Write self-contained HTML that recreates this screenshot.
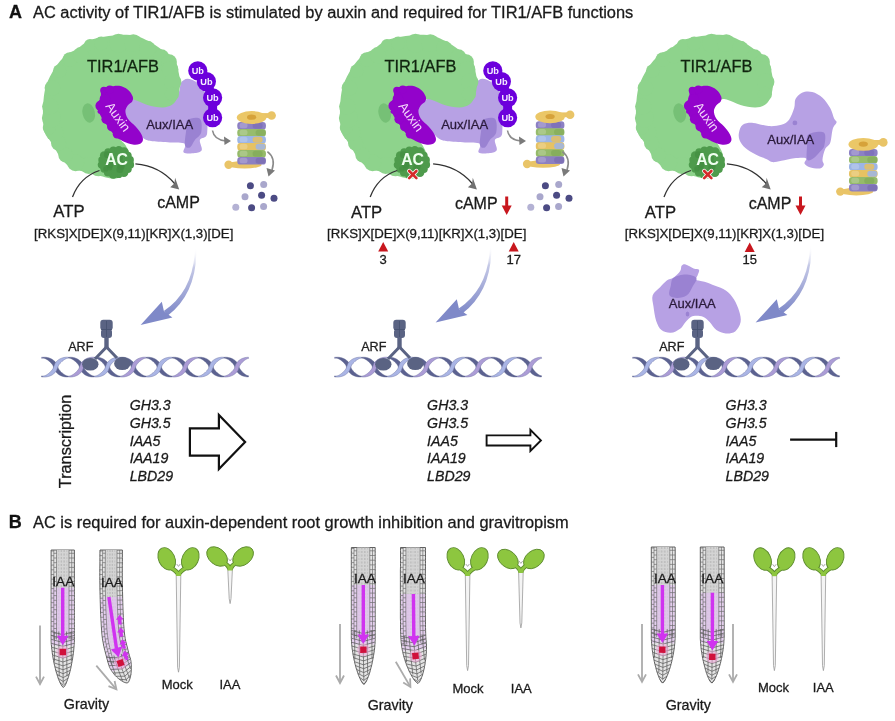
<!DOCTYPE html>
<html><head><meta charset="utf-8"><style>
html,body{margin:0;padding:0;background:#fff;}
svg{display:block;font-family:'Liberation Sans',sans-serif;will-change:transform;}
svg text{font-family:'Liberation Sans',sans-serif;}
</style></head><body>
<svg width="895" height="721" viewBox="0 0 895 721">
<rect width="895" height="721" fill="#ffffff"/>
<defs><linearGradient id="bg" x1="0" y1="0" x2="0" y2="1"><stop offset="0" stop-color="#ffffff" stop-opacity="0"/><stop offset="0.3" stop-color="#C4C8E6"/><stop offset="1" stop-color="#7F89C8"/></linearGradient></defs>
<text x="9.0" y="17.9" font-size="18" fill="#111" stroke="#111" stroke-width="0.28" font-weight="bold" font-style="normal" text-anchor="start" >A</text>
<text x="33" y="17.8" font-size="16.42" fill="#1a1a1a" stroke="#1a1a1a" stroke-width="0.28" font-weight="normal" font-style="normal" text-anchor="start" >AC activity of TIR1/AFB is stimulated by auxin and required for TIR1/AFB functions</text>
<path d="M121.0,114.0 C118.7,109.2 122.1,106.5 124.0,104.0 C125.9,101.5 129.0,100.0 132.5,99.0 C136.0,98.0 140.2,98.0 145.0,98.0 C149.8,98.0 156.4,99.0 161.2,99.0 C166.0,99.0 171.0,99.2 174.0,98.0 C177.0,96.8 177.8,94.6 179.0,92.0 C180.2,89.4 179.8,84.7 181.2,82.5 C182.6,80.3 185.1,78.9 187.4,78.7 C189.7,78.5 192.3,79.7 194.9,81.2 C197.5,82.8 200.8,84.0 203.0,88.0 C205.2,92.0 207.3,98.2 208.0,105.0 C208.7,111.8 207.7,123.5 207.4,128.7 C207.1,133.9 207.3,134.3 206.1,136.2 C204.8,138.1 200.6,137.6 199.9,139.9 C199.2,142.2 202.6,147.7 201.8,149.9 C201.0,152.1 197.9,152.6 194.9,153.0 C191.9,153.4 185.4,154.0 183.7,152.4 C182.0,150.8 187.2,145.4 184.9,143.7 C182.6,142.0 175.3,142.8 169.9,142.4 C164.5,142.0 156.7,141.7 152.5,141.2 C148.3,140.7 147.4,140.7 145.0,139.3 C142.6,137.9 142.0,137.2 138.0,133.0 C134.0,128.8 123.3,118.8 121.0,114.0 Z" fill="#B7A1E4"/>
<path d="M187.4,120.0 C189.7,118.1 197.6,116.6 199.9,118.7 C202.2,120.8 202.0,128.9 201.2,132.4 C200.4,135.9 196.8,137.4 194.9,139.9 C193.0,142.4 191.6,146.6 189.9,147.4 C188.2,148.2 185.5,147.8 184.9,144.9 C184.3,142.0 185.8,134.2 186.2,130.0 C186.6,125.8 185.1,121.9 187.4,120.0 Z" fill="#9A82D2"/>
<path d="M55.0,68.0 C58.3,62.8 62.3,58.2 66.0,55.0 C69.7,51.8 73.3,51.3 77.0,49.0 C80.7,46.7 84.2,42.9 88.0,41.0 C91.8,39.1 95.0,38.5 100.0,37.5 C105.0,36.5 112.2,35.3 118.0,35.0 C123.8,34.7 129.5,34.2 135.0,35.5 C140.5,36.8 146.0,39.8 151.0,42.5 C156.0,45.2 161.2,49.4 165.0,52.0 C168.8,54.6 171.9,55.4 174.0,58.0 C176.1,60.6 176.5,63.5 177.5,67.5 C178.5,71.5 179.9,77.2 180.0,82.0 C180.1,86.8 179.3,92.2 178.0,96.0 C176.7,99.8 175.0,102.6 172.4,104.5 C169.8,106.4 166.6,107.3 162.4,107.4 C158.2,107.5 152.1,106.1 147.5,104.9 C142.9,103.7 138.4,100.8 135.0,100.0 C131.6,99.2 130.0,98.3 127.0,100.0 C124.0,101.7 119.2,105.8 117.0,110.0 C114.8,114.2 113.7,120.3 114.0,125.0 C114.3,129.7 117.0,134.5 119.0,138.0 C121.0,141.5 124.2,142.3 126.0,146.0 C127.8,149.7 131.3,154.7 130.0,160.0 C128.7,165.3 123.5,175.5 118.0,178.0 C112.5,180.5 102.2,176.0 97.0,175.0 C91.8,174.0 91.1,173.1 87.0,172.0 C82.9,170.9 76.8,170.9 72.5,168.7 C68.2,166.5 64.3,162.4 61.2,158.7 C58.1,154.9 56.1,150.0 53.7,146.2 C51.3,142.4 48.7,138.9 47.0,136.0 C45.3,133.1 44.4,133.7 43.7,128.7 C43.1,123.7 42.7,113.3 43.1,106.2 C43.5,99.1 44.0,92.4 46.0,86.0 C48.0,79.6 51.7,73.2 55.0,68.0 Z" fill="#8ED38C"/>
<g fill="#8ED38C"><circle cx="59.7" cy="71.0" r="6.8"/><circle cx="69.9" cy="59.5" r="7.3"/><circle cx="81.0" cy="55.3" r="8.2"/><circle cx="90.0" cy="45.0" r="6.0"/><circle cx="101.2" cy="43.4" r="6.9"/><circle cx="118.5" cy="43.3" r="9.5"/><circle cx="133.3" cy="43.1" r="8.9"/><circle cx="147.4" cy="49.0" r="8.2"/><circle cx="161.3" cy="57.5" r="8.2"/><circle cx="169.1" cy="62.0" r="7.8"/><circle cx="170.1" cy="69.4" r="8.3"/><circle cx="172.7" cy="82.1" r="8.7"/><circle cx="171.9" cy="93.9" r="7.1"/><circle cx="98.5" cy="167.3" r="9.0"/><circle cx="88.7" cy="165.4" r="8.5"/><circle cx="75.6" cy="162.7" r="8.5"/><circle cx="65.7" cy="155.0" r="7.4"/><circle cx="58.6" cy="143.1" r="7.6"/><circle cx="54.3" cy="131.9" r="9.1"/><circle cx="49.3" cy="128.0" r="6.5"/><circle cx="51.3" cy="118.0" r="9.4"/><circle cx="50.3" cy="106.6" r="8.2"/><circle cx="52.4" cy="88.0" r="7.8"/></g>
<ellipse cx="88.7" cy="113" rx="6.2" ry="9.8" fill="#76C076" transform="rotate(-12 88.7 113)"/>
<text x="87" y="72.4" font-size="16.4" fill="#10240f" stroke="#10240f" stroke-width="0.28" font-weight="normal" font-style="normal" text-anchor="start" >TIR1/AFB</text>
<path d="M101.7,88.7 C103.2,86.9 106.5,87.3 109.4,86.8 C112.3,86.3 116.0,85.3 119.1,85.8 C122.2,86.3 125.6,87.9 127.9,89.7 C130.2,91.5 132.0,94.5 132.7,96.5 C133.4,98.5 133.0,100.0 132.2,101.4 C131.4,102.9 129.0,103.6 127.9,105.2 C126.8,106.8 125.4,108.8 125.4,111.1 C125.4,113.4 126.2,116.2 127.9,118.8 C129.6,121.4 133.3,124.0 135.6,126.6 C137.9,129.2 140.3,132.1 141.5,134.4 C142.7,136.7 143.2,138.6 142.9,140.2 C142.6,141.8 141.2,143.4 139.5,144.1 C137.8,144.8 135.4,145.1 132.7,144.6 C129.9,144.1 125.9,142.6 123.0,141.2 C120.1,139.8 117.5,138.4 115.2,136.3 C112.9,134.2 111.3,131.1 109.4,128.5 C107.5,125.9 105.4,123.5 103.6,120.8 C101.8,118.0 99.8,114.6 98.7,112.0 C97.6,109.4 96.5,107.6 96.8,105.2 C97.1,102.8 99.9,100.2 100.7,97.5 C101.5,94.8 100.2,90.5 101.7,88.7 Z" fill="#9303CB"/>
<g fill="#9303CB"><circle cx="117.1" cy="134.3" r="4.3"/><circle cx="111.9" cy="126.6" r="4.9"/><circle cx="106.1" cy="119.2" r="4.7"/><circle cx="99.7" cy="111.6" r="2.2"/><circle cx="100.8" cy="105.7" r="5.4"/><circle cx="105.0" cy="98.8" r="5.3"/><circle cx="103.9" cy="90.5" r="3.7"/><circle cx="109.8" cy="89.5" r="4.0"/></g>
<text x="0" y="0" font-size="13" fill="#f4d8fb" transform="translate(105,106.3) rotate(54)">Auxin</text>
<text x="146.2" y="128.7" font-size="13" fill="#2a1a3a" stroke="#2a1a3a" stroke-width="0.28" font-weight="normal" font-style="normal" text-anchor="start" >Aux/IAA</text>
<ellipse cx="116" cy="162.3" rx="15.5" ry="13.5" fill="#4E9B4C"/>
<circle cx="130.0" cy="164.7" r="4.1" fill="#4E9B4C"/>
<circle cx="127.9" cy="169.2" r="3.8" fill="#4E9B4C"/>
<circle cx="123.9" cy="172.6" r="4.5" fill="#4E9B4C"/>
<circle cx="118.7" cy="174.4" r="3.7" fill="#4E9B4C"/>
<circle cx="113.2" cy="174.4" r="4.4" fill="#4E9B4C"/>
<circle cx="108.0" cy="172.5" r="4.1" fill="#4E9B4C"/>
<circle cx="104.1" cy="169.1" r="3.7" fill="#4E9B4C"/>
<circle cx="102.0" cy="164.7" r="4.3" fill="#4E9B4C"/>
<circle cx="102.0" cy="159.9" r="3.7" fill="#4E9B4C"/>
<circle cx="104.1" cy="155.4" r="4.2" fill="#4E9B4C"/>
<circle cx="108.1" cy="152.0" r="3.7" fill="#4E9B4C"/>
<circle cx="113.3" cy="150.2" r="3.7" fill="#4E9B4C"/>
<circle cx="118.8" cy="150.2" r="4.2" fill="#4E9B4C"/>
<circle cx="124.0" cy="152.1" r="4.8" fill="#4E9B4C"/>
<circle cx="127.9" cy="155.5" r="3.8" fill="#4E9B4C"/>
<circle cx="130.0" cy="159.9" r="3.9" fill="#4E9B4C"/>
<circle cx="107.3" cy="154.7" r="3.4" fill="#438F42" opacity="0.7"/>
<circle cx="105.8" cy="168.9" r="2.6" fill="#438F42" opacity="0.7"/>
<circle cx="120.2" cy="157.9" r="2.7" fill="#438F42" opacity="0.7"/>
<circle cx="121.0" cy="166.2" r="3.7" fill="#438F42" opacity="0.7"/>
<circle cx="119.9" cy="169.4" r="3.5" fill="#438F42" opacity="0.7"/>
<circle cx="109.8" cy="167.8" r="2.6" fill="#438F42" opacity="0.7"/>
<circle cx="121.4" cy="164.1" r="3.5" fill="#438F42" opacity="0.7"/>
<circle cx="109.9" cy="164.9" r="3.4" fill="#438F42" opacity="0.7"/>
<circle cx="109.6" cy="164.0" r="3.7" fill="#438F42" opacity="0.7"/>
<text x="116.6" y="164.5" font-size="15.8" fill="#f0fff0" font-weight="bold" font-style="normal" text-anchor="middle" >AC</text>
<path d="M416.0,114.0 C413.7,109.2 417.1,106.5 419.0,104.0 C420.9,101.5 424.0,100.0 427.5,99.0 C431.0,98.0 435.2,98.0 440.0,98.0 C444.8,98.0 451.4,99.0 456.2,99.0 C461.0,99.0 466.0,99.2 469.0,98.0 C472.0,96.8 472.8,94.6 474.0,92.0 C475.2,89.4 474.8,84.7 476.2,82.5 C477.6,80.3 480.1,78.9 482.4,78.7 C484.7,78.5 487.3,79.7 489.9,81.2 C492.5,82.8 495.8,84.0 498.0,88.0 C500.2,92.0 502.3,98.2 503.0,105.0 C503.7,111.8 502.7,123.5 502.4,128.7 C502.1,133.9 502.4,134.3 501.1,136.2 C499.9,138.1 495.6,137.6 494.9,139.9 C494.2,142.2 497.6,147.7 496.8,149.9 C496.0,152.1 492.9,152.6 489.9,153.0 C486.9,153.4 480.4,154.0 478.7,152.4 C477.0,150.8 482.2,145.4 479.9,143.7 C477.6,142.0 470.3,142.8 464.9,142.4 C459.5,142.0 451.6,141.7 447.5,141.2 C443.4,140.7 442.4,140.7 440.0,139.3 C437.6,137.9 437.0,137.2 433.0,133.0 C429.0,128.8 418.3,118.8 416.0,114.0 Z" fill="#B7A1E4"/>
<path d="M482.4,120.0 C484.7,118.1 492.6,116.6 494.9,118.7 C497.2,120.8 497.0,128.9 496.2,132.4 C495.4,135.9 491.8,137.4 489.9,139.9 C488.0,142.4 486.6,146.6 484.9,147.4 C483.2,148.2 480.5,147.8 479.9,144.9 C479.3,142.0 480.8,134.2 481.2,130.0 C481.6,125.8 480.1,121.9 482.4,120.0 Z" fill="#9A82D2"/>
<path d="M352.0,68.0 C355.3,62.8 359.3,58.2 363.0,55.0 C366.7,51.8 370.3,51.3 374.0,49.0 C377.7,46.7 381.2,42.9 385.0,41.0 C388.8,39.1 392.0,38.5 397.0,37.5 C402.0,36.5 409.2,35.3 415.0,35.0 C420.8,34.7 426.5,34.2 432.0,35.5 C437.5,36.8 443.0,39.8 448.0,42.5 C453.0,45.2 458.2,49.4 462.0,52.0 C465.8,54.6 468.9,55.4 471.0,58.0 C473.1,60.6 473.5,63.5 474.5,67.5 C475.5,71.5 476.9,77.2 477.0,82.0 C477.1,86.8 476.3,92.2 475.0,96.0 C473.7,99.8 472.0,102.6 469.4,104.5 C466.8,106.4 463.5,107.3 459.4,107.4 C455.2,107.5 449.1,106.1 444.5,104.9 C439.9,103.7 435.4,100.8 432.0,100.0 C428.6,99.2 427.0,98.3 424.0,100.0 C421.0,101.7 416.2,105.8 414.0,110.0 C411.8,114.2 410.7,120.3 411.0,125.0 C411.3,129.7 414.0,134.5 416.0,138.0 C418.0,141.5 421.2,142.3 423.0,146.0 C424.8,149.7 428.3,154.7 427.0,160.0 C425.7,165.3 420.5,175.5 415.0,178.0 C409.5,180.5 399.2,176.0 394.0,175.0 C388.8,174.0 388.1,173.1 384.0,172.0 C379.9,170.9 373.8,170.9 369.5,168.7 C365.2,166.5 361.3,162.4 358.2,158.7 C355.1,154.9 353.1,150.0 350.7,146.2 C348.3,142.4 345.7,138.9 344.0,136.0 C342.3,133.1 341.3,133.7 340.7,128.7 C340.1,123.7 339.7,113.3 340.1,106.2 C340.5,99.1 341.0,92.4 343.0,86.0 C345.0,79.6 348.7,73.2 352.0,68.0 Z" fill="#8ED38C"/>
<g fill="#8ED38C"><circle cx="356.7" cy="71.0" r="6.8"/><circle cx="366.9" cy="59.5" r="7.3"/><circle cx="378.0" cy="55.3" r="8.2"/><circle cx="387.0" cy="45.0" r="6.0"/><circle cx="398.2" cy="43.4" r="6.9"/><circle cx="415.5" cy="43.3" r="9.5"/><circle cx="430.3" cy="43.1" r="8.9"/><circle cx="444.4" cy="49.0" r="8.2"/><circle cx="458.3" cy="57.5" r="8.2"/><circle cx="466.1" cy="62.0" r="7.8"/><circle cx="467.1" cy="69.4" r="8.3"/><circle cx="469.7" cy="82.1" r="8.7"/><circle cx="468.9" cy="93.9" r="7.1"/><circle cx="395.5" cy="167.3" r="9.0"/><circle cx="385.7" cy="165.4" r="8.5"/><circle cx="372.6" cy="162.7" r="8.5"/><circle cx="362.7" cy="155.0" r="7.4"/><circle cx="355.6" cy="143.1" r="7.6"/><circle cx="351.3" cy="131.9" r="9.1"/><circle cx="346.3" cy="128.0" r="6.5"/><circle cx="348.3" cy="118.0" r="9.4"/><circle cx="347.3" cy="106.6" r="8.2"/><circle cx="349.4" cy="88.0" r="7.8"/></g>
<ellipse cx="384.7" cy="113" rx="6.2" ry="9.8" fill="#76C076" transform="rotate(-12 384.7 113)"/>
<text x="384.4" y="72.4" font-size="16.4" fill="#10240f" stroke="#10240f" stroke-width="0.28" font-weight="normal" font-style="normal" text-anchor="start" >TIR1/AFB</text>
<path d="M394.7,88.7 C396.1,86.9 399.5,87.3 402.4,86.8 C405.3,86.3 409.0,85.3 412.1,85.8 C415.2,86.3 418.6,87.9 420.9,89.7 C423.2,91.5 425.0,94.5 425.7,96.5 C426.4,98.5 426.0,100.0 425.2,101.4 C424.4,102.9 422.0,103.6 420.9,105.2 C419.8,106.8 418.4,108.8 418.4,111.1 C418.4,113.4 419.2,116.2 420.9,118.8 C422.6,121.4 426.3,124.0 428.6,126.6 C430.9,129.2 433.3,132.1 434.5,134.4 C435.7,136.7 436.2,138.6 435.9,140.2 C435.6,141.8 434.2,143.4 432.5,144.1 C430.8,144.8 428.4,145.1 425.7,144.6 C422.9,144.1 418.9,142.6 416.0,141.2 C413.1,139.8 410.5,138.4 408.2,136.3 C405.9,134.2 404.3,131.1 402.4,128.5 C400.5,125.9 398.4,123.5 396.6,120.8 C394.8,118.0 392.8,114.6 391.7,112.0 C390.6,109.4 389.5,107.6 389.8,105.2 C390.1,102.8 392.9,100.2 393.7,97.5 C394.5,94.8 393.2,90.5 394.7,88.7 Z" fill="#9303CB"/>
<g fill="#9303CB"><circle cx="410.1" cy="134.3" r="4.3"/><circle cx="404.9" cy="126.6" r="4.9"/><circle cx="399.1" cy="119.2" r="4.7"/><circle cx="392.7" cy="111.6" r="2.2"/><circle cx="393.8" cy="105.7" r="5.4"/><circle cx="398.0" cy="98.8" r="5.3"/><circle cx="396.9" cy="90.5" r="3.7"/><circle cx="402.8" cy="89.5" r="4.0"/></g>
<text x="0" y="0" font-size="13" fill="#f4d8fb" transform="translate(398,106.3) rotate(54)">Auxin</text>
<text x="441.2" y="128.7" font-size="13" fill="#2a1a3a" stroke="#2a1a3a" stroke-width="0.28" font-weight="normal" font-style="normal" text-anchor="start" >Aux/IAA</text>
<ellipse cx="412" cy="162.3" rx="15.5" ry="13.5" fill="#4E9B4C"/>
<circle cx="426.0" cy="164.7" r="4.1" fill="#4E9B4C"/>
<circle cx="423.9" cy="169.2" r="3.8" fill="#4E9B4C"/>
<circle cx="419.9" cy="172.6" r="4.5" fill="#4E9B4C"/>
<circle cx="414.7" cy="174.4" r="3.7" fill="#4E9B4C"/>
<circle cx="409.2" cy="174.4" r="4.4" fill="#4E9B4C"/>
<circle cx="404.0" cy="172.5" r="4.1" fill="#4E9B4C"/>
<circle cx="400.1" cy="169.1" r="3.7" fill="#4E9B4C"/>
<circle cx="398.0" cy="164.7" r="4.3" fill="#4E9B4C"/>
<circle cx="398.0" cy="159.9" r="3.7" fill="#4E9B4C"/>
<circle cx="400.1" cy="155.4" r="4.2" fill="#4E9B4C"/>
<circle cx="404.1" cy="152.0" r="3.7" fill="#4E9B4C"/>
<circle cx="409.3" cy="150.2" r="3.7" fill="#4E9B4C"/>
<circle cx="414.8" cy="150.2" r="4.2" fill="#4E9B4C"/>
<circle cx="420.0" cy="152.1" r="4.8" fill="#4E9B4C"/>
<circle cx="423.9" cy="155.5" r="3.8" fill="#4E9B4C"/>
<circle cx="426.0" cy="159.9" r="3.9" fill="#4E9B4C"/>
<circle cx="403.3" cy="154.7" r="3.4" fill="#438F42" opacity="0.7"/>
<circle cx="401.8" cy="168.9" r="2.6" fill="#438F42" opacity="0.7"/>
<circle cx="416.2" cy="157.9" r="2.7" fill="#438F42" opacity="0.7"/>
<circle cx="417.0" cy="166.2" r="3.7" fill="#438F42" opacity="0.7"/>
<circle cx="415.9" cy="169.4" r="3.5" fill="#438F42" opacity="0.7"/>
<circle cx="405.8" cy="167.8" r="2.6" fill="#438F42" opacity="0.7"/>
<circle cx="417.4" cy="164.1" r="3.5" fill="#438F42" opacity="0.7"/>
<circle cx="405.9" cy="164.9" r="3.4" fill="#438F42" opacity="0.7"/>
<circle cx="405.6" cy="164.0" r="3.7" fill="#438F42" opacity="0.7"/>
<text x="412.6" y="164.5" font-size="15.8" fill="#f0fff0" font-weight="bold" font-style="normal" text-anchor="middle" >AC</text>
<g stroke="#fff" stroke-width="4.2" stroke-linecap="round"><line x1="409.2" y1="171.0" x2="416.40000000000003" y2="178.2"/><line x1="416.40000000000003" y1="171.0" x2="409.2" y2="178.2"/></g>
<g stroke="#D42A2A" stroke-width="2.6" stroke-linecap="round"><line x1="409.2" y1="171.0" x2="416.40000000000003" y2="178.2"/><line x1="416.40000000000003" y1="171.0" x2="409.2" y2="178.2"/></g>
<path d="M648.0,68.0 C651.3,62.8 655.3,58.2 659.0,55.0 C662.7,51.8 666.3,51.3 670.0,49.0 C673.7,46.7 677.2,42.9 681.0,41.0 C684.8,39.1 688.0,38.5 693.0,37.5 C698.0,36.5 705.2,35.3 711.0,35.0 C716.8,34.7 722.5,34.2 728.0,35.5 C733.5,36.8 739.0,39.8 744.0,42.5 C749.0,45.2 754.2,49.4 758.0,52.0 C761.8,54.6 764.9,55.4 767.0,58.0 C769.1,60.6 769.5,63.5 770.5,67.5 C771.5,71.5 772.9,77.2 773.0,82.0 C773.1,86.8 772.3,92.2 771.0,96.0 C769.7,99.8 768.0,102.6 765.4,104.5 C762.8,106.4 759.5,107.3 755.4,107.4 C751.2,107.5 745.1,106.1 740.5,104.9 C735.9,103.7 731.4,100.8 728.0,100.0 C724.6,99.2 723.0,98.3 720.0,100.0 C717.0,101.7 712.2,105.8 710.0,110.0 C707.8,114.2 706.7,120.3 707.0,125.0 C707.3,129.7 710.0,134.5 712.0,138.0 C714.0,141.5 717.2,142.3 719.0,146.0 C720.8,149.7 724.3,154.7 723.0,160.0 C721.7,165.3 716.5,175.5 711.0,178.0 C705.5,180.5 695.2,176.0 690.0,175.0 C684.8,174.0 684.1,173.1 680.0,172.0 C675.9,170.9 669.8,170.9 665.5,168.7 C661.2,166.5 657.3,162.4 654.2,158.7 C651.1,154.9 649.1,150.0 646.7,146.2 C644.3,142.4 641.7,138.9 640.0,136.0 C638.3,133.1 637.4,133.7 636.7,128.7 C636.1,123.7 635.7,113.3 636.1,106.2 C636.5,99.1 637.0,92.4 639.0,86.0 C641.0,79.6 644.7,73.2 648.0,68.0 Z" fill="#8ED38C"/>
<g fill="#8ED38C"><circle cx="652.7" cy="71.0" r="6.8"/><circle cx="662.9" cy="59.5" r="7.3"/><circle cx="674.0" cy="55.3" r="8.2"/><circle cx="683.0" cy="45.0" r="6.0"/><circle cx="694.2" cy="43.4" r="6.9"/><circle cx="711.5" cy="43.3" r="9.5"/><circle cx="726.3" cy="43.1" r="8.9"/><circle cx="740.4" cy="49.0" r="8.2"/><circle cx="754.3" cy="57.5" r="8.2"/><circle cx="762.1" cy="62.0" r="7.8"/><circle cx="763.1" cy="69.4" r="8.3"/><circle cx="765.7" cy="82.1" r="8.7"/><circle cx="764.9" cy="93.9" r="7.1"/><circle cx="691.5" cy="167.3" r="9.0"/><circle cx="681.7" cy="165.4" r="8.5"/><circle cx="668.6" cy="162.7" r="8.5"/><circle cx="658.7" cy="155.0" r="7.4"/><circle cx="651.6" cy="143.1" r="7.6"/><circle cx="647.3" cy="131.9" r="9.1"/><circle cx="642.3" cy="128.0" r="6.5"/><circle cx="644.3" cy="118.0" r="9.4"/><circle cx="643.3" cy="106.6" r="8.2"/><circle cx="645.4" cy="88.0" r="7.8"/></g>
<ellipse cx="679.7" cy="113" rx="6.2" ry="9.8" fill="#76C076" transform="rotate(-12 679.7 113)"/>
<text x="680.5" y="72.4" font-size="16.4" fill="#10240f" stroke="#10240f" stroke-width="0.28" font-weight="normal" font-style="normal" text-anchor="start" >TIR1/AFB</text>
<path d="M690.2,88.7 C691.7,86.9 695.0,87.3 697.9,86.8 C700.8,86.3 704.5,85.3 707.6,85.8 C710.7,86.3 714.1,87.9 716.4,89.7 C718.7,91.5 720.5,94.5 721.2,96.5 C721.9,98.5 721.5,100.0 720.7,101.4 C719.9,102.9 717.5,103.6 716.4,105.2 C715.3,106.8 713.9,108.8 713.9,111.1 C713.9,113.4 714.7,116.2 716.4,118.8 C718.1,121.4 721.8,124.0 724.1,126.6 C726.4,129.2 728.8,132.1 730.0,134.4 C731.2,136.7 731.7,138.6 731.4,140.2 C731.1,141.8 729.7,143.4 728.0,144.1 C726.3,144.8 724.0,145.1 721.2,144.6 C718.5,144.1 714.4,142.6 711.5,141.2 C708.6,139.8 706.0,138.4 703.7,136.3 C701.4,134.2 699.8,131.1 697.9,128.5 C696.0,125.9 693.9,123.5 692.1,120.8 C690.3,118.0 688.3,114.6 687.2,112.0 C686.1,109.4 685.0,107.6 685.3,105.2 C685.6,102.8 688.4,100.2 689.2,97.5 C690.0,94.8 688.8,90.5 690.2,88.7 Z" fill="#9303CB"/>
<g fill="#9303CB"><circle cx="705.6" cy="134.3" r="4.3"/><circle cx="700.4" cy="126.6" r="4.9"/><circle cx="694.6" cy="119.2" r="4.7"/><circle cx="688.2" cy="111.6" r="2.2"/><circle cx="689.3" cy="105.7" r="5.4"/><circle cx="693.5" cy="98.8" r="5.3"/><circle cx="692.4" cy="90.5" r="3.7"/><circle cx="698.3" cy="89.5" r="4.0"/></g>
<text x="0" y="0" font-size="13" fill="#f4d8fb" transform="translate(693.5,106.3) rotate(54)">Auxin</text>
<ellipse cx="707" cy="162.3" rx="15.5" ry="13.5" fill="#4E9B4C"/>
<circle cx="721.0" cy="164.7" r="4.1" fill="#4E9B4C"/>
<circle cx="718.9" cy="169.2" r="3.8" fill="#4E9B4C"/>
<circle cx="714.9" cy="172.6" r="4.5" fill="#4E9B4C"/>
<circle cx="709.7" cy="174.4" r="3.7" fill="#4E9B4C"/>
<circle cx="704.2" cy="174.4" r="4.4" fill="#4E9B4C"/>
<circle cx="699.0" cy="172.5" r="4.1" fill="#4E9B4C"/>
<circle cx="695.1" cy="169.1" r="3.7" fill="#4E9B4C"/>
<circle cx="693.0" cy="164.7" r="4.3" fill="#4E9B4C"/>
<circle cx="693.0" cy="159.9" r="3.7" fill="#4E9B4C"/>
<circle cx="695.1" cy="155.4" r="4.2" fill="#4E9B4C"/>
<circle cx="699.1" cy="152.0" r="3.7" fill="#4E9B4C"/>
<circle cx="704.3" cy="150.2" r="3.7" fill="#4E9B4C"/>
<circle cx="709.8" cy="150.2" r="4.2" fill="#4E9B4C"/>
<circle cx="715.0" cy="152.1" r="4.8" fill="#4E9B4C"/>
<circle cx="718.9" cy="155.5" r="3.8" fill="#4E9B4C"/>
<circle cx="721.0" cy="159.9" r="3.9" fill="#4E9B4C"/>
<circle cx="698.3" cy="154.7" r="3.4" fill="#438F42" opacity="0.7"/>
<circle cx="696.8" cy="168.9" r="2.6" fill="#438F42" opacity="0.7"/>
<circle cx="711.2" cy="157.9" r="2.7" fill="#438F42" opacity="0.7"/>
<circle cx="712.0" cy="166.2" r="3.7" fill="#438F42" opacity="0.7"/>
<circle cx="710.9" cy="169.4" r="3.5" fill="#438F42" opacity="0.7"/>
<circle cx="700.8" cy="167.8" r="2.6" fill="#438F42" opacity="0.7"/>
<circle cx="712.4" cy="164.1" r="3.5" fill="#438F42" opacity="0.7"/>
<circle cx="700.9" cy="164.9" r="3.4" fill="#438F42" opacity="0.7"/>
<circle cx="700.6" cy="164.0" r="3.7" fill="#438F42" opacity="0.7"/>
<text x="707.6" y="164.5" font-size="15.8" fill="#f0fff0" font-weight="bold" font-style="normal" text-anchor="middle" >AC</text>
<g stroke="#fff" stroke-width="4.2" stroke-linecap="round"><line x1="704.1999999999999" y1="171.0" x2="711.4" y2="178.2"/><line x1="711.4" y1="171.0" x2="704.1999999999999" y2="178.2"/></g>
<g stroke="#D42A2A" stroke-width="2.6" stroke-linecap="round"><line x1="704.1999999999999" y1="171.0" x2="711.4" y2="178.2"/><line x1="711.4" y1="171.0" x2="704.1999999999999" y2="178.2"/></g>
<path d="M739.0,132.5 C739.5,129.9 740.4,126.4 742.8,124.8 C745.1,123.2 748.8,122.7 753.1,122.9 C757.4,123.1 763.8,125.8 768.5,126.1 C773.2,126.4 778.0,125.9 781.4,124.8 C784.8,123.7 787.0,122.5 789.1,119.7 C791.2,116.9 793.1,111.5 794.2,108.1 C795.3,104.7 794.2,101.7 795.5,99.1 C796.8,96.5 799.2,93.9 802.0,92.7 C804.8,91.5 808.8,91.2 812.2,92.1 C815.6,92.9 819.5,95.1 822.5,97.8 C825.5,100.5 828.3,104.7 830.2,108.1 C832.1,111.5 833.0,116.0 834.1,118.4 C835.2,120.8 836.8,120.6 836.6,122.3 C836.4,124.0 833.9,125.3 832.8,128.7 C831.7,132.1 831.5,139.4 830.2,142.8 C828.9,146.2 826.4,146.4 825.1,149.2 C823.8,152.0 822.7,156.9 822.5,159.5 C822.3,162.1 824.2,163.2 823.8,164.7 C823.4,166.2 822.2,168.1 819.9,168.5 C817.5,168.9 812.3,168.0 809.7,167.2 C807.1,166.3 805.1,164.9 804.5,163.4 C803.9,161.9 807.5,159.1 805.8,158.2 C804.1,157.3 798.3,157.8 794.2,158.2 C790.1,158.6 785.0,160.2 781.4,160.8 C777.8,161.5 774.8,162.3 772.4,162.1 C770.0,161.9 770.1,160.8 767.3,159.5 C764.5,158.2 759.4,156.3 755.7,154.4 C752.1,152.5 748.1,150.4 745.4,148.0 C742.7,145.6 740.7,142.8 739.6,140.2 C738.5,137.6 738.5,135.1 739.0,132.5 Z" fill="#B7A1E4"/>
<path d="M808.4,134.5 C811.2,132.3 821.1,130.7 823.8,132.5 C826.5,134.3 825.0,142.2 824.4,145.4 C823.8,148.6 821.7,149.7 819.9,151.8 C818.1,153.9 815.6,156.9 813.5,158.2 C811.4,159.5 808.2,161.6 807.1,159.5 C806.0,157.4 806.9,149.6 807.1,145.4 C807.3,141.2 805.6,136.7 808.4,134.5 Z" fill="#9A82D2"/>
<circle cx="794.9" cy="122.9" r="2.4" fill="#9A82D2"/>
<text x="767.3" y="143.5" font-size="13" fill="#2a1a3a" stroke="#2a1a3a" stroke-width="0.28" font-weight="normal" font-style="normal" text-anchor="start" >Aux/IAA</text>
<line x1="197.8" y1="70.8" x2="206.4" y2="81.6" stroke="#6C00DC" stroke-width="9"/>
<line x1="206.4" y1="81.6" x2="212.6" y2="97.8" stroke="#6C00DC" stroke-width="9"/>
<line x1="212.6" y1="97.8" x2="212.6" y2="117.7" stroke="#6C00DC" stroke-width="9"/>
<circle cx="197.8" cy="70.8" r="9.6" fill="#6C00DC"/>
<circle cx="206.4" cy="81.6" r="9.6" fill="#6C00DC"/>
<circle cx="212.6" cy="97.8" r="9.6" fill="#6C00DC"/>
<circle cx="212.6" cy="117.7" r="9.6" fill="#6C00DC"/>
<text x="197.8" y="74.1" font-size="9.2" fill="#f4ecff" font-weight="bold" font-style="normal" text-anchor="middle" >Ub</text>
<text x="206.4" y="84.89999999999999" font-size="9.2" fill="#f4ecff" font-weight="bold" font-style="normal" text-anchor="middle" >Ub</text>
<text x="212.6" y="101.1" font-size="9.2" fill="#f4ecff" font-weight="bold" font-style="normal" text-anchor="middle" >Ub</text>
<text x="212.6" y="121.0" font-size="9.2" fill="#f4ecff" font-weight="bold" font-style="normal" text-anchor="middle" >Ub</text>
<line x1="492.8" y1="70.8" x2="501.4" y2="81.6" stroke="#6C00DC" stroke-width="9"/>
<line x1="501.4" y1="81.6" x2="507.6" y2="97.8" stroke="#6C00DC" stroke-width="9"/>
<line x1="507.6" y1="97.8" x2="507.6" y2="117.7" stroke="#6C00DC" stroke-width="9"/>
<circle cx="492.8" cy="70.8" r="9.6" fill="#6C00DC"/>
<circle cx="501.4" cy="81.6" r="9.6" fill="#6C00DC"/>
<circle cx="507.6" cy="97.8" r="9.6" fill="#6C00DC"/>
<circle cx="507.6" cy="117.7" r="9.6" fill="#6C00DC"/>
<text x="492.8" y="74.1" font-size="9.2" fill="#f4ecff" font-weight="bold" font-style="normal" text-anchor="middle" >Ub</text>
<text x="501.4" y="84.89999999999999" font-size="9.2" fill="#f4ecff" font-weight="bold" font-style="normal" text-anchor="middle" >Ub</text>
<text x="507.6" y="101.1" font-size="9.2" fill="#f4ecff" font-weight="bold" font-style="normal" text-anchor="middle" >Ub</text>
<text x="507.6" y="121.0" font-size="9.2" fill="#f4ecff" font-weight="bold" font-style="normal" text-anchor="middle" >Ub</text>
<ellipse cx="244.6" cy="164.7" rx="17" ry="3.8" fill="#E9C467"/>
<circle cx="228.6" cy="164.7" r="4.2" fill="#E9C467"/>
<rect x="237.3" y="122.0" width="28.599999999999987" height="7.6" rx="3.2" fill="#8C80C4"/>
<rect x="252.6" y="122.8" width="10" height="6.0" rx="2.8" fill="#7D70B8" opacity="0.85"/>
<rect x="239.5" y="122.8" width="8" height="5.5" rx="2.5" fill="#ffffff" opacity="0.2"/>
<rect x="237.3" y="129.0" width="28.599999999999987" height="7.6" rx="3.2" fill="#97BC6C"/>
<rect x="255.6" y="129.8" width="10" height="6.0" rx="2.8" fill="#86AE5C" opacity="0.85"/>
<rect x="239.5" y="129.8" width="8" height="5.5" rx="2.5" fill="#ffffff" opacity="0.2"/>
<rect x="237.3" y="136.0" width="28.599999999999987" height="7.6" rx="3.2" fill="#9CB5E6"/>
<rect x="252.6" y="136.8" width="10" height="6.0" rx="2.8" fill="#E5BF60" opacity="0.85"/>
<rect x="239.5" y="136.8" width="8" height="5.5" rx="2.5" fill="#ffffff" opacity="0.2"/>
<rect x="237.3" y="143.0" width="28.599999999999987" height="7.6" rx="3.2" fill="#E6C263"/>
<rect x="255.6" y="143.8" width="10" height="6.0" rx="2.8" fill="#9CB5E6" opacity="0.85"/>
<rect x="239.5" y="143.8" width="8" height="5.5" rx="2.5" fill="#ffffff" opacity="0.2"/>
<rect x="237.3" y="150.0" width="28.599999999999987" height="7.6" rx="3.2" fill="#95BA6A"/>
<rect x="252.6" y="150.8" width="10" height="6.0" rx="2.8" fill="#84AC5A" opacity="0.85"/>
<rect x="239.5" y="150.8" width="8" height="5.5" rx="2.5" fill="#ffffff" opacity="0.2"/>
<rect x="237.3" y="157.0" width="28.599999999999987" height="7.6" rx="3.2" fill="#8C80C2"/>
<rect x="255.6" y="157.8" width="10" height="6.0" rx="2.8" fill="#7B6EB4" opacity="0.85"/>
<rect x="239.5" y="157.8" width="8" height="5.5" rx="2.5" fill="#ffffff" opacity="0.2"/>
<rect x="261.6" y="113.1" width="10" height="4.8" fill="#E9C467"/>
<circle cx="271.6" cy="115.5" r="4.3" fill="#E9C467"/>
<ellipse cx="251.6" cy="117.5" rx="14.8" ry="6.4" fill="#EBC767"/>
<ellipse cx="251.6" cy="117.2" rx="4.6" ry="2.6" fill="#D6A23A"/>
<ellipse cx="543.1" cy="164.0" rx="17" ry="3.8" fill="#E9C467"/>
<circle cx="527.1" cy="164.0" r="4.2" fill="#E9C467"/>
<rect x="535.8" y="121.3" width="28.600000000000044" height="7.6" rx="3.2" fill="#8C80C4"/>
<rect x="551.1" y="122.1" width="10" height="6.0" rx="2.8" fill="#7D70B8" opacity="0.85"/>
<rect x="538.0" y="122.1" width="8" height="5.5" rx="2.5" fill="#ffffff" opacity="0.2"/>
<rect x="535.8" y="128.3" width="28.600000000000044" height="7.6" rx="3.2" fill="#97BC6C"/>
<rect x="554.1" y="129.10000000000002" width="10" height="6.0" rx="2.8" fill="#86AE5C" opacity="0.85"/>
<rect x="538.0" y="129.10000000000002" width="8" height="5.5" rx="2.5" fill="#ffffff" opacity="0.2"/>
<rect x="535.8" y="135.3" width="28.600000000000044" height="7.6" rx="3.2" fill="#9CB5E6"/>
<rect x="551.1" y="136.10000000000002" width="10" height="6.0" rx="2.8" fill="#E5BF60" opacity="0.85"/>
<rect x="538.0" y="136.10000000000002" width="8" height="5.5" rx="2.5" fill="#ffffff" opacity="0.2"/>
<rect x="535.8" y="142.3" width="28.600000000000044" height="7.6" rx="3.2" fill="#E6C263"/>
<rect x="554.1" y="143.10000000000002" width="10" height="6.0" rx="2.8" fill="#9CB5E6" opacity="0.85"/>
<rect x="538.0" y="143.10000000000002" width="8" height="5.5" rx="2.5" fill="#ffffff" opacity="0.2"/>
<rect x="535.8" y="149.3" width="28.600000000000044" height="7.6" rx="3.2" fill="#95BA6A"/>
<rect x="551.1" y="150.10000000000002" width="10" height="6.0" rx="2.8" fill="#84AC5A" opacity="0.85"/>
<rect x="538.0" y="150.10000000000002" width="8" height="5.5" rx="2.5" fill="#ffffff" opacity="0.2"/>
<rect x="535.8" y="156.3" width="28.600000000000044" height="7.6" rx="3.2" fill="#8C80C2"/>
<rect x="554.1" y="157.10000000000002" width="10" height="6.0" rx="2.8" fill="#7B6EB4" opacity="0.85"/>
<rect x="538.0" y="157.10000000000002" width="8" height="5.5" rx="2.5" fill="#ffffff" opacity="0.2"/>
<rect x="560.1" y="112.39999999999999" width="10" height="4.8" fill="#E9C467"/>
<circle cx="570.1" cy="114.8" r="4.3" fill="#E9C467"/>
<ellipse cx="550.1" cy="116.8" rx="14.8" ry="6.4" fill="#EBC767"/>
<ellipse cx="550.1" cy="116.5" rx="4.6" ry="2.6" fill="#D6A23A"/>
<ellipse cx="856.3" cy="191.60000000000002" rx="17" ry="3.8" fill="#E9C467"/>
<circle cx="840.3" cy="191.60000000000002" r="4.2" fill="#E9C467"/>
<rect x="848.9999999999999" y="148.9" width="28.600000000000044" height="7.6" rx="3.2" fill="#8C80C4"/>
<rect x="864.3" y="149.70000000000002" width="10" height="6.0" rx="2.8" fill="#7D70B8" opacity="0.85"/>
<rect x="851.1999999999999" y="149.70000000000002" width="8" height="5.5" rx="2.5" fill="#ffffff" opacity="0.2"/>
<rect x="848.9999999999999" y="155.9" width="28.600000000000044" height="7.6" rx="3.2" fill="#97BC6C"/>
<rect x="867.3" y="156.70000000000002" width="10" height="6.0" rx="2.8" fill="#86AE5C" opacity="0.85"/>
<rect x="851.1999999999999" y="156.70000000000002" width="8" height="5.5" rx="2.5" fill="#ffffff" opacity="0.2"/>
<rect x="848.9999999999999" y="162.9" width="28.600000000000044" height="7.6" rx="3.2" fill="#9CB5E6"/>
<rect x="864.3" y="163.70000000000002" width="10" height="6.0" rx="2.8" fill="#E5BF60" opacity="0.85"/>
<rect x="851.1999999999999" y="163.70000000000002" width="8" height="5.5" rx="2.5" fill="#ffffff" opacity="0.2"/>
<rect x="848.9999999999999" y="169.9" width="28.600000000000044" height="7.6" rx="3.2" fill="#E6C263"/>
<rect x="867.3" y="170.70000000000002" width="10" height="6.0" rx="2.8" fill="#9CB5E6" opacity="0.85"/>
<rect x="851.1999999999999" y="170.70000000000002" width="8" height="5.5" rx="2.5" fill="#ffffff" opacity="0.2"/>
<rect x="848.9999999999999" y="176.9" width="28.600000000000044" height="7.6" rx="3.2" fill="#95BA6A"/>
<rect x="864.3" y="177.70000000000002" width="10" height="6.0" rx="2.8" fill="#84AC5A" opacity="0.85"/>
<rect x="851.1999999999999" y="177.70000000000002" width="8" height="5.5" rx="2.5" fill="#ffffff" opacity="0.2"/>
<rect x="848.9999999999999" y="183.9" width="28.600000000000044" height="7.6" rx="3.2" fill="#8C80C2"/>
<rect x="867.3" y="184.70000000000002" width="10" height="6.0" rx="2.8" fill="#7B6EB4" opacity="0.85"/>
<rect x="851.1999999999999" y="184.70000000000002" width="8" height="5.5" rx="2.5" fill="#ffffff" opacity="0.2"/>
<rect x="873.3" y="140.0" width="10" height="4.8" fill="#E9C467"/>
<circle cx="883.3" cy="142.4" r="4.3" fill="#E9C467"/>
<ellipse cx="863.3" cy="144.4" rx="14.8" ry="6.4" fill="#EBC767"/>
<ellipse cx="863.3" cy="144.1" rx="4.6" ry="2.6" fill="#D6A23A"/>
<path d="M212.5,130.5 Q214,140 226,141" fill="none" stroke="#8a8a8a" stroke-width="1.6"/>
<polygon points="231.0,141.0 224.0,136.5 224.5,145.0" fill="#7a7a7a"/>
<path d="M267.4,151.6 Q276,158 272,170" fill="none" stroke="#8a8a8a" stroke-width="1.6"/>
<polygon points="268.5,176.5 266.5,168.0 275.0,170.5" fill="#7a7a7a"/>
<circle cx="250.4" cy="185.7" r="3.5" fill="#4C4B84"/>
<circle cx="263.7" cy="184.5" r="3.5" fill="#A9A7CC"/>
<circle cx="245" cy="196.8" r="3.5" fill="#A9A7CC"/>
<circle cx="261.6" cy="195.2" r="3.5" fill="#4C4B84"/>
<circle cx="274" cy="198.2" r="3.5" fill="#4C4B84"/>
<circle cx="235.8" cy="207.3" r="3.5" fill="#B4B2D4"/>
<circle cx="251.6" cy="207.8" r="3.5" fill="#4C4B84"/>
<circle cx="263.6" cy="206.5" r="3.5" fill="#A9A7CC"/>
<path d="M507.5,130.5 Q509,140 521,141" fill="none" stroke="#8a8a8a" stroke-width="1.6"/>
<polygon points="526.0,141.0 519.0,136.5 519.5,145.0" fill="#7a7a7a"/>
<path d="M562.4,151.6 Q571,158 567,170" fill="none" stroke="#8a8a8a" stroke-width="1.6"/>
<polygon points="563.5,176.5 561.5,168.0 570.0,170.5" fill="#7a7a7a"/>
<circle cx="545.4" cy="185.7" r="3.5" fill="#4C4B84"/>
<circle cx="558.7" cy="184.5" r="3.5" fill="#A9A7CC"/>
<circle cx="540" cy="196.8" r="3.5" fill="#A9A7CC"/>
<circle cx="556.6" cy="195.2" r="3.5" fill="#4C4B84"/>
<circle cx="569" cy="198.2" r="3.5" fill="#4C4B84"/>
<circle cx="530.8" cy="207.3" r="3.5" fill="#B4B2D4"/>
<circle cx="546.6" cy="207.8" r="3.5" fill="#4C4B84"/>
<circle cx="558.6" cy="206.5" r="3.5" fill="#A9A7CC"/>
<path d="M72.5,197 Q80,177 99.5,170.5" fill="none" stroke="#333" stroke-width="1.3"/>
<path d="M135.4,163.9 Q160,166 175,184" fill="none" stroke="#333" stroke-width="1.3"/>
<polygon points="179.2,189.4 175.1,177.8 174.4,183.5 170.2,187.2" fill="#707070"/>
<text x="53.3" y="216.9" font-size="16.7" fill="#1a1a1a" stroke="#1a1a1a" stroke-width="0.28" font-weight="normal" font-style="normal" text-anchor="start" >ATP</text>
<text x="157.2" y="207.5" font-size="16" fill="#1a1a1a" stroke="#1a1a1a" stroke-width="0.28" font-weight="normal" font-style="normal" text-anchor="start" >cAMP</text>
<path d="M370.2,197 Q377.7,177 397.2,170.5" fill="none" stroke="#333" stroke-width="1.3"/>
<path d="M433.1,163.9 Q457.7,166 472.7,184" fill="none" stroke="#333" stroke-width="1.3"/>
<polygon points="476.9,189.4 472.8,177.8 472.1,183.5 467.9,187.2" fill="#707070"/>
<text x="351.0" y="218.3" font-size="16.7" fill="#1a1a1a" stroke="#1a1a1a" stroke-width="0.28" font-weight="normal" font-style="normal" text-anchor="start" >ATP</text>
<text x="454.9" y="208.9" font-size="16" fill="#1a1a1a" stroke="#1a1a1a" stroke-width="0.28" font-weight="normal" font-style="normal" text-anchor="start" >cAMP</text>
<line x1="506.7" y1="196.5" x2="506.7" y2="208" stroke="#C8171E" stroke-width="3"/>
<polygon points="501.7,205.5 511.7,205.5 506.7,215.0" fill="#C8171E"/>
<path d="M664.0,197 Q671.5,177 691.0,170.5" fill="none" stroke="#333" stroke-width="1.3"/>
<path d="M726.9,163.9 Q751.5,166 766.5,184" fill="none" stroke="#333" stroke-width="1.3"/>
<polygon points="770.7,189.4 766.6,177.8 765.9,183.5 761.7,187.2" fill="#707070"/>
<text x="644.8" y="218.1" font-size="16.7" fill="#1a1a1a" stroke="#1a1a1a" stroke-width="0.28" font-weight="normal" font-style="normal" text-anchor="start" >ATP</text>
<text x="748.7" y="208.7" font-size="16" fill="#1a1a1a" stroke="#1a1a1a" stroke-width="0.28" font-weight="normal" font-style="normal" text-anchor="start" >cAMP</text>
<line x1="800.5" y1="196.5" x2="800.5" y2="208" stroke="#C8171E" stroke-width="3"/>
<polygon points="795.5,205.5 805.5,205.5 800.5,215.0" fill="#C8171E"/>
<text x="34.1" y="238.2" font-size="13.25" fill="#1a1a1a" stroke="#1a1a1a" stroke-width="0.28" font-weight="normal" font-style="normal" text-anchor="start" >[RKS]X[DE]X(9,11)[KR]X(1,3)[DE]</text>
<text x="327.1" y="237.6" font-size="13.25" fill="#1a1a1a" stroke="#1a1a1a" stroke-width="0.28" font-weight="normal" font-style="normal" text-anchor="start" >[RKS]X[DE]X(9,11)[KR]X(1,3)[DE]</text>
<text x="624.8000000000001" y="237.8" font-size="13.25" fill="#1a1a1a" stroke="#1a1a1a" stroke-width="0.28" font-weight="normal" font-style="normal" text-anchor="start" >[RKS]X[DE]X(9,11)[KR]X(1,3)[DE]</text>
<polygon points="378.2,251.5 388.2,251.5 383.2,242.0" fill="#C8171E"/>
<text x="383.2" y="263.5" font-size="13" fill="#1a1a1a" stroke="#1a1a1a" stroke-width="0.28" font-weight="normal" font-style="normal" text-anchor="middle" >3</text>
<polygon points="508.7,251.5 518.7,251.5 513.7,242.0" fill="#C8171E"/>
<text x="513.7" y="263.5" font-size="13" fill="#1a1a1a" stroke="#1a1a1a" stroke-width="0.28" font-weight="normal" font-style="normal" text-anchor="middle" >17</text>
<polygon points="744.7,252.0 754.7,252.0 749.7,242.5" fill="#C8171E"/>
<text x="749.7" y="264.0" font-size="13" fill="#1a1a1a" stroke="#1a1a1a" stroke-width="0.28" font-weight="normal" font-style="normal" text-anchor="middle" >15</text>
<path d="M195.1,247.5 Q193.8,291.0 163.8,311.0 L167.6,315.8 Q197.4,293.0 196.3,247.5 Z" fill="url(#bg)"/>
<polygon points="140.6,324.9 161.8,301.8 164.0,311.5 172.4,317.4" fill="#7F89C8"/>
<path d="M490.1,245.0 Q488.8,288.5 458.8,308.5 L462.6,313.3 Q492.4,290.5 491.3,245.0 Z" fill="url(#bg)"/>
<polygon points="435.6,322.4 456.8,299.3 459.0,309.0 467.4,314.9" fill="#7F89C8"/>
<path d="M810.1,245.0 Q808.8,288.5 778.8,308.5 L782.6,313.3 Q812.4,290.5 811.3,245.0 Z" fill="url(#bg)"/>
<polygon points="755.6,322.4 776.8,299.3 779.0,309.0 787.4,314.9" fill="#7F89C8"/>
<polygon points="41.6,377.0 41.6,377.0 41.7,377.0 41.7,377.0 41.8,377.0 41.8,377.0 41.9,377.0 41.9,377.0 42.0,377.0 42.0,377.0 42.1,377.0 42.1,377.0 42.2,377.0 42.2,377.0 42.3,377.0 42.3,377.0 42.4,377.0 42.4,377.0 42.5,377.0 42.5,377.0 42.6,377.0 42.6,377.0 42.7,377.0 42.7,377.0 42.8,376.9 42.7,376.1 42.7,376.0 42.7,376.0 42.6,376.0 42.6,376.0 42.5,376.0 42.5,376.0 42.4,376.0 42.4,376.0 42.3,376.0 42.3,376.0 42.2,376.0 42.2,376.0 42.2,376.0 42.1,376.0 42.1,376.0 42.0,376.0 42.0,376.0 41.9,376.0 41.9,376.0 41.8,376.0 41.8,375.9 41.7,375.9 41.7,375.9 41.6,375.9" fill="#5C6290" stroke="#5C6290" stroke-width="0.4"/>
<polygon points="41.6,358.3 41.7,358.3 41.7,358.3 41.8,358.3 41.8,358.2 41.9,358.2 41.9,358.2 42.0,358.2 42.0,358.2 42.1,358.2 42.1,358.2 42.2,358.2 42.2,358.2 42.2,358.2 42.3,358.2 42.3,358.2 42.4,358.2 42.4,358.2 42.5,358.2 42.5,358.2 42.6,358.2 42.6,358.2 42.7,358.2 42.7,358.2 42.7,358.1 42.8,357.3 42.7,357.2 42.7,357.2 42.6,357.2 42.6,357.2 42.5,357.2 42.5,357.2 42.4,357.2 42.4,357.2 42.3,357.2 42.3,357.2 42.2,357.2 42.2,357.2 42.1,357.2 42.1,357.2 42.0,357.2 42.0,357.2 41.9,357.2 41.9,357.2 41.8,357.2 41.8,357.2 41.7,357.2 41.7,357.2 41.6,357.2 41.6,357.2" fill="#AC9CD6" stroke="#767CA8" stroke-width="0.5"/>
<polygon points="42.7,358.1 43.8,358.3 44.8,358.5 45.8,358.9 46.7,359.4 47.6,360.0 48.5,360.7 49.4,361.4 50.3,362.3 51.2,363.2 52.1,364.2 52.9,365.4 53.7,367.4 55.1,371.0 56.4,372.6 57.7,373.8 58.9,374.7 60.2,375.4 61.5,376.0 62.8,376.4 64.0,376.7 65.2,376.9 66.4,377.0 67.5,377.0 68.7,376.9 68.6,376.1 67.6,375.9 66.6,375.7 65.6,375.3 64.7,374.8 63.8,374.2 62.9,373.5 62.0,372.8 61.1,371.9 60.2,371.0 59.3,370.0 58.5,368.7 57.7,366.8 56.3,363.2 55.0,361.6 53.7,360.5 52.5,359.5 51.2,358.8 49.9,358.2 48.7,357.8 47.4,357.5 46.2,357.3 45.0,357.2 43.9,357.2 42.8,357.3" fill="#5C6290" stroke="#5C6290" stroke-width="0.4"/>
<polygon points="42.8,376.9 43.9,377.0 45.0,377.0 46.2,376.9 47.4,376.7 48.7,376.4 49.9,376.0 51.2,375.4 52.5,374.7 53.7,373.7 55.0,372.6 56.3,371.0 57.7,367.4 58.5,365.5 59.3,364.2 60.2,363.2 61.1,362.3 62.0,361.4 62.9,360.7 63.8,360.0 64.7,359.4 65.6,358.9 66.6,358.5 67.6,358.3 68.6,358.1 68.7,357.3 67.5,357.2 66.4,357.2 65.2,357.3 64.0,357.5 62.8,357.8 61.5,358.2 60.2,358.8 58.9,359.5 57.7,360.4 56.4,361.6 55.1,363.2 53.7,366.8 52.9,368.8 52.1,370.0 51.2,371.0 50.3,371.9 49.4,372.8 48.5,373.5 47.6,374.2 46.7,374.8 45.8,375.3 44.8,375.7 43.8,375.9 42.7,376.1" fill="#AAB5E5" stroke="#767CA8" stroke-width="0.5"/>
<polygon points="68.6,358.1 69.7,358.3 70.7,358.5 71.7,358.9 72.6,359.4 73.5,360.0 74.4,360.7 75.3,361.4 76.2,362.3 77.1,363.2 78.0,364.2 78.8,365.4 79.6,367.4 81.0,371.0 82.3,372.6 83.6,373.8 84.8,374.7 86.1,375.4 87.4,376.0 88.7,376.4 89.9,376.7 91.1,376.9 92.3,377.0 93.4,377.0 94.6,376.9 94.5,376.1 93.5,375.9 92.5,375.7 91.5,375.3 90.6,374.8 89.7,374.2 88.8,373.5 87.9,372.8 87.0,371.9 86.1,371.0 85.2,370.0 84.4,368.7 83.6,366.8 82.2,363.2 80.9,361.6 79.6,360.5 78.4,359.5 77.1,358.8 75.8,358.2 74.6,357.8 73.3,357.5 72.1,357.3 70.9,357.2 69.8,357.2 68.7,357.3" fill="#5C6290" stroke="#5C6290" stroke-width="0.4"/>
<polygon points="68.7,376.9 69.8,377.0 70.9,377.0 72.1,376.9 73.3,376.7 74.6,376.4 75.8,376.0 77.1,375.4 78.4,374.7 79.6,373.7 80.9,372.6 82.2,371.0 83.6,367.4 84.4,365.5 85.2,364.2 86.1,363.2 87.0,362.3 87.9,361.4 88.8,360.7 89.7,360.0 90.6,359.4 91.5,358.9 92.5,358.5 93.5,358.3 94.5,358.1 94.6,357.3 93.4,357.2 92.3,357.2 91.1,357.3 89.9,357.5 88.7,357.8 87.4,358.2 86.1,358.8 84.8,359.5 83.6,360.4 82.3,361.6 81.0,363.2 79.6,366.8 78.8,368.8 78.0,370.0 77.1,371.0 76.2,371.9 75.3,372.8 74.4,373.5 73.5,374.2 72.6,374.8 71.7,375.3 70.7,375.7 69.7,375.9 68.6,376.1" fill="#AC9CD6" stroke="#767CA8" stroke-width="0.5"/>
<polygon points="94.5,358.1 95.6,358.3 96.6,358.5 97.6,358.9 98.5,359.4 99.4,360.0 100.3,360.7 101.2,361.4 102.1,362.3 103.0,363.2 103.9,364.2 104.7,365.4 105.5,367.4 106.9,371.0 108.2,372.6 109.5,373.8 110.7,374.7 112.0,375.4 113.3,376.0 114.6,376.4 115.8,376.7 117.0,376.9 118.2,377.0 119.3,377.0 120.5,376.9 120.4,376.1 119.4,375.9 118.4,375.7 117.4,375.3 116.5,374.8 115.6,374.2 114.7,373.5 113.8,372.8 112.9,371.9 112.0,371.0 111.1,370.0 110.3,368.7 109.5,366.8 108.1,363.2 106.8,361.6 105.5,360.5 104.3,359.5 103.0,358.8 101.7,358.2 100.5,357.8 99.2,357.5 98.0,357.3 96.8,357.2 95.7,357.2 94.6,357.3" fill="#5C6290" stroke="#5C6290" stroke-width="0.4"/>
<polygon points="94.6,376.9 95.7,377.0 96.8,377.0 98.0,376.9 99.2,376.7 100.5,376.4 101.7,376.0 103.0,375.4 104.3,374.7 105.5,373.7 106.8,372.6 108.1,371.0 109.5,367.4 110.3,365.5 111.1,364.2 112.0,363.2 112.9,362.3 113.8,361.4 114.7,360.7 115.6,360.0 116.5,359.4 117.4,358.9 118.4,358.5 119.4,358.3 120.4,358.1 120.5,357.3 119.3,357.2 118.2,357.2 117.0,357.3 115.8,357.5 114.6,357.8 113.3,358.2 112.0,358.8 110.7,359.5 109.5,360.4 108.2,361.6 106.9,363.2 105.5,366.8 104.7,368.8 103.9,370.0 103.0,371.0 102.1,371.9 101.2,372.8 100.3,373.5 99.4,374.2 98.5,374.8 97.6,375.3 96.6,375.7 95.6,375.9 94.5,376.1" fill="#AAB5E5" stroke="#767CA8" stroke-width="0.5"/>
<polygon points="120.4,358.1 121.5,358.3 122.5,358.5 123.5,358.9 124.4,359.4 125.3,360.0 126.2,360.7 127.1,361.4 128.0,362.3 128.9,363.2 129.8,364.2 130.6,365.4 131.4,367.4 132.8,371.0 134.1,372.6 135.4,373.8 136.6,374.7 137.9,375.4 139.2,376.0 140.5,376.4 141.7,376.7 142.9,376.9 144.1,377.0 145.2,377.0 146.4,376.9 146.3,376.1 145.3,375.9 144.3,375.7 143.3,375.3 142.4,374.8 141.5,374.2 140.6,373.5 139.7,372.8 138.8,371.9 137.9,371.0 137.0,370.0 136.2,368.7 135.4,366.8 134.0,363.2 132.7,361.6 131.4,360.5 130.2,359.5 128.9,358.8 127.6,358.2 126.4,357.8 125.1,357.5 123.9,357.3 122.7,357.2 121.6,357.2 120.5,357.3" fill="#5C6290" stroke="#5C6290" stroke-width="0.4"/>
<polygon points="120.5,376.9 121.6,377.0 122.7,377.0 123.9,376.9 125.1,376.7 126.4,376.4 127.6,376.0 128.9,375.4 130.2,374.7 131.4,373.7 132.7,372.6 134.0,371.0 135.4,367.4 136.2,365.5 137.0,364.2 137.9,363.2 138.8,362.3 139.7,361.4 140.6,360.7 141.5,360.0 142.4,359.4 143.3,358.9 144.3,358.5 145.3,358.3 146.3,358.1 146.4,357.3 145.2,357.2 144.1,357.2 142.9,357.3 141.7,357.5 140.5,357.8 139.2,358.2 137.9,358.8 136.6,359.5 135.4,360.4 134.1,361.6 132.8,363.2 131.4,366.8 130.6,368.8 129.8,370.0 128.9,371.0 128.0,371.9 127.1,372.8 126.2,373.5 125.3,374.2 124.4,374.8 123.5,375.3 122.5,375.7 121.5,375.9 120.4,376.1" fill="#AC9CD6" stroke="#767CA8" stroke-width="0.5"/>
<polygon points="146.3,358.1 147.4,358.3 148.4,358.5 149.4,358.9 150.3,359.4 151.2,360.0 152.1,360.7 153.0,361.4 153.9,362.3 154.8,363.2 155.7,364.2 156.5,365.4 157.3,367.4 158.7,371.0 160.0,372.6 161.3,373.8 162.5,374.7 163.8,375.4 165.1,376.0 166.4,376.4 167.6,376.7 168.8,376.9 170.0,377.0 171.1,377.0 172.3,376.9 172.2,376.1 171.2,375.9 170.2,375.7 169.2,375.3 168.3,374.8 167.4,374.2 166.5,373.5 165.6,372.8 164.7,371.9 163.8,371.0 162.9,370.0 162.1,368.7 161.3,366.8 159.9,363.2 158.6,361.6 157.3,360.5 156.1,359.5 154.8,358.8 153.5,358.2 152.3,357.8 151.0,357.5 149.8,357.3 148.6,357.2 147.5,357.2 146.4,357.3" fill="#5C6290" stroke="#5C6290" stroke-width="0.4"/>
<polygon points="146.4,376.9 147.5,377.0 148.6,377.0 149.8,376.9 151.0,376.7 152.3,376.4 153.5,376.0 154.8,375.4 156.1,374.7 157.3,373.7 158.6,372.6 159.9,371.0 161.3,367.4 162.1,365.5 162.9,364.2 163.8,363.2 164.7,362.3 165.6,361.4 166.5,360.7 167.4,360.0 168.3,359.4 169.2,358.9 170.2,358.5 171.2,358.3 172.2,358.1 172.3,357.3 171.1,357.2 170.0,357.2 168.8,357.3 167.6,357.5 166.4,357.8 165.1,358.2 163.8,358.8 162.5,359.5 161.3,360.4 160.0,361.6 158.7,363.2 157.3,366.8 156.5,368.8 155.7,370.0 154.8,371.0 153.9,371.9 153.0,372.8 152.1,373.5 151.2,374.2 150.3,374.8 149.4,375.3 148.4,375.7 147.4,375.9 146.3,376.1" fill="#AAB5E5" stroke="#767CA8" stroke-width="0.5"/>
<polygon points="172.2,358.1 173.3,358.3 174.3,358.5 175.3,358.9 176.2,359.4 177.1,360.0 178.0,360.7 178.9,361.4 179.8,362.3 180.7,363.2 181.6,364.2 182.4,365.4 183.2,367.4 184.6,371.0 185.9,372.6 187.2,373.8 188.4,374.7 189.7,375.4 191.0,376.0 192.3,376.4 193.5,376.7 194.7,376.9 195.9,377.0 197.0,377.0 198.2,376.9 198.1,376.1 197.1,375.9 196.1,375.7 195.1,375.3 194.2,374.8 193.3,374.2 192.4,373.5 191.5,372.8 190.6,371.9 189.7,371.0 188.8,370.0 188.0,368.7 187.2,366.8 185.8,363.2 184.5,361.6 183.2,360.5 182.0,359.5 180.7,358.8 179.4,358.2 178.2,357.8 176.9,357.5 175.7,357.3 174.5,357.2 173.4,357.2 172.3,357.3" fill="#5C6290" stroke="#5C6290" stroke-width="0.4"/>
<polygon points="172.3,376.9 173.4,377.0 174.5,377.0 175.7,376.9 176.9,376.7 178.2,376.4 179.4,376.0 180.7,375.4 182.0,374.7 183.2,373.7 184.5,372.6 185.8,371.0 187.2,367.4 188.0,365.5 188.8,364.2 189.7,363.2 190.6,362.3 191.5,361.4 192.4,360.7 193.3,360.0 194.2,359.4 195.1,358.9 196.1,358.5 197.1,358.3 198.1,358.1 198.2,357.3 197.0,357.2 195.9,357.2 194.7,357.3 193.5,357.5 192.3,357.8 191.0,358.2 189.7,358.8 188.4,359.5 187.2,360.4 185.9,361.6 184.6,363.2 183.2,366.8 182.4,368.8 181.6,370.0 180.7,371.0 179.8,371.9 178.9,372.8 178.0,373.5 177.1,374.2 176.2,374.8 175.3,375.3 174.3,375.7 173.3,375.9 172.2,376.1" fill="#AC9CD6" stroke="#767CA8" stroke-width="0.5"/>
<polygon points="198.1,358.1 199.2,358.3 200.2,358.5 201.2,358.9 202.1,359.4 203.0,360.0 203.9,360.7 204.8,361.4 205.7,362.3 206.6,363.2 207.5,364.2 208.3,365.4 209.1,367.4 210.5,371.0 211.8,372.6 213.1,373.8 214.3,374.7 215.6,375.4 216.9,376.0 218.2,376.4 219.4,376.7 220.6,376.9 221.8,377.0 222.9,377.0 224.1,376.9 224.0,376.1 223.0,375.9 222.0,375.7 221.0,375.3 220.1,374.8 219.2,374.2 218.3,373.5 217.4,372.8 216.5,371.9 215.6,371.0 214.7,370.0 213.9,368.7 213.1,366.8 211.7,363.2 210.4,361.6 209.1,360.5 207.9,359.5 206.6,358.8 205.3,358.2 204.1,357.8 202.8,357.5 201.6,357.3 200.4,357.2 199.3,357.2 198.2,357.3" fill="#5C6290" stroke="#5C6290" stroke-width="0.4"/>
<polygon points="198.2,376.9 199.3,377.0 200.4,377.0 201.6,376.9 202.8,376.7 204.1,376.4 205.3,376.0 206.6,375.4 207.9,374.7 209.1,373.7 210.4,372.6 211.7,371.0 213.1,367.4 213.9,365.5 214.7,364.2 215.6,363.2 216.5,362.3 217.4,361.4 218.3,360.7 219.2,360.0 220.1,359.4 221.0,358.9 222.0,358.5 223.0,358.3 224.0,358.1 224.1,357.3 222.9,357.2 221.8,357.2 220.6,357.3 219.4,357.5 218.2,357.8 216.9,358.2 215.6,358.8 214.3,359.5 213.1,360.4 211.8,361.6 210.5,363.2 209.1,366.8 208.3,368.8 207.5,370.0 206.6,371.0 205.7,371.9 204.8,372.8 203.9,373.5 203.0,374.2 202.1,374.8 201.2,375.3 200.2,375.7 199.2,375.9 198.1,376.1" fill="#AAB5E5" stroke="#767CA8" stroke-width="0.5"/>
<polygon points="224.0,358.1 225.0,358.3 226.0,358.5 226.9,358.9 227.8,359.3 228.7,359.8 229.5,360.5 230.4,361.1 231.2,361.9 232.0,362.7 232.9,363.6 233.7,364.7 234.5,365.9 235.4,369.1 236.7,371.4 237.9,372.8 239.1,373.9 240.3,374.7 241.5,375.4 242.7,375.9 243.9,376.3 245.1,376.6 246.2,376.8 247.3,376.9 248.4,377.0 248.6,375.8 247.6,375.6 246.7,375.2 245.8,374.7 244.9,374.1 244.1,373.5 243.3,372.8 242.4,372.0 241.6,371.1 240.8,370.1 240.0,369.0 239.2,367.6 238.1,363.9 236.8,362.2 235.6,360.9 234.4,360.0 233.2,359.2 232.0,358.6 230.8,358.1 229.6,357.7 228.4,357.5 227.3,357.3 226.2,357.2 225.1,357.2 224.1,357.3" fill="#5C6290" stroke="#5C6290" stroke-width="0.4"/>
<polygon points="224.1,376.9 225.1,377.0 226.2,377.0 227.3,376.9 228.4,376.7 229.6,376.5 230.8,376.1 232.0,375.6 233.2,375.0 234.4,374.2 235.6,373.3 236.8,372.0 238.1,370.3 239.2,366.6 240.0,365.2 240.8,364.1 241.6,363.1 242.4,362.2 243.3,361.4 244.1,360.7 244.9,360.1 245.8,359.5 246.7,359.0 247.6,358.6 248.6,358.4 248.4,357.2 247.3,357.3 246.2,357.4 245.1,357.6 243.9,357.9 242.7,358.3 241.5,358.8 240.3,359.5 239.1,360.3 237.9,361.4 236.7,362.8 235.4,365.1 234.5,368.3 233.7,369.5 232.9,370.6 232.0,371.5 231.2,372.3 230.4,373.1 229.5,373.7 228.7,374.4 227.8,374.9 226.9,375.3 226.0,375.7 225.0,375.9 224.0,376.1" fill="#AC9CD6" stroke="#767CA8" stroke-width="0.5"/>
<path d="M106.5,347 L95,359 M106.5,347 L117,358" stroke="#5A6383" stroke-width="3" fill="none"/>
<rect x="104.3" y="334" width="4.4" height="15" fill="#5A6383"/>
<rect x="100.3" y="319.8" width="12.4" height="10.5" rx="3" fill="#5A6383"/>
<rect x="101" y="329" width="11" height="9" rx="3" fill="#5A6383"/>
<line x1="106.5" y1="321" x2="106.5" y2="337" stroke="#45506e" stroke-width="0.8"/>
<line x1="101" y1="329.5" x2="112" y2="329.5" stroke="#45506e" stroke-width="0.8"/>
<ellipse cx="90.3" cy="364.2" rx="8.2" ry="6.3" fill="#5A6383"/>
<ellipse cx="122.3" cy="363.6" rx="8.2" ry="6.5" fill="#5A6383"/>
<text x="68.2" y="350.8" font-size="12.6" fill="#222" stroke="#222" stroke-width="0.28" font-weight="normal" font-style="normal" text-anchor="start" >ARF</text>
<polygon points="334.6,377.0 334.6,377.0 334.7,377.0 334.7,377.0 334.8,377.0 334.8,377.0 334.9,377.0 334.9,377.0 335.0,377.0 335.0,377.0 335.1,377.0 335.1,377.0 335.2,377.0 335.2,377.0 335.3,377.0 335.3,377.0 335.4,377.0 335.4,377.0 335.5,377.0 335.5,377.0 335.6,377.0 335.6,377.0 335.7,377.0 335.7,377.0 335.8,376.9 335.7,376.1 335.7,376.0 335.7,376.0 335.6,376.0 335.6,376.0 335.5,376.0 335.5,376.0 335.4,376.0 335.4,376.0 335.3,376.0 335.3,376.0 335.2,376.0 335.2,376.0 335.2,376.0 335.1,376.0 335.1,376.0 335.0,376.0 335.0,376.0 334.9,376.0 334.9,376.0 334.8,376.0 334.8,375.9 334.7,375.9 334.7,375.9 334.6,375.9" fill="#5C6290" stroke="#5C6290" stroke-width="0.4"/>
<polygon points="334.6,358.3 334.7,358.3 334.7,358.3 334.8,358.3 334.8,358.2 334.9,358.2 334.9,358.2 335.0,358.2 335.0,358.2 335.1,358.2 335.1,358.2 335.2,358.2 335.2,358.2 335.2,358.2 335.3,358.2 335.3,358.2 335.4,358.2 335.4,358.2 335.5,358.2 335.5,358.2 335.6,358.2 335.6,358.2 335.7,358.2 335.7,358.2 335.7,358.1 335.8,357.3 335.7,357.2 335.7,357.2 335.6,357.2 335.6,357.2 335.5,357.2 335.5,357.2 335.4,357.2 335.4,357.2 335.3,357.2 335.3,357.2 335.2,357.2 335.2,357.2 335.1,357.2 335.1,357.2 335.0,357.2 335.0,357.2 334.9,357.2 334.9,357.2 334.8,357.2 334.8,357.2 334.7,357.2 334.7,357.2 334.6,357.2 334.6,357.2" fill="#AC9CD6" stroke="#767CA8" stroke-width="0.5"/>
<polygon points="335.7,358.1 336.8,358.3 337.8,358.5 338.8,358.9 339.7,359.4 340.6,360.0 341.5,360.7 342.4,361.4 343.3,362.3 344.2,363.2 345.1,364.2 345.9,365.4 346.7,367.4 348.1,371.0 349.4,372.6 350.7,373.8 351.9,374.7 353.2,375.4 354.5,376.0 355.8,376.4 357.0,376.7 358.2,376.9 359.4,377.0 360.5,377.0 361.7,376.9 361.6,376.1 360.6,375.9 359.6,375.7 358.6,375.3 357.7,374.8 356.8,374.2 355.9,373.5 355.0,372.8 354.1,371.9 353.2,371.0 352.3,370.0 351.5,368.7 350.7,366.8 349.3,363.2 348.0,361.6 346.7,360.5 345.5,359.5 344.2,358.8 342.9,358.2 341.7,357.8 340.4,357.5 339.2,357.3 338.0,357.2 336.9,357.2 335.8,357.3" fill="#5C6290" stroke="#5C6290" stroke-width="0.4"/>
<polygon points="335.8,376.9 336.9,377.0 338.0,377.0 339.2,376.9 340.4,376.7 341.7,376.4 342.9,376.0 344.2,375.4 345.5,374.7 346.7,373.7 348.0,372.6 349.3,371.0 350.7,367.4 351.5,365.5 352.3,364.2 353.2,363.2 354.1,362.3 355.0,361.4 355.9,360.7 356.8,360.0 357.7,359.4 358.6,358.9 359.6,358.5 360.6,358.3 361.6,358.1 361.7,357.3 360.5,357.2 359.4,357.2 358.2,357.3 357.0,357.5 355.8,357.8 354.5,358.2 353.2,358.8 351.9,359.5 350.7,360.4 349.4,361.6 348.1,363.2 346.7,366.8 345.9,368.8 345.1,370.0 344.2,371.0 343.3,371.9 342.4,372.8 341.5,373.5 340.6,374.2 339.7,374.8 338.8,375.3 337.8,375.7 336.8,375.9 335.7,376.1" fill="#AAB5E5" stroke="#767CA8" stroke-width="0.5"/>
<polygon points="361.6,358.1 362.7,358.3 363.7,358.5 364.7,358.9 365.6,359.4 366.5,360.0 367.4,360.7 368.3,361.4 369.2,362.3 370.1,363.2 371.0,364.2 371.8,365.4 372.6,367.4 374.0,371.0 375.3,372.6 376.6,373.8 377.8,374.7 379.1,375.4 380.4,376.0 381.7,376.4 382.9,376.7 384.1,376.9 385.3,377.0 386.4,377.0 387.6,376.9 387.5,376.1 386.5,375.9 385.5,375.7 384.5,375.3 383.6,374.8 382.7,374.2 381.8,373.5 380.9,372.8 380.0,371.9 379.1,371.0 378.2,370.0 377.4,368.7 376.6,366.8 375.2,363.2 373.9,361.6 372.6,360.5 371.4,359.5 370.1,358.8 368.8,358.2 367.6,357.8 366.3,357.5 365.1,357.3 363.9,357.2 362.8,357.2 361.7,357.3" fill="#5C6290" stroke="#5C6290" stroke-width="0.4"/>
<polygon points="361.7,376.9 362.8,377.0 363.9,377.0 365.1,376.9 366.3,376.7 367.6,376.4 368.8,376.0 370.1,375.4 371.4,374.7 372.6,373.7 373.9,372.6 375.2,371.0 376.6,367.4 377.4,365.5 378.2,364.2 379.1,363.2 380.0,362.3 380.9,361.4 381.8,360.7 382.7,360.0 383.6,359.4 384.5,358.9 385.5,358.5 386.5,358.3 387.5,358.1 387.6,357.3 386.4,357.2 385.3,357.2 384.1,357.3 382.9,357.5 381.7,357.8 380.4,358.2 379.1,358.8 377.8,359.5 376.6,360.4 375.3,361.6 374.0,363.2 372.6,366.8 371.8,368.8 371.0,370.0 370.1,371.0 369.2,371.9 368.3,372.8 367.4,373.5 366.5,374.2 365.6,374.8 364.7,375.3 363.7,375.7 362.7,375.9 361.6,376.1" fill="#AC9CD6" stroke="#767CA8" stroke-width="0.5"/>
<polygon points="387.5,358.1 388.6,358.3 389.6,358.5 390.6,358.9 391.5,359.4 392.4,360.0 393.3,360.7 394.2,361.4 395.1,362.3 396.0,363.2 396.9,364.2 397.7,365.4 398.5,367.4 399.9,371.0 401.2,372.6 402.5,373.8 403.7,374.7 405.0,375.4 406.3,376.0 407.6,376.4 408.8,376.7 410.0,376.9 411.2,377.0 412.3,377.0 413.5,376.9 413.4,376.1 412.4,375.9 411.4,375.7 410.4,375.3 409.5,374.8 408.6,374.2 407.7,373.5 406.8,372.8 405.9,371.9 405.0,371.0 404.1,370.0 403.3,368.7 402.5,366.8 401.1,363.2 399.8,361.6 398.5,360.5 397.3,359.5 396.0,358.8 394.7,358.2 393.5,357.8 392.2,357.5 391.0,357.3 389.8,357.2 388.7,357.2 387.6,357.3" fill="#5C6290" stroke="#5C6290" stroke-width="0.4"/>
<polygon points="387.6,376.9 388.7,377.0 389.8,377.0 391.0,376.9 392.2,376.7 393.5,376.4 394.7,376.0 396.0,375.4 397.3,374.7 398.5,373.7 399.8,372.6 401.1,371.0 402.5,367.4 403.3,365.5 404.1,364.2 405.0,363.2 405.9,362.3 406.8,361.4 407.7,360.7 408.6,360.0 409.5,359.4 410.4,358.9 411.4,358.5 412.4,358.3 413.4,358.1 413.5,357.3 412.3,357.2 411.2,357.2 410.0,357.3 408.8,357.5 407.6,357.8 406.3,358.2 405.0,358.8 403.7,359.5 402.5,360.4 401.2,361.6 399.9,363.2 398.5,366.8 397.7,368.8 396.9,370.0 396.0,371.0 395.1,371.9 394.2,372.8 393.3,373.5 392.4,374.2 391.5,374.8 390.6,375.3 389.6,375.7 388.6,375.9 387.5,376.1" fill="#AAB5E5" stroke="#767CA8" stroke-width="0.5"/>
<polygon points="413.4,358.1 414.5,358.3 415.5,358.5 416.5,358.9 417.4,359.4 418.3,360.0 419.2,360.7 420.1,361.4 421.0,362.3 421.9,363.2 422.8,364.2 423.6,365.4 424.4,367.4 425.8,371.0 427.1,372.6 428.4,373.8 429.6,374.7 430.9,375.4 432.2,376.0 433.5,376.4 434.7,376.7 435.9,376.9 437.1,377.0 438.2,377.0 439.4,376.9 439.3,376.1 438.3,375.9 437.3,375.7 436.3,375.3 435.4,374.8 434.5,374.2 433.6,373.5 432.7,372.8 431.8,371.9 430.9,371.0 430.0,370.0 429.2,368.7 428.4,366.8 427.0,363.2 425.7,361.6 424.4,360.5 423.2,359.5 421.9,358.8 420.6,358.2 419.4,357.8 418.1,357.5 416.9,357.3 415.7,357.2 414.6,357.2 413.5,357.3" fill="#5C6290" stroke="#5C6290" stroke-width="0.4"/>
<polygon points="413.5,376.9 414.6,377.0 415.7,377.0 416.9,376.9 418.1,376.7 419.4,376.4 420.6,376.0 421.9,375.4 423.2,374.7 424.4,373.7 425.7,372.6 427.0,371.0 428.4,367.4 429.2,365.5 430.0,364.2 430.9,363.2 431.8,362.3 432.7,361.4 433.6,360.7 434.5,360.0 435.4,359.4 436.3,358.9 437.3,358.5 438.3,358.3 439.3,358.1 439.4,357.3 438.2,357.2 437.1,357.2 435.9,357.3 434.7,357.5 433.5,357.8 432.2,358.2 430.9,358.8 429.6,359.5 428.4,360.4 427.1,361.6 425.8,363.2 424.4,366.8 423.6,368.8 422.8,370.0 421.9,371.0 421.0,371.9 420.1,372.8 419.2,373.5 418.3,374.2 417.4,374.8 416.5,375.3 415.5,375.7 414.5,375.9 413.4,376.1" fill="#AC9CD6" stroke="#767CA8" stroke-width="0.5"/>
<polygon points="439.3,358.1 440.4,358.3 441.4,358.5 442.4,358.9 443.3,359.4 444.2,360.0 445.1,360.7 446.0,361.4 446.9,362.3 447.8,363.2 448.7,364.2 449.5,365.4 450.3,367.4 451.7,371.0 453.0,372.6 454.3,373.8 455.5,374.7 456.8,375.4 458.1,376.0 459.4,376.4 460.6,376.7 461.8,376.9 463.0,377.0 464.1,377.0 465.3,376.9 465.2,376.1 464.2,375.9 463.2,375.7 462.2,375.3 461.3,374.8 460.4,374.2 459.5,373.5 458.6,372.8 457.7,371.9 456.8,371.0 455.9,370.0 455.1,368.7 454.3,366.8 452.9,363.2 451.6,361.6 450.3,360.5 449.1,359.5 447.8,358.8 446.5,358.2 445.3,357.8 444.0,357.5 442.8,357.3 441.6,357.2 440.5,357.2 439.4,357.3" fill="#5C6290" stroke="#5C6290" stroke-width="0.4"/>
<polygon points="439.4,376.9 440.5,377.0 441.6,377.0 442.8,376.9 444.0,376.7 445.3,376.4 446.5,376.0 447.8,375.4 449.1,374.7 450.3,373.7 451.6,372.6 452.9,371.0 454.3,367.4 455.1,365.5 455.9,364.2 456.8,363.2 457.7,362.3 458.6,361.4 459.5,360.7 460.4,360.0 461.3,359.4 462.2,358.9 463.2,358.5 464.2,358.3 465.2,358.1 465.3,357.3 464.1,357.2 463.0,357.2 461.8,357.3 460.6,357.5 459.4,357.8 458.1,358.2 456.8,358.8 455.5,359.5 454.3,360.4 453.0,361.6 451.7,363.2 450.3,366.8 449.5,368.8 448.7,370.0 447.8,371.0 446.9,371.9 446.0,372.8 445.1,373.5 444.2,374.2 443.3,374.8 442.4,375.3 441.4,375.7 440.4,375.9 439.3,376.1" fill="#AAB5E5" stroke="#767CA8" stroke-width="0.5"/>
<polygon points="465.2,358.1 466.3,358.3 467.3,358.5 468.3,358.9 469.2,359.4 470.1,360.0 471.0,360.7 471.9,361.4 472.8,362.3 473.7,363.2 474.6,364.2 475.4,365.4 476.2,367.4 477.6,371.0 478.9,372.6 480.2,373.8 481.4,374.7 482.7,375.4 484.0,376.0 485.3,376.4 486.5,376.7 487.7,376.9 488.9,377.0 490.0,377.0 491.2,376.9 491.1,376.1 490.1,375.9 489.1,375.7 488.1,375.3 487.2,374.8 486.3,374.2 485.4,373.5 484.5,372.8 483.6,371.9 482.7,371.0 481.8,370.0 481.0,368.7 480.2,366.8 478.8,363.2 477.5,361.6 476.2,360.5 475.0,359.5 473.7,358.8 472.4,358.2 471.2,357.8 469.9,357.5 468.7,357.3 467.5,357.2 466.4,357.2 465.3,357.3" fill="#5C6290" stroke="#5C6290" stroke-width="0.4"/>
<polygon points="465.3,376.9 466.4,377.0 467.5,377.0 468.7,376.9 469.9,376.7 471.2,376.4 472.4,376.0 473.7,375.4 475.0,374.7 476.2,373.7 477.5,372.6 478.8,371.0 480.2,367.4 481.0,365.5 481.8,364.2 482.7,363.2 483.6,362.3 484.5,361.4 485.4,360.7 486.3,360.0 487.2,359.4 488.1,358.9 489.1,358.5 490.1,358.3 491.1,358.1 491.2,357.3 490.0,357.2 488.9,357.2 487.7,357.3 486.5,357.5 485.3,357.8 484.0,358.2 482.7,358.8 481.4,359.5 480.2,360.4 478.9,361.6 477.6,363.2 476.2,366.8 475.4,368.8 474.6,370.0 473.7,371.0 472.8,371.9 471.9,372.8 471.0,373.5 470.1,374.2 469.2,374.8 468.3,375.3 467.3,375.7 466.3,375.9 465.2,376.1" fill="#AC9CD6" stroke="#767CA8" stroke-width="0.5"/>
<polygon points="491.1,358.1 492.2,358.3 493.2,358.5 494.2,358.9 495.1,359.4 496.0,360.0 496.9,360.7 497.8,361.4 498.7,362.3 499.6,363.2 500.5,364.2 501.3,365.4 502.1,367.4 503.5,371.0 504.8,372.6 506.1,373.8 507.3,374.7 508.6,375.4 509.9,376.0 511.2,376.4 512.4,376.7 513.6,376.9 514.8,377.0 515.9,377.0 517.1,376.9 517.0,376.1 516.0,375.9 515.0,375.7 514.0,375.3 513.1,374.8 512.2,374.2 511.3,373.5 510.4,372.8 509.5,371.9 508.6,371.0 507.7,370.0 506.9,368.7 506.1,366.8 504.7,363.2 503.4,361.6 502.1,360.5 500.9,359.5 499.6,358.8 498.3,358.2 497.1,357.8 495.8,357.5 494.6,357.3 493.4,357.2 492.3,357.2 491.2,357.3" fill="#5C6290" stroke="#5C6290" stroke-width="0.4"/>
<polygon points="491.2,376.9 492.3,377.0 493.4,377.0 494.6,376.9 495.8,376.7 497.1,376.4 498.3,376.0 499.6,375.4 500.9,374.7 502.1,373.7 503.4,372.6 504.7,371.0 506.1,367.4 506.9,365.5 507.7,364.2 508.6,363.2 509.5,362.3 510.4,361.4 511.3,360.7 512.2,360.0 513.1,359.4 514.0,358.9 515.0,358.5 516.0,358.3 517.0,358.1 517.1,357.3 515.9,357.2 514.8,357.2 513.6,357.3 512.4,357.5 511.2,357.8 509.9,358.2 508.6,358.8 507.3,359.5 506.1,360.4 504.8,361.6 503.5,363.2 502.1,366.8 501.3,368.8 500.5,370.0 499.6,371.0 498.7,371.9 497.8,372.8 496.9,373.5 496.0,374.2 495.1,374.8 494.2,375.3 493.2,375.7 492.2,375.9 491.1,376.1" fill="#AAB5E5" stroke="#767CA8" stroke-width="0.5"/>
<polygon points="517.0,358.1 518.0,358.3 519.0,358.5 519.9,358.9 520.8,359.3 521.7,359.8 522.5,360.5 523.4,361.1 524.2,361.9 525.0,362.7 525.9,363.6 526.7,364.7 527.5,365.9 528.4,369.1 529.7,371.4 530.9,372.8 532.1,373.9 533.3,374.7 534.5,375.4 535.7,375.9 536.9,376.3 538.1,376.6 539.2,376.8 540.3,376.9 541.4,377.0 541.6,375.8 540.6,375.6 539.7,375.2 538.8,374.7 537.9,374.1 537.1,373.5 536.3,372.8 535.4,372.0 534.6,371.1 533.8,370.1 533.0,369.0 532.2,367.6 531.1,363.9 529.8,362.2 528.6,360.9 527.4,360.0 526.2,359.2 525.0,358.6 523.8,358.1 522.6,357.7 521.4,357.5 520.3,357.3 519.2,357.2 518.1,357.2 517.1,357.3" fill="#5C6290" stroke="#5C6290" stroke-width="0.4"/>
<polygon points="517.1,376.9 518.1,377.0 519.2,377.0 520.3,376.9 521.4,376.7 522.6,376.5 523.8,376.1 525.0,375.6 526.2,375.0 527.4,374.2 528.6,373.3 529.8,372.0 531.1,370.3 532.2,366.6 533.0,365.2 533.8,364.1 534.6,363.1 535.4,362.2 536.3,361.4 537.1,360.7 537.9,360.1 538.8,359.5 539.7,359.0 540.6,358.6 541.6,358.4 541.4,357.2 540.3,357.3 539.2,357.4 538.1,357.6 536.9,357.9 535.7,358.3 534.5,358.8 533.3,359.5 532.1,360.3 530.9,361.4 529.7,362.8 528.4,365.1 527.5,368.3 526.7,369.5 525.9,370.6 525.0,371.5 524.2,372.3 523.4,373.1 522.5,373.7 521.7,374.4 520.8,374.9 519.9,375.3 519.0,375.7 518.0,375.9 517.0,376.1" fill="#AC9CD6" stroke="#767CA8" stroke-width="0.5"/>
<path d="M399.5,347 L388,359 M399.5,347 L410,358" stroke="#5A6383" stroke-width="3" fill="none"/>
<rect x="397.3" y="334" width="4.4" height="15" fill="#5A6383"/>
<rect x="393.3" y="319.8" width="12.4" height="10.5" rx="3" fill="#5A6383"/>
<rect x="394" y="329" width="11" height="9" rx="3" fill="#5A6383"/>
<line x1="399.5" y1="321" x2="399.5" y2="337" stroke="#45506e" stroke-width="0.8"/>
<line x1="394" y1="329.5" x2="405" y2="329.5" stroke="#45506e" stroke-width="0.8"/>
<ellipse cx="383.3" cy="364.2" rx="8.2" ry="6.3" fill="#5A6383"/>
<ellipse cx="415.3" cy="363.6" rx="8.2" ry="6.5" fill="#5A6383"/>
<text x="361.2" y="350.8" font-size="12.6" fill="#222" stroke="#222" stroke-width="0.28" font-weight="normal" font-style="normal" text-anchor="start" >ARF</text>
<polygon points="632.6,377.0 632.6,377.0 632.7,377.0 632.7,377.0 632.8,377.0 632.8,377.0 632.9,377.0 632.9,377.0 633.0,377.0 633.0,377.0 633.1,377.0 633.1,377.0 633.2,377.0 633.2,377.0 633.3,377.0 633.3,377.0 633.4,377.0 633.4,377.0 633.5,377.0 633.5,377.0 633.6,377.0 633.6,377.0 633.7,377.0 633.7,377.0 633.8,376.9 633.7,376.1 633.7,376.0 633.7,376.0 633.6,376.0 633.6,376.0 633.5,376.0 633.5,376.0 633.4,376.0 633.4,376.0 633.3,376.0 633.3,376.0 633.2,376.0 633.2,376.0 633.2,376.0 633.1,376.0 633.1,376.0 633.0,376.0 633.0,376.0 632.9,376.0 632.9,376.0 632.8,376.0 632.8,375.9 632.7,375.9 632.7,375.9 632.6,375.9" fill="#5C6290" stroke="#5C6290" stroke-width="0.4"/>
<polygon points="632.6,358.3 632.7,358.3 632.7,358.3 632.8,358.3 632.8,358.2 632.9,358.2 632.9,358.2 633.0,358.2 633.0,358.2 633.1,358.2 633.1,358.2 633.2,358.2 633.2,358.2 633.2,358.2 633.3,358.2 633.3,358.2 633.4,358.2 633.4,358.2 633.5,358.2 633.5,358.2 633.6,358.2 633.6,358.2 633.7,358.2 633.7,358.2 633.7,358.1 633.8,357.3 633.7,357.2 633.7,357.2 633.6,357.2 633.6,357.2 633.5,357.2 633.5,357.2 633.4,357.2 633.4,357.2 633.3,357.2 633.3,357.2 633.2,357.2 633.2,357.2 633.1,357.2 633.1,357.2 633.0,357.2 633.0,357.2 632.9,357.2 632.9,357.2 632.8,357.2 632.8,357.2 632.7,357.2 632.7,357.2 632.6,357.2 632.6,357.2" fill="#AC9CD6" stroke="#767CA8" stroke-width="0.5"/>
<polygon points="633.7,358.1 634.8,358.3 635.8,358.5 636.8,358.9 637.7,359.4 638.6,360.0 639.5,360.7 640.4,361.4 641.3,362.3 642.2,363.2 643.1,364.2 643.9,365.4 644.7,367.4 646.1,371.0 647.4,372.6 648.7,373.8 649.9,374.7 651.2,375.4 652.5,376.0 653.8,376.4 655.0,376.7 656.2,376.9 657.4,377.0 658.5,377.0 659.7,376.9 659.6,376.1 658.6,375.9 657.6,375.7 656.6,375.3 655.7,374.8 654.8,374.2 653.9,373.5 653.0,372.8 652.1,371.9 651.2,371.0 650.3,370.0 649.5,368.7 648.7,366.8 647.3,363.2 646.0,361.6 644.7,360.5 643.5,359.5 642.2,358.8 640.9,358.2 639.7,357.8 638.4,357.5 637.2,357.3 636.0,357.2 634.9,357.2 633.8,357.3" fill="#5C6290" stroke="#5C6290" stroke-width="0.4"/>
<polygon points="633.8,376.9 634.9,377.0 636.0,377.0 637.2,376.9 638.4,376.7 639.7,376.4 640.9,376.0 642.2,375.4 643.5,374.7 644.7,373.7 646.0,372.6 647.3,371.0 648.7,367.4 649.5,365.5 650.3,364.2 651.2,363.2 652.1,362.3 653.0,361.4 653.9,360.7 654.8,360.0 655.7,359.4 656.6,358.9 657.6,358.5 658.6,358.3 659.6,358.1 659.7,357.3 658.5,357.2 657.4,357.2 656.2,357.3 655.0,357.5 653.8,357.8 652.5,358.2 651.2,358.8 649.9,359.5 648.7,360.4 647.4,361.6 646.1,363.2 644.7,366.8 643.9,368.8 643.1,370.0 642.2,371.0 641.3,371.9 640.4,372.8 639.5,373.5 638.6,374.2 637.7,374.8 636.8,375.3 635.8,375.7 634.8,375.9 633.7,376.1" fill="#AAB5E5" stroke="#767CA8" stroke-width="0.5"/>
<polygon points="659.6,358.1 660.7,358.3 661.7,358.5 662.7,358.9 663.6,359.4 664.5,360.0 665.4,360.7 666.3,361.4 667.2,362.3 668.1,363.2 669.0,364.2 669.8,365.4 670.6,367.4 672.0,371.0 673.3,372.6 674.6,373.8 675.8,374.7 677.1,375.4 678.4,376.0 679.7,376.4 680.9,376.7 682.1,376.9 683.3,377.0 684.4,377.0 685.6,376.9 685.5,376.1 684.5,375.9 683.5,375.7 682.5,375.3 681.6,374.8 680.7,374.2 679.8,373.5 678.9,372.8 678.0,371.9 677.1,371.0 676.2,370.0 675.4,368.7 674.6,366.8 673.2,363.2 671.9,361.6 670.6,360.5 669.4,359.5 668.1,358.8 666.8,358.2 665.6,357.8 664.3,357.5 663.1,357.3 661.9,357.2 660.8,357.2 659.7,357.3" fill="#5C6290" stroke="#5C6290" stroke-width="0.4"/>
<polygon points="659.7,376.9 660.8,377.0 661.9,377.0 663.1,376.9 664.3,376.7 665.6,376.4 666.8,376.0 668.1,375.4 669.4,374.7 670.6,373.7 671.9,372.6 673.2,371.0 674.6,367.4 675.4,365.5 676.2,364.2 677.1,363.2 678.0,362.3 678.9,361.4 679.8,360.7 680.7,360.0 681.6,359.4 682.5,358.9 683.5,358.5 684.5,358.3 685.5,358.1 685.6,357.3 684.4,357.2 683.3,357.2 682.1,357.3 680.9,357.5 679.7,357.8 678.4,358.2 677.1,358.8 675.8,359.5 674.6,360.4 673.3,361.6 672.0,363.2 670.6,366.8 669.8,368.8 669.0,370.0 668.1,371.0 667.2,371.9 666.3,372.8 665.4,373.5 664.5,374.2 663.6,374.8 662.7,375.3 661.7,375.7 660.7,375.9 659.6,376.1" fill="#AC9CD6" stroke="#767CA8" stroke-width="0.5"/>
<polygon points="685.5,358.1 686.6,358.3 687.6,358.5 688.6,358.9 689.5,359.4 690.4,360.0 691.3,360.7 692.2,361.4 693.1,362.3 694.0,363.2 694.9,364.2 695.7,365.4 696.5,367.4 697.9,371.0 699.2,372.6 700.5,373.8 701.7,374.7 703.0,375.4 704.3,376.0 705.6,376.4 706.8,376.7 708.0,376.9 709.2,377.0 710.3,377.0 711.5,376.9 711.4,376.1 710.4,375.9 709.4,375.7 708.4,375.3 707.5,374.8 706.6,374.2 705.7,373.5 704.8,372.8 703.9,371.9 703.0,371.0 702.1,370.0 701.3,368.7 700.5,366.8 699.1,363.2 697.8,361.6 696.5,360.5 695.3,359.5 694.0,358.8 692.7,358.2 691.5,357.8 690.2,357.5 689.0,357.3 687.8,357.2 686.7,357.2 685.6,357.3" fill="#5C6290" stroke="#5C6290" stroke-width="0.4"/>
<polygon points="685.6,376.9 686.7,377.0 687.8,377.0 689.0,376.9 690.2,376.7 691.5,376.4 692.7,376.0 694.0,375.4 695.3,374.7 696.5,373.7 697.8,372.6 699.1,371.0 700.5,367.4 701.3,365.5 702.1,364.2 703.0,363.2 703.9,362.3 704.8,361.4 705.7,360.7 706.6,360.0 707.5,359.4 708.4,358.9 709.4,358.5 710.4,358.3 711.4,358.1 711.5,357.3 710.3,357.2 709.2,357.2 708.0,357.3 706.8,357.5 705.6,357.8 704.3,358.2 703.0,358.8 701.7,359.5 700.5,360.4 699.2,361.6 697.9,363.2 696.5,366.8 695.7,368.8 694.9,370.0 694.0,371.0 693.1,371.9 692.2,372.8 691.3,373.5 690.4,374.2 689.5,374.8 688.6,375.3 687.6,375.7 686.6,375.9 685.5,376.1" fill="#AAB5E5" stroke="#767CA8" stroke-width="0.5"/>
<polygon points="711.4,358.1 712.5,358.3 713.5,358.5 714.5,358.9 715.4,359.4 716.3,360.0 717.2,360.7 718.1,361.4 719.0,362.3 719.9,363.2 720.8,364.2 721.6,365.4 722.4,367.4 723.8,371.0 725.1,372.6 726.4,373.8 727.6,374.7 728.9,375.4 730.2,376.0 731.5,376.4 732.7,376.7 733.9,376.9 735.1,377.0 736.2,377.0 737.4,376.9 737.3,376.1 736.3,375.9 735.3,375.7 734.3,375.3 733.4,374.8 732.5,374.2 731.6,373.5 730.7,372.8 729.8,371.9 728.9,371.0 728.0,370.0 727.2,368.7 726.4,366.8 725.0,363.2 723.7,361.6 722.4,360.5 721.2,359.5 719.9,358.8 718.6,358.2 717.4,357.8 716.1,357.5 714.9,357.3 713.7,357.2 712.6,357.2 711.5,357.3" fill="#5C6290" stroke="#5C6290" stroke-width="0.4"/>
<polygon points="711.5,376.9 712.6,377.0 713.7,377.0 714.9,376.9 716.1,376.7 717.4,376.4 718.6,376.0 719.9,375.4 721.2,374.7 722.4,373.7 723.7,372.6 725.0,371.0 726.4,367.4 727.2,365.5 728.0,364.2 728.9,363.2 729.8,362.3 730.7,361.4 731.6,360.7 732.5,360.0 733.4,359.4 734.3,358.9 735.3,358.5 736.3,358.3 737.3,358.1 737.4,357.3 736.2,357.2 735.1,357.2 733.9,357.3 732.7,357.5 731.5,357.8 730.2,358.2 728.9,358.8 727.6,359.5 726.4,360.4 725.1,361.6 723.8,363.2 722.4,366.8 721.6,368.8 720.8,370.0 719.9,371.0 719.0,371.9 718.1,372.8 717.2,373.5 716.3,374.2 715.4,374.8 714.5,375.3 713.5,375.7 712.5,375.9 711.4,376.1" fill="#AC9CD6" stroke="#767CA8" stroke-width="0.5"/>
<polygon points="737.3,358.1 738.4,358.3 739.4,358.5 740.4,358.9 741.3,359.4 742.2,360.0 743.1,360.7 744.0,361.4 744.9,362.3 745.8,363.2 746.7,364.2 747.5,365.4 748.3,367.4 749.7,371.0 751.0,372.6 752.3,373.8 753.5,374.7 754.8,375.4 756.1,376.0 757.4,376.4 758.6,376.7 759.8,376.9 761.0,377.0 762.1,377.0 763.3,376.9 763.2,376.1 762.2,375.9 761.2,375.7 760.2,375.3 759.3,374.8 758.4,374.2 757.5,373.5 756.6,372.8 755.7,371.9 754.8,371.0 753.9,370.0 753.1,368.7 752.3,366.8 750.9,363.2 749.6,361.6 748.3,360.5 747.1,359.5 745.8,358.8 744.5,358.2 743.3,357.8 742.0,357.5 740.8,357.3 739.6,357.2 738.5,357.2 737.4,357.3" fill="#5C6290" stroke="#5C6290" stroke-width="0.4"/>
<polygon points="737.4,376.9 738.5,377.0 739.6,377.0 740.8,376.9 742.0,376.7 743.3,376.4 744.5,376.0 745.8,375.4 747.1,374.7 748.3,373.7 749.6,372.6 750.9,371.0 752.3,367.4 753.1,365.5 753.9,364.2 754.8,363.2 755.7,362.3 756.6,361.4 757.5,360.7 758.4,360.0 759.3,359.4 760.2,358.9 761.2,358.5 762.2,358.3 763.2,358.1 763.3,357.3 762.1,357.2 761.0,357.2 759.8,357.3 758.6,357.5 757.4,357.8 756.1,358.2 754.8,358.8 753.5,359.5 752.3,360.4 751.0,361.6 749.7,363.2 748.3,366.8 747.5,368.8 746.7,370.0 745.8,371.0 744.9,371.9 744.0,372.8 743.1,373.5 742.2,374.2 741.3,374.8 740.4,375.3 739.4,375.7 738.4,375.9 737.3,376.1" fill="#AAB5E5" stroke="#767CA8" stroke-width="0.5"/>
<polygon points="763.2,358.1 764.3,358.3 765.3,358.5 766.3,358.9 767.2,359.4 768.1,360.0 769.0,360.7 769.9,361.4 770.8,362.3 771.7,363.2 772.6,364.2 773.4,365.4 774.2,367.4 775.6,371.0 776.9,372.6 778.2,373.8 779.4,374.7 780.7,375.4 782.0,376.0 783.3,376.4 784.5,376.7 785.7,376.9 786.9,377.0 788.0,377.0 789.2,376.9 789.1,376.1 788.1,375.9 787.1,375.7 786.1,375.3 785.2,374.8 784.3,374.2 783.4,373.5 782.5,372.8 781.6,371.9 780.7,371.0 779.8,370.0 779.0,368.7 778.2,366.8 776.8,363.2 775.5,361.6 774.2,360.5 773.0,359.5 771.7,358.8 770.4,358.2 769.2,357.8 767.9,357.5 766.7,357.3 765.5,357.2 764.4,357.2 763.3,357.3" fill="#5C6290" stroke="#5C6290" stroke-width="0.4"/>
<polygon points="763.3,376.9 764.4,377.0 765.5,377.0 766.7,376.9 767.9,376.7 769.2,376.4 770.4,376.0 771.7,375.4 773.0,374.7 774.2,373.7 775.5,372.6 776.8,371.0 778.2,367.4 779.0,365.5 779.8,364.2 780.7,363.2 781.6,362.3 782.5,361.4 783.4,360.7 784.3,360.0 785.2,359.4 786.1,358.9 787.1,358.5 788.1,358.3 789.1,358.1 789.2,357.3 788.0,357.2 786.9,357.2 785.7,357.3 784.5,357.5 783.3,357.8 782.0,358.2 780.7,358.8 779.4,359.5 778.2,360.4 776.9,361.6 775.6,363.2 774.2,366.8 773.4,368.8 772.6,370.0 771.7,371.0 770.8,371.9 769.9,372.8 769.0,373.5 768.1,374.2 767.2,374.8 766.3,375.3 765.3,375.7 764.3,375.9 763.2,376.1" fill="#AC9CD6" stroke="#767CA8" stroke-width="0.5"/>
<polygon points="789.1,358.1 790.2,358.3 791.2,358.5 792.2,358.9 793.1,359.4 794.0,360.0 794.9,360.7 795.8,361.4 796.7,362.3 797.6,363.2 798.5,364.2 799.3,365.4 800.1,367.4 801.5,371.0 802.8,372.6 804.1,373.8 805.3,374.7 806.6,375.4 807.9,376.0 809.2,376.4 810.4,376.7 811.6,376.9 812.8,377.0 813.9,377.0 815.1,376.9 815.0,376.1 814.0,375.9 813.0,375.7 812.0,375.3 811.1,374.8 810.2,374.2 809.3,373.5 808.4,372.8 807.5,371.9 806.6,371.0 805.7,370.0 804.9,368.7 804.1,366.8 802.7,363.2 801.4,361.6 800.1,360.5 798.9,359.5 797.6,358.8 796.3,358.2 795.1,357.8 793.8,357.5 792.6,357.3 791.4,357.2 790.3,357.2 789.2,357.3" fill="#5C6290" stroke="#5C6290" stroke-width="0.4"/>
<polygon points="789.2,376.9 790.3,377.0 791.4,377.0 792.6,376.9 793.8,376.7 795.1,376.4 796.3,376.0 797.6,375.4 798.9,374.7 800.1,373.7 801.4,372.6 802.7,371.0 804.1,367.4 804.9,365.5 805.7,364.2 806.6,363.2 807.5,362.3 808.4,361.4 809.3,360.7 810.2,360.0 811.1,359.4 812.0,358.9 813.0,358.5 814.0,358.3 815.0,358.1 815.1,357.3 813.9,357.2 812.8,357.2 811.6,357.3 810.4,357.5 809.2,357.8 807.9,358.2 806.6,358.8 805.3,359.5 804.1,360.4 802.8,361.6 801.5,363.2 800.1,366.8 799.3,368.8 798.5,370.0 797.6,371.0 796.7,371.9 795.8,372.8 794.9,373.5 794.0,374.2 793.1,374.8 792.2,375.3 791.2,375.7 790.2,375.9 789.1,376.1" fill="#AAB5E5" stroke="#767CA8" stroke-width="0.5"/>
<polygon points="815.0,358.1 816.0,358.3 817.0,358.5 817.9,358.9 818.8,359.3 819.7,359.8 820.5,360.5 821.4,361.1 822.2,361.9 823.0,362.7 823.9,363.6 824.7,364.7 825.5,365.9 826.4,369.1 827.7,371.4 828.9,372.8 830.1,373.9 831.3,374.7 832.5,375.4 833.7,375.9 834.9,376.3 836.1,376.6 837.2,376.8 838.3,376.9 839.4,377.0 839.6,375.8 838.6,375.6 837.7,375.2 836.8,374.7 835.9,374.1 835.1,373.5 834.3,372.8 833.4,372.0 832.6,371.1 831.8,370.1 831.0,369.0 830.2,367.6 829.1,363.9 827.8,362.2 826.6,360.9 825.4,360.0 824.2,359.2 823.0,358.6 821.8,358.1 820.6,357.7 819.4,357.5 818.3,357.3 817.2,357.2 816.1,357.2 815.1,357.3" fill="#5C6290" stroke="#5C6290" stroke-width="0.4"/>
<polygon points="815.1,376.9 816.1,377.0 817.2,377.0 818.3,376.9 819.4,376.7 820.6,376.5 821.8,376.1 823.0,375.6 824.2,375.0 825.4,374.2 826.6,373.3 827.8,372.0 829.1,370.3 830.2,366.6 831.0,365.2 831.8,364.1 832.6,363.1 833.4,362.2 834.3,361.4 835.1,360.7 835.9,360.1 836.8,359.5 837.7,359.0 838.6,358.6 839.6,358.4 839.4,357.2 838.3,357.3 837.2,357.4 836.1,357.6 834.9,357.9 833.7,358.3 832.5,358.8 831.3,359.5 830.1,360.3 828.9,361.4 827.7,362.8 826.4,365.1 825.5,368.3 824.7,369.5 823.9,370.6 823.0,371.5 822.2,372.3 821.4,373.1 820.5,373.7 819.7,374.4 818.8,374.9 817.9,375.3 817.0,375.7 816.0,375.9 815.0,376.1" fill="#AC9CD6" stroke="#767CA8" stroke-width="0.5"/>
<path d="M697.5,347 L686,359 M697.5,347 L708,358" stroke="#5A6383" stroke-width="3" fill="none"/>
<rect x="695.3" y="334" width="4.4" height="15" fill="#5A6383"/>
<rect x="691.3" y="319.8" width="12.4" height="10.5" rx="3" fill="#5A6383"/>
<rect x="692" y="329" width="11" height="9" rx="3" fill="#5A6383"/>
<line x1="697.5" y1="321" x2="697.5" y2="337" stroke="#45506e" stroke-width="0.8"/>
<line x1="692" y1="329.5" x2="703" y2="329.5" stroke="#45506e" stroke-width="0.8"/>
<ellipse cx="681.3" cy="364.2" rx="8.2" ry="6.3" fill="#5A6383"/>
<ellipse cx="713.3" cy="363.6" rx="8.2" ry="6.5" fill="#5A6383"/>
<text x="659.2" y="350.8" font-size="12.6" fill="#222" stroke="#222" stroke-width="0.28" font-weight="normal" font-style="normal" text-anchor="start" >ARF</text>
<path d="M681.6,265.7 C682.5,264.6 683.6,263.9 685.6,264.4 C687.6,264.8 691.4,267.5 693.6,268.4 C695.8,269.3 698.3,268.6 699.0,269.7 C699.7,270.8 698.2,273.4 697.7,275.1 C697.2,276.8 695.2,278.7 696.3,279.8 C697.4,280.9 701.3,280.8 704.4,281.8 C707.5,282.8 711.5,284.4 715.1,285.8 C718.7,287.2 722.7,288.3 725.8,290.5 C728.9,292.7 731.7,295.7 733.9,299.2 C736.1,302.7 738.1,307.5 739.2,311.3 C740.3,315.1 741.3,318.6 740.6,322.0 C739.9,325.4 737.7,329.5 735.2,331.4 C732.7,333.3 728.9,333.6 725.8,333.4 C722.7,333.2 719.1,332.0 716.4,330.1 C713.7,328.2 711.9,324.2 709.7,322.0 C707.5,319.8 705.7,317.7 703.0,316.7 C700.3,315.7 695.8,315.8 693.6,316.0 C691.4,316.2 690.9,317.0 689.6,318.0 C688.3,319.0 687.2,320.2 685.6,322.0 C684.0,323.8 682.7,326.9 680.2,328.7 C677.7,330.5 673.9,332.6 670.8,332.8 C667.7,333.0 664.0,332.1 661.5,330.1 C659.0,328.1 657.5,324.7 656.1,320.7 C654.8,316.7 654.0,310.2 653.4,306.0 C652.8,301.8 651.6,298.3 652.7,295.2 C653.8,292.1 657.8,289.6 660.1,287.2 C662.5,284.8 664.6,282.1 666.8,280.5 C669.0,278.9 671.3,279.4 673.5,277.8 C675.7,276.2 678.9,273.1 680.2,271.1 C681.6,269.1 680.7,266.8 681.6,265.7 Z" fill="#B7A1E4"/>
<path d="M673.5,277.8 C676.0,275.9 681.8,274.4 685.6,274.4 C689.4,274.4 695.2,275.7 696.3,277.8 C697.4,279.9 693.9,284.3 692.3,287.2 C690.7,290.1 689.4,293.4 686.9,295.2 C684.4,297.0 680.4,297.9 677.5,297.9 C674.6,297.9 670.6,297.2 669.5,295.2 C668.4,293.2 670.1,288.7 670.8,285.8 C671.5,282.9 671.0,279.7 673.5,277.8 Z" fill="#9A82D2"/>
<ellipse cx="687.5" cy="314" rx="1.8" ry="2.6" fill="#9A82D2"/>
<text x="668.8" y="308" font-size="13" fill="#2a1a3a" stroke="#2a1a3a" stroke-width="0.28" font-weight="normal" font-style="normal" text-anchor="start" >Aux/IAA</text>
<text x="0" y="0" font-size="16.3" fill="#1a1a1a" stroke="#1a1a1a" stroke-width="0.28" transform="translate(71.3,488.2) rotate(-90)">Transcription</text>
<text x="129.7" y="410.3" font-size="14.2" fill="#1a1a1a" stroke="#1a1a1a" stroke-width="0.28" font-weight="normal" font-style="italic" text-anchor="start" >GH3.3</text>
<text x="129.7" y="427.90000000000003" font-size="14.2" fill="#1a1a1a" stroke="#1a1a1a" stroke-width="0.28" font-weight="normal" font-style="italic" text-anchor="start" >GH3.5</text>
<text x="129.7" y="445.5" font-size="14.2" fill="#1a1a1a" stroke="#1a1a1a" stroke-width="0.28" font-weight="normal" font-style="italic" text-anchor="start" >IAA5</text>
<text x="129.7" y="463.1" font-size="14.2" fill="#1a1a1a" stroke="#1a1a1a" stroke-width="0.28" font-weight="normal" font-style="italic" text-anchor="start" >IAA19</text>
<text x="129.7" y="480.70000000000005" font-size="14.2" fill="#1a1a1a" stroke="#1a1a1a" stroke-width="0.28" font-weight="normal" font-style="italic" text-anchor="start" >LBD29</text>
<text x="427.09999999999997" y="410.3" font-size="14.2" fill="#1a1a1a" stroke="#1a1a1a" stroke-width="0.28" font-weight="normal" font-style="italic" text-anchor="start" >GH3.3</text>
<text x="427.09999999999997" y="427.90000000000003" font-size="14.2" fill="#1a1a1a" stroke="#1a1a1a" stroke-width="0.28" font-weight="normal" font-style="italic" text-anchor="start" >GH3.5</text>
<text x="427.09999999999997" y="445.5" font-size="14.2" fill="#1a1a1a" stroke="#1a1a1a" stroke-width="0.28" font-weight="normal" font-style="italic" text-anchor="start" >IAA5</text>
<text x="427.09999999999997" y="463.1" font-size="14.2" fill="#1a1a1a" stroke="#1a1a1a" stroke-width="0.28" font-weight="normal" font-style="italic" text-anchor="start" >IAA19</text>
<text x="427.09999999999997" y="480.70000000000005" font-size="14.2" fill="#1a1a1a" stroke="#1a1a1a" stroke-width="0.28" font-weight="normal" font-style="italic" text-anchor="start" >LBD29</text>
<text x="725.5999999999999" y="410.3" font-size="14.2" fill="#1a1a1a" stroke="#1a1a1a" stroke-width="0.28" font-weight="normal" font-style="italic" text-anchor="start" >GH3.3</text>
<text x="725.5999999999999" y="427.90000000000003" font-size="14.2" fill="#1a1a1a" stroke="#1a1a1a" stroke-width="0.28" font-weight="normal" font-style="italic" text-anchor="start" >GH3.5</text>
<text x="725.5999999999999" y="445.5" font-size="14.2" fill="#1a1a1a" stroke="#1a1a1a" stroke-width="0.28" font-weight="normal" font-style="italic" text-anchor="start" >IAA5</text>
<text x="725.5999999999999" y="463.1" font-size="14.2" fill="#1a1a1a" stroke="#1a1a1a" stroke-width="0.28" font-weight="normal" font-style="italic" text-anchor="start" >IAA19</text>
<text x="725.5999999999999" y="480.70000000000005" font-size="14.2" fill="#1a1a1a" stroke="#1a1a1a" stroke-width="0.28" font-weight="normal" font-style="italic" text-anchor="start" >LBD29</text>
<polygon points="189.9,428.3 218.9,428.3 218.9,415.0 245.1,442.1 218.9,469.0 218.9,455.7 189.9,455.7" fill="#fff" stroke="#111" stroke-width="2.2"/>
<polygon points="486.6,435.4 530.4,435.4 530.4,429.9 540.9,440.4 530.4,451.0 530.4,445.5 486.6,445.5" fill="#fff" stroke="#111" stroke-width="1.9"/>
<line x1="790.1" y1="439.7" x2="836.2" y2="439.7" stroke="#111" stroke-width="2.2"/>
<line x1="836.2" y1="431.9" x2="836.2" y2="447.1" stroke="#111" stroke-width="2.2"/>
<text x="8.8" y="528.2" font-size="18" fill="#111" stroke="#111" stroke-width="0.28" font-weight="bold" font-style="normal" text-anchor="start" >B</text>
<text x="33" y="528" font-size="16.4" fill="#1a1a1a" stroke="#1a1a1a" stroke-width="0.28" font-weight="normal" font-style="normal" text-anchor="start" >AC is required for auxin-dependent root growth inhibition and gravitropism</text>
<polygon points="51.1,550.0 51.1,553.0 51.1,556.0 51.1,558.9 51.1,561.9 51.1,564.9 51.1,567.9 51.1,570.9 51.1,573.9 51.1,576.8 51.1,579.8 51.1,582.8 51.1,585.8 51.1,588.8 51.1,591.8 51.1,594.7 51.1,597.7 51.1,600.7 51.1,603.7 51.1,606.7 51.1,609.7 51.1,612.7 51.1,615.6 51.1,618.6 51.1,621.6 51.1,624.6 51.1,627.6 51.1,630.6 51.1,633.6 51.1,636.6 51.1,639.5 51.1,641.2 51.2,642.8 51.3,644.4 51.5,646.0 51.6,647.6 51.8,649.2 52.0,650.8 52.2,652.4 52.4,654.0 52.7,655.6 52.9,657.2 53.2,658.8 53.5,660.4 53.8,662.0 54.1,663.6 54.5,665.2 54.9,666.8 55.3,668.4 55.7,670.0 56.1,671.6 56.6,673.2 57.1,674.8 57.6,676.4 58.1,678.0 58.7,679.6 59.4,681.2 60.1,682.8 60.9,684.3 61.8,685.9 63.3,687.5 63.3,687.5 64.8,685.9 65.7,684.3 66.4,682.7 67.0,681.0 67.6,679.4 68.2,677.8 68.7,676.2 69.1,674.6 69.6,673.0 70.0,671.4 70.4,669.8 70.8,668.2 71.1,666.6 71.4,665.0 71.7,663.4 72.0,661.8 72.3,660.2 72.6,658.6 72.8,657.0 73.1,655.4 73.3,653.8 73.5,652.2 73.7,650.6 73.8,649.0 74.0,647.4 74.1,645.8 74.2,644.2 74.3,642.6 74.4,641.0 74.4,639.5 74.4,636.5 74.4,633.5 74.4,630.5 74.4,627.6 74.4,624.6 74.4,621.6 74.4,618.6 74.4,615.6 74.4,612.7 74.4,609.7 74.4,606.7 74.4,603.7 74.4,600.7 74.4,597.7 74.4,594.8 74.4,591.8 74.4,588.8 74.4,585.8 74.4,582.8 74.4,579.8 74.4,576.9 74.4,573.9 74.4,570.9 74.4,567.9 74.4,564.9 74.4,561.9 74.4,559.0 74.4,556.0 74.4,553.0 74.4,550.0" fill="#E4E4E4" stroke="#505050" stroke-width="0.9" stroke-linejoin="round"/>
<polygon points="56.5,550.0 56.5,554.3 56.5,558.5 56.5,562.8 56.5,567.1 56.5,571.4 56.5,575.6 56.5,579.9 56.5,584.2 56.5,588.5 56.5,592.7 56.5,597.0 56.5,601.3 56.5,605.6 56.5,609.9 56.5,614.1 56.5,618.4 56.5,622.7 56.5,627.0 56.5,631.2 56.5,635.5 69.0,635.5 69.0,631.2 69.0,626.9 69.0,622.7 69.0,618.4 69.0,614.1 69.0,609.9 69.0,605.6 69.0,601.3 69.0,597.0 69.0,592.8 69.0,588.5 69.0,584.2 69.0,579.9 69.0,575.7 69.0,571.4 69.0,567.1 69.0,562.8 69.0,558.6 69.0,554.3 69.0,550.0" fill="#D4D4D4"/>
<path d="M58.7,550.0 L58.7,554.3 L58.7,558.5 L58.7,562.8 L58.7,567.1 L58.7,571.4 L58.7,575.6 L58.7,579.9 L58.7,584.2 L58.7,588.5 L58.7,592.7 L58.7,597.0 L58.7,601.3 L58.7,605.6 L58.7,609.9 L58.7,614.1 L58.7,618.4 L58.7,622.7 L58.7,627.0 L58.7,631.2 L58.7,635.5 M61.1,550.0 L61.1,554.3 L61.1,558.5 L61.1,562.8 L61.1,567.1 L61.1,571.4 L61.1,575.6 L61.1,579.9 L61.1,584.2 L61.1,588.5 L61.1,592.8 L61.1,597.0 L61.1,601.3 L61.1,605.6 L61.1,609.9 L61.1,614.1 L61.1,618.4 L61.1,622.7 L61.1,627.0 L61.1,631.2 L61.1,635.5 M61.6,550.0 L61.5,554.3 L61.5,558.5 L61.5,562.8 L61.5,567.1 L61.5,571.4 L61.5,575.6 L61.5,579.9 L61.5,584.2 L61.5,588.5 L61.5,592.8 L61.5,597.0 L61.5,601.3 L61.5,605.6 L61.5,609.9 L61.5,614.1 L61.5,618.4 L61.5,622.7 L61.5,627.0 L61.5,631.2 L61.5,635.5 M63.9,550.0 L63.9,554.3 L63.9,558.6 L63.9,562.8 L63.9,567.1 L63.9,571.4 L63.9,575.7 L63.9,579.9 L63.9,584.2 L63.9,588.5 L63.9,592.8 L63.9,597.0 L63.9,601.3 L63.9,605.6 L63.9,609.9 L63.9,614.1 L63.9,618.4 L63.9,622.7 L63.9,627.0 L63.9,631.2 L63.9,635.5 M64.4,550.0 L64.4,554.3 L64.4,558.6 L64.4,562.8 L64.4,567.1 L64.4,571.4 L64.4,575.7 L64.4,579.9 L64.4,584.2 L64.4,588.5 L64.4,592.8 L64.4,597.0 L64.4,601.3 L64.4,605.6 L64.4,609.9 L64.4,614.1 L64.4,618.4 L64.4,622.7 L64.4,627.0 L64.4,631.2 L64.4,635.5 M66.8,550.0 L66.8,554.3 L66.8,558.6 L66.8,562.8 L66.8,567.1 L66.8,571.4 L66.8,575.7 L66.8,579.9 L66.8,584.2 L66.8,588.5 L66.8,592.8 L66.8,597.0 L66.8,601.3 L66.8,605.6 L66.8,609.9 L66.8,614.1 L66.8,618.4 L66.8,622.7 L66.8,626.9 L66.8,631.2 L66.8,635.5" stroke="#B4B4B4" stroke-width="0.6" fill="none" stroke-dasharray="2 1.5"/>
<polygon points="51.7,587.7 51.7,590.6 51.7,593.5 51.7,596.4 51.7,599.3 51.7,602.1 51.7,605.0 51.7,607.9 51.7,610.8 51.7,613.7 51.7,616.6 51.7,619.5 51.7,622.4 51.7,625.3 51.7,628.2 51.7,631.1 51.7,634.0 51.7,636.9 51.7,639.8 51.8,642.7 52.0,645.6 73.5,645.4 73.7,642.6 73.8,639.7 73.8,636.8 73.8,633.9 73.8,631.0 73.8,628.1 73.8,625.3 73.8,622.4 73.8,619.5 73.8,616.6 73.8,613.7 73.8,610.8 73.8,607.9 73.8,605.0 73.8,602.2 73.8,599.3 73.8,596.4 73.8,593.5 73.8,590.6 73.8,587.7" fill="#E3C2F2" opacity="0.65"/>
<path d="M51.1,551.0 L53.8,551.0 M53.8,553.3 L56.5,553.3 M71.7,553.3 L74.4,553.3 M69.0,553.3 L71.7,553.3 M51.1,555.7 L53.8,555.7 M53.8,558.0 L56.5,558.0 M71.7,558.0 L74.4,558.0 M69.0,558.0 L71.7,558.0 M51.1,560.4 L53.8,560.4 M53.8,562.7 L56.5,562.7 M71.7,562.7 L74.4,562.7 M69.0,562.7 L71.7,562.7 M51.1,565.1 L53.8,565.1 M53.8,567.4 L56.5,567.4 M71.7,567.4 L74.4,567.4 M69.0,567.4 L71.7,567.4 M51.1,569.8 L53.8,569.8 M53.8,572.1 L56.5,572.1 M71.7,572.1 L74.4,572.1 M69.0,572.1 L71.7,572.1 M51.1,574.5 L53.8,574.5 M53.8,576.8 L56.5,576.8 M71.7,576.8 L74.4,576.8 M69.0,576.8 L71.7,576.8 M51.1,579.2 L53.8,579.2 M53.8,581.5 L56.5,581.5 M71.7,581.5 L74.4,581.5 M69.0,581.5 L71.7,581.5 M51.1,583.9 L53.8,583.9 M53.8,586.2 L56.5,586.2 M71.7,586.2 L74.4,586.2 M69.0,586.2 L71.7,586.2 M51.1,588.6 L53.8,588.6 M53.8,590.9 L56.5,590.9 M71.7,590.9 L74.4,590.9 M69.0,590.9 L71.7,590.9 M51.1,593.3 L53.8,593.3 M53.8,595.6 L56.5,595.6 M71.7,595.6 L74.4,595.6 M69.0,595.6 L71.7,595.6 M51.1,598.0 L53.8,598.0 M53.8,600.3 L56.5,600.3 M71.7,600.3 L74.4,600.3 M69.0,600.3 L71.7,600.3 M51.1,602.7 L53.8,602.7 M53.8,605.0 L56.5,605.0 M71.7,605.0 L74.4,605.0 M69.0,605.0 L71.7,605.0 M51.1,607.4 L53.8,607.4 M53.8,609.7 L56.5,609.7 M71.7,609.7 L74.4,609.7 M69.0,609.7 L71.7,609.7 M51.1,612.1 L53.8,612.1 M53.8,614.4 L56.5,614.4 M71.7,614.4 L74.4,614.4 M69.0,614.4 L71.7,614.4 M51.1,616.8 L53.8,616.8 M53.8,619.1 L56.5,619.1 M71.7,619.1 L74.4,619.1 M69.0,619.1 L71.7,619.1 M51.1,621.5 L53.8,621.5 M53.8,623.8 L56.5,623.8 M71.7,623.8 L74.4,623.8 M69.0,623.8 L71.7,623.8 M51.1,626.2 L53.8,626.2 M53.8,628.5 L56.5,628.5 M71.7,628.5 L74.4,628.5 M69.0,628.5 L71.7,628.5 M51.1,630.9 L53.8,630.9 M53.8,633.2 L56.5,633.2 M71.7,633.2 L74.4,633.2 M69.0,633.2 L71.7,633.2 M51.1,635.6 L53.8,635.6 M53.8,637.9 L56.5,637.9 M71.7,637.9 L74.4,637.9 M69.0,637.9 L71.7,637.9 M53.8,550.0 L53.8,554.5 L53.8,558.9 L53.8,563.4 L53.8,567.9 L53.8,572.4 L53.8,576.8 L53.8,581.3 L53.8,585.8 L53.8,590.3 L53.8,594.7 L53.8,599.2 L53.8,603.7 L53.8,608.2 L53.8,612.7 L53.8,617.1 L53.8,621.6 L53.8,626.1 L53.8,630.6 L53.8,635.1 L53.8,639.5 M56.5,550.0 L56.5,554.5 L56.5,558.9 L56.5,563.4 L56.5,567.9 L56.5,572.4 L56.5,576.8 L56.5,581.3 L56.5,585.8 L56.5,590.3 L56.5,594.7 L56.5,599.2 L56.5,603.7 L56.5,608.2 L56.5,612.7 L56.5,617.1 L56.5,621.6 L56.5,626.1 L56.5,630.6 L56.5,635.0 L56.5,639.5 M71.7,550.0 L71.7,554.5 L71.7,559.0 L71.7,563.4 L71.7,567.9 L71.7,572.4 L71.7,576.9 L71.7,581.3 L71.7,585.8 L71.7,590.3 L71.7,594.8 L71.7,599.2 L71.7,603.7 L71.7,608.2 L71.7,612.7 L71.7,617.1 L71.7,621.6 L71.7,626.1 L71.7,630.5 L71.7,635.0 L71.7,639.5 M69.0,550.0 L69.0,554.5 L69.0,559.0 L69.0,563.4 L69.0,567.9 L69.0,572.4 L69.0,576.9 L69.0,581.3 L69.0,585.8 L69.0,590.3 L69.0,594.8 L69.0,599.2 L69.0,603.7 L69.0,608.2 L69.0,612.7 L69.0,617.1 L69.0,621.6 L69.0,626.1 L69.0,630.5 L69.0,635.0 L69.0,639.5" stroke="#666" stroke-width="0.65" fill="none"/>
<path d="M51.1,631.5 L62.7,634.7 L74.4,631.5 M51.1,635.4 L62.7,638.6 L74.4,635.4 M51.1,639.3 L62.8,642.5 L74.4,639.3 M51.3,643.3 L62.8,646.4 L74.3,643.2 M51.6,647.2 L62.8,650.3 L74.0,647.0 M52.0,651.1 L62.8,654.2 L73.6,650.9 M52.6,655.0 L62.9,658.1 L73.1,654.8 M53.2,658.9 L62.9,662.0 L72.6,658.7 M54.0,662.8 L63.0,665.9 L71.9,662.6 M54.8,666.7 L63.0,669.8 L71.1,666.5 M55.8,670.6 L63.1,673.7 L70.2,670.4 M57.0,674.5 L63.2,677.6 L69.2,674.3 M58.3,678.4 L63.2,681.5 L68.0,678.2 M59.8,682.3 L63.3,685.4 L66.6,682.1 M54.3,631.5 L54.3,635.3 L54.4,639.0 L54.4,642.7 L54.4,646.5 L54.4,650.2 L54.5,654.0 L54.5,657.7 L54.5,661.5 M58.8,631.5 L58.9,635.2 L58.9,639.0 L58.9,642.7 L58.9,646.5 L58.9,650.2 L59.0,653.9 L59.0,657.7 L59.0,661.4 L59.1,665.2 L59.1,668.9 L59.2,672.6 L59.2,676.4 M62.7,631.5 L62.7,635.2 L62.7,639.0 L62.8,642.7 L62.8,646.4 L62.8,650.2 L62.8,653.9 L62.9,657.6 L62.9,661.4 L63.0,665.1 L63.0,668.8 L63.1,672.6 L63.1,676.3 L63.2,680.0 L63.2,683.8 M66.6,631.5 L66.6,635.2 L66.6,639.0 L66.6,642.7 L66.7,646.4 L66.7,650.1 L66.7,653.9 L66.8,657.6 L66.8,661.3 L66.8,665.1 L66.9,668.8 L67.0,672.5 L67.0,676.2 M71.1,631.5 L71.1,635.2 L71.1,638.9 L71.2,642.7 L71.2,646.4 L71.2,650.1 L71.2,653.8 L71.3,657.5 L71.3,661.3" stroke="#5c5c5c" stroke-width="0.75" fill="none"/>
<text x="52.3" y="586.1" font-size="13.6" fill="#1a1a1a" stroke="#1a1a1a" stroke-width="0.28" font-weight="normal" font-style="normal" text-anchor="start" >IAA</text>
<line x1="62.7" y1="587.7" x2="62.7" y2="636.3" stroke="#D033F0" stroke-width="3.4"/>
<polygon points="56.9,635.8 62.8,645.3 68.5,635.8" fill="#D033F0"/>
<circle cx="62.8" cy="652.0" r="6.5" fill="#F0A8D8" opacity="0.55"/>
<rect x="59.6" y="648.8" width="6.4" height="6.4" fill="#D0103C" transform="rotate(359.5 62.8 652.0)"/>
<polygon points="100.0,550.0 99.9,553.7 99.9,557.5 99.9,561.2 99.9,565.0 99.8,568.8 99.8,572.6 99.8,576.4 99.8,580.3 99.9,584.1 99.9,587.9 100.0,591.8 100.1,595.6 100.2,599.4 100.3,603.2 100.4,607.0 100.5,610.8 100.7,614.6 100.9,618.5 101.1,622.3 101.3,626.2 101.6,630.1 101.9,634.1 102.4,638.3 103.1,642.5 103.9,646.7 104.9,650.7 105.8,654.2 106.8,658.0 107.9,662.0 109.1,665.9 109.3,666.6 109.6,667.3 110.0,668.0 110.3,668.7 110.7,669.4 111.1,670.0 111.5,670.7 112.0,671.4 112.4,672.1 112.9,672.7 113.4,673.4 113.9,674.0 114.4,674.7 115.0,675.2 115.5,675.8 116.1,676.4 116.7,677.0 117.3,677.6 117.9,678.1 118.6,678.7 119.2,679.2 119.9,679.7 120.6,680.2 121.4,680.7 122.2,681.2 123.0,681.7 123.9,682.1 124.8,682.5 125.9,682.8 127.5,683.0 127.5,683.0 128.6,681.8 129.1,680.8 129.5,679.8 129.9,678.9 130.1,678.0 130.4,677.1 130.6,676.2 130.7,675.4 130.9,674.5 131.0,673.7 131.1,672.9 131.2,672.1 131.3,671.3 131.3,670.5 131.4,669.7 131.4,668.9 131.4,668.2 131.4,667.4 131.4,666.7 131.4,666.0 131.3,665.2 131.3,664.5 131.3,663.8 131.2,663.1 131.1,662.4 131.0,661.7 130.9,661.0 130.8,660.3 130.6,659.6 130.5,659.0 129.4,655.6 128.5,652.4 127.7,648.8 126.7,645.0 125.8,641.6 125.2,638.5 124.7,635.2 124.3,631.9 124.0,628.4 123.7,624.8 123.5,621.1 123.3,617.4 123.2,613.7 123.0,610.0 122.9,606.2 122.8,602.5 122.7,598.8 122.6,595.0 122.5,591.3 122.4,587.6 122.4,583.9 122.3,580.1 122.3,576.4 122.3,572.7 122.3,568.9 122.3,565.2 122.4,561.4 122.4,557.6 122.4,553.8 122.4,550.0" fill="#E4E4E4" stroke="#505050" stroke-width="0.9" stroke-linejoin="round"/>
<polygon points="105.4,550.0 105.3,555.4 105.3,560.9 105.2,566.4 105.2,571.8 105.2,577.3 105.2,582.8 105.3,588.4 105.4,593.8 105.6,599.3 105.7,604.8 105.9,610.3 106.1,615.8 106.4,621.3 106.7,626.8 107.2,632.4 107.8,638.1 108.8,643.9 110.2,649.5 111.5,654.7 113.0,660.2 124.2,657.0 122.9,651.9 121.5,646.5 120.3,641.5 119.4,636.5 118.8,631.4 118.4,626.1 118.1,620.7 117.8,615.3 117.6,609.9 117.4,604.4 117.3,599.0 117.1,593.6 117.0,588.1 116.9,582.7 116.9,577.3 116.9,571.9 116.9,566.4 117.0,561.0 117.0,555.5 117.0,550.0" fill="#D4D4D4"/>
<path d="M107.6,550.0 L107.5,555.4 L107.5,560.9 L107.4,566.4 L107.4,571.8 L107.4,577.3 L107.4,582.8 L107.5,588.3 L107.6,593.8 L107.8,599.3 L107.9,604.7 L108.1,610.2 L108.3,615.7 L108.6,621.2 L108.9,626.7 L109.4,632.2 L110.0,637.8 L111.0,643.4 L112.3,648.9 L113.6,654.2 L115.1,659.6 M110.0,550.0 L109.9,555.5 L109.9,560.9 L109.8,566.4 L109.8,571.8 L109.8,577.3 L109.8,582.8 L109.9,588.3 L110.0,593.7 L110.2,599.2 L110.3,604.7 L110.5,610.1 L110.7,615.6 L111.0,621.1 L111.3,626.5 L111.7,632.0 L112.4,637.5 L113.3,643.0 L114.6,648.3 L116.0,653.6 L117.4,658.9 M110.0,550.0 L110.0,555.5 L109.9,560.9 L109.9,566.4 L109.9,571.8 L109.9,577.3 L109.9,582.8 L110.0,588.3 L110.1,593.7 L110.2,599.2 L110.4,604.7 L110.6,610.1 L110.8,615.6 L111.0,621.1 L111.4,626.5 L111.8,632.0 L112.4,637.5 L113.4,642.9 L114.7,648.3 L116.0,653.6 L117.4,658.9 M112.4,550.0 L112.4,555.5 L112.3,560.9 L112.3,566.4 L112.3,571.9 L112.3,577.3 L112.3,582.8 L112.4,588.2 L112.5,593.7 L112.6,599.1 L112.8,604.6 L113.0,610.0 L113.2,615.5 L113.4,620.9 L113.8,626.4 L114.2,631.8 L114.8,637.2 L115.7,642.5 L117.0,647.7 L118.4,653.0 L119.7,658.3 M112.4,550.0 L112.4,555.5 L112.4,560.9 L112.3,566.4 L112.3,571.9 L112.3,577.3 L112.3,582.8 L112.4,588.2 L112.5,593.7 L112.7,599.1 L112.8,604.6 L113.0,610.0 L113.2,615.5 L113.5,620.9 L113.8,626.4 L114.2,631.8 L114.9,637.2 L115.8,642.4 L117.1,647.7 L118.4,653.0 L119.8,658.2 M114.8,550.0 L114.8,555.5 L114.8,561.0 L114.7,566.4 L114.7,571.9 L114.7,577.3 L114.7,582.7 L114.8,588.2 L114.9,593.6 L115.1,599.1 L115.2,604.5 L115.4,609.9 L115.6,615.4 L115.9,620.8 L116.2,626.2 L116.6,631.6 L117.2,636.8 L118.1,642.0 L119.4,647.1 L120.7,652.5 L122.1,657.6" stroke="#B4B4B4" stroke-width="0.6" fill="none" stroke-dasharray="2 1.5"/>
<polygon points="100.7,597.3 100.8,600.9 100.9,604.6 101.0,608.2 101.2,611.8 101.3,615.5 101.5,619.2 101.7,622.8 101.9,626.6 102.2,630.3 102.5,634.1 103.0,638.1 103.6,642.1 104.4,646.1 105.4,650.0 106.3,653.4 107.1,656.9 108.1,660.6 109.2,664.4 110.6,668.0 112.6,671.4 130.8,664.8 130.4,661.4 129.6,658.1 128.6,654.9 127.8,651.7 126.9,648.1 126.0,644.6 125.2,641.5 124.6,638.3 124.1,635.2 123.7,632.0 123.4,628.6 123.2,625.2 122.9,621.7 122.8,618.2 122.6,614.6 122.5,611.0 122.3,607.5 122.2,603.9 122.1,600.3 122.0,596.7" fill="#E3C2F2" opacity="0.65"/>
<path d="M99.9,551.0 L102.6,551.0 M102.6,553.2 L105.3,553.3 M119.7,553.4 L122.4,553.4 M117.0,553.3 L119.7,553.4 M99.9,555.6 L102.6,555.6 M102.6,557.9 L105.3,558.0 M119.7,558.1 L122.4,558.1 M117.0,558.0 L119.7,558.1 M99.9,560.3 L102.6,560.3 M102.6,562.6 L105.3,562.7 M119.7,562.8 L122.4,562.8 M117.0,562.7 L119.7,562.8 M99.9,565.0 L102.6,565.0 M102.5,567.4 L105.2,567.4 M119.6,567.4 L122.3,567.4 M116.9,567.4 L119.6,567.4 M99.8,569.8 L102.5,569.8 M102.5,572.1 L105.2,572.1 M119.6,572.1 L122.3,572.1 M116.9,572.1 L119.6,572.1 M99.8,574.5 L102.5,574.5 M102.5,576.8 L105.2,576.8 M119.6,576.8 L122.3,576.8 M116.9,576.8 L119.6,576.8 M99.8,579.3 L102.5,579.2 M102.5,581.6 L105.2,581.5 M119.6,581.4 L122.3,581.4 M116.9,581.5 L119.6,581.4 M99.9,584.0 L102.6,584.0 M102.6,586.3 L105.3,586.3 M119.7,586.1 L122.4,586.0 M117.0,586.1 L119.7,586.1 M99.9,588.8 L102.6,588.8 M102.7,591.1 L105.4,591.0 M119.8,590.7 L122.5,590.6 M117.1,590.8 L119.8,590.7 M100.0,593.6 L102.7,593.5 M102.8,595.8 L105.5,595.7 M119.9,595.4 L122.6,595.3 M117.2,595.5 L119.9,595.4 M100.1,598.3 L102.8,598.2 M102.9,600.5 L105.6,600.5 M120.0,600.1 L122.7,600.0 M117.3,600.1 L120.0,600.1 M100.3,603.0 L103.0,602.9 M103.1,605.3 L105.7,605.2 M120.1,604.7 L122.8,604.6 M117.4,604.8 L120.1,604.7 M100.4,607.8 L103.1,607.7 M103.2,610.0 L105.9,609.9 M120.3,609.4 L123.0,609.3 M117.6,609.5 L120.3,609.4 M100.6,612.5 L103.3,612.4 M103.4,614.7 L106.1,614.6 M120.5,614.0 L123.2,613.9 M117.8,614.2 L120.5,614.0 M100.8,617.3 L103.5,617.2 M103.6,619.5 L106.3,619.4 M120.7,618.7 L123.4,618.5 M118.0,618.8 L120.7,618.7 M101.0,622.1 L103.7,621.9 M103.9,624.3 L106.6,624.1 M120.9,623.3 L123.6,623.1 M118.2,623.4 L120.9,623.3 M101.3,626.9 L104.0,626.7 M104.2,629.1 L106.9,628.9 M121.2,627.9 L123.9,627.7 M118.5,628.1 L121.2,627.9 M101.7,631.8 L104.4,631.6 M104.6,634.0 L107.3,633.7 M121.6,632.3 L124.3,632.0 M118.9,632.6 L121.6,632.3 M102.2,636.9 L104.9,636.6 M105.2,639.1 L107.9,638.7 M122.1,636.5 L124.8,636.1 M119.5,636.9 L122.1,636.5 M103.0,642.2 L105.7,641.7 M106.1,644.2 L108.8,643.6 M122.9,640.7 L125.5,640.1 M120.2,641.2 L122.9,640.7 M104.1,647.3 L106.7,646.7 M107.3,649.2 L109.9,648.5 M123.9,644.9 L126.5,644.2 M121.3,645.5 L123.9,644.9 M105.3,652.2 L107.9,651.5 M108.5,653.6 L111.1,653.0 M125.1,649.5 L127.7,648.8 M122.4,650.1 L125.1,649.5 M106.4,656.6 L109.0,655.9 M109.6,658.3 L112.3,657.6 M126.2,653.9 L128.8,653.2 M123.6,654.6 L126.2,653.9 M107.7,661.5 L110.3,660.8 M111.0,663.1 L113.6,662.4 M127.4,658.1 L130.0,657.4 M124.8,658.9 L127.4,658.1 M102.7,550.0 L102.6,555.6 L102.6,561.3 L102.5,566.9 L102.5,572.6 L102.5,578.3 L102.6,584.1 L102.6,589.8 L102.8,595.5 L102.9,601.2 L103.1,606.9 L103.3,612.6 L103.6,618.3 L103.9,624.1 L104.2,629.9 L104.8,635.8 L105.7,642.0 L107.0,648.1 L108.5,653.6 L109.9,659.2 L111.6,665.0 M105.4,550.0 L105.3,555.6 L105.3,561.3 L105.2,567.0 L105.2,572.6 L105.2,578.3 L105.3,584.0 L105.3,589.8 L105.5,595.4 L105.6,601.1 L105.8,606.8 L106.0,612.5 L106.3,618.2 L106.6,623.9 L106.9,629.7 L107.5,635.5 L108.4,641.5 L109.7,647.4 L111.1,652.9 L112.5,658.5 L114.2,664.2 M119.7,550.0 L119.7,555.7 L119.7,561.4 L119.6,567.0 L119.6,572.7 L119.6,578.3 L119.7,583.9 L119.7,589.5 L119.9,595.1 L120.0,600.7 L120.2,606.3 L120.4,611.9 L120.6,617.5 L120.9,623.1 L121.3,628.6 L121.8,633.9 L122.5,639.0 L123.6,643.9 L125.0,649.4 L126.4,654.7 L127.9,659.8 M117.0,550.0 L117.0,555.7 L117.0,561.4 L116.9,567.0 L116.9,572.7 L116.9,578.3 L117.0,583.9 L117.0,589.5 L117.2,595.2 L117.3,600.8 L117.5,606.4 L117.7,612.0 L117.9,617.7 L118.2,623.2 L118.6,628.8 L119.1,634.2 L119.9,639.4 L121.0,644.6 L122.4,650.1 L123.8,655.5 L125.3,660.6" stroke="#666" stroke-width="0.65" fill="none"/>
<path d="M106.6,657.5 L118.4,657.8 L128.5,652.0 M107.7,661.6 L119.5,661.6 L129.4,655.4 M109.0,665.7 L120.7,665.3 L130.4,658.8 M110.7,669.4 L122.0,668.9 L131.1,662.4 M113.1,673.0 L123.4,672.6 L131.4,666.2 M115.9,676.3 L124.8,676.2 L131.3,670.2 M119.2,679.2 L126.2,679.8 L130.9,674.5 M109.7,656.7 L110.2,658.8 L110.8,660.8 L111.4,662.9 L112.1,664.9 L112.7,666.9 L113.4,668.8 L114.1,670.8 L114.8,672.8 L115.5,674.7 M113.9,655.6 L114.4,657.6 L115.0,659.6 L115.6,661.6 L116.2,663.6 L116.8,665.5 L117.5,667.4 L118.2,669.4 L118.9,671.3 L119.6,673.2 L120.3,675.1 L121.0,676.9 L121.8,678.8 L122.5,680.7 M117.5,654.7 L118.1,656.7 L118.6,658.6 L119.2,660.5 L119.8,662.4 L120.4,664.3 L121.0,666.2 L121.7,668.1 L122.4,670.0 L123.1,671.8 L123.8,673.7 L124.5,675.6 L125.3,677.4 L126.0,679.3 L126.8,681.1 M121.2,653.8 L121.7,655.7 L122.2,657.6 L122.7,659.4 L123.3,661.3 L123.9,663.1 L124.6,665.0 L125.2,666.8 L125.9,668.7 L126.6,670.5 L127.3,672.3 L128.0,674.2 L128.8,676.0 L129.5,677.9 M125.4,652.7 L125.9,654.5 L126.4,656.4 L126.9,658.1 L127.5,659.9 L128.1,661.7 L128.7,663.6 L129.3,665.4 L130.0,667.1 L130.6,668.9" stroke="#5c5c5c" stroke-width="0.75" fill="none"/>
<text x="101" y="587" font-size="13.6" fill="#1a1a1a" stroke="#1a1a1a" stroke-width="0.28" font-weight="normal" font-style="normal" text-anchor="start" >IAA</text>
<line x1="108.9" y1="597.1" x2="116.5" y2="648.5" stroke="#D033F0" stroke-width="3.4"/>
<polygon points="110.8,649.5 118.7,657.2 122.0,646.6" fill="#D033F0"/>
<line x1="120.0" y1="624.5" x2="119.6" y2="618.6" stroke="#D033F0" stroke-width="3.4"/>
<polygon points="115.9,619.8 119.5,614.7 123.5,619.4" fill="#D033F0"/>
<line x1="121.4" y1="636.7" x2="120.8" y2="631.3" stroke="#D033F0" stroke-width="3.4"/>
<polygon points="117.1,632.6 120.5,627.4 124.6,631.8" fill="#D033F0"/>
<line x1="124.3" y1="648.6" x2="122.8" y2="643.0" stroke="#D033F0" stroke-width="3.4"/>
<polygon points="119.4,644.8 122.1,639.4 126.7,643.0" fill="#D033F0"/>
<line x1="126.8" y1="659.9" x2="125.2" y2="654.5" stroke="#D033F0" stroke-width="3.4"/>
<polygon points="121.8,656.4 124.3,650.8 129.1,654.3" fill="#D033F0"/>
<circle cx="120.5" cy="663.0" r="6.5" fill="#F0A8D8" opacity="0.55"/>
<rect x="117.3" y="659.8" width="6.4" height="6.4" fill="#D0103C" transform="rotate(341.8 120.5 663.0)"/>
<line x1="40" y1="625.4" x2="40" y2="684.2" stroke="#ABABAB" stroke-width="1.8"/>
<polyline points="44.0,676.7 40.0,684.2 36.0,676.7" fill="none" stroke="#ABABAB" stroke-width="1.8"/>
<line x1="96.3" y1="665.7" x2="116.4" y2="689.3" stroke="#ABABAB" stroke-width="1.8"/>
<polyline points="114.6,681.0 116.4,689.3 108.5,686.2" fill="none" stroke="#ABABAB" stroke-width="1.8"/>
<text x="63.8" y="709.2" font-size="14.3" fill="#1a1a1a" stroke="#1a1a1a" stroke-width="0.28" font-weight="normal" font-style="normal" text-anchor="start" >Gravity</text>
<path d="M176.2,575 L180.8,575 L179.4,667.2 L178.5,672.2 L177.6,667.2 Z" fill="#F4F4F4" stroke="#9a9a9a" stroke-width="0.8"/>
<path d="M178.5,575 Q177.0,571 170.8,567.7" stroke="#5C8A2E" stroke-width="4.6" fill="none"/>
<path d="M178.5,575 Q180.0,571 186.2,567.7" stroke="#5C8A2E" stroke-width="4.6" fill="none"/>
<ellipse cx="166.7" cy="558.8" rx="8.1" ry="11.7" fill="#8DC63F" stroke="#5C8A2E" stroke-width="0.9" transform="rotate(-25 166.7 558.8)"/>
<path d="M178.5,575 Q177.0,571 170.8,567.7" stroke="#8DC63F" stroke-width="2.8" fill="none"/>
<ellipse cx="190.3" cy="558.8" rx="8.1" ry="11.7" fill="#8DC63F" stroke="#5C8A2E" stroke-width="0.9" transform="rotate(25 190.3 558.8)"/>
<path d="M178.5,575 Q180.0,571 186.2,567.7" stroke="#8DC63F" stroke-width="2.8" fill="none"/>
<rect x="176.1" y="572" width="4.8" height="4" fill="#8DC63F"/>
<path d="M176.7,564 l1.8,2.4 l1.8,-2.4" stroke="#888" stroke-width="0.7" fill="none"/>
<path d="M227.79999999999998,569.5 L232.4,569.5 L231.0,598.6 L230.1,603.6 L229.2,598.6 Z" fill="#F4F4F4" stroke="#9a9a9a" stroke-width="0.8"/>
<path d="M230.1,569.5 Q228.6,565.5 224.6,562.8" stroke="#5C8A2E" stroke-width="4.6" fill="none"/>
<path d="M230.1,569.5 Q231.6,565.5 235.6,562.8" stroke="#5C8A2E" stroke-width="4.6" fill="none"/>
<ellipse cx="217.1" cy="556.5" rx="8.1" ry="11.7" fill="#8DC63F" stroke="#5C8A2E" stroke-width="0.9" transform="rotate(-50 217.1 556.5)"/>
<path d="M230.1,569.5 Q228.6,565.5 224.6,562.8" stroke="#8DC63F" stroke-width="2.8" fill="none"/>
<ellipse cx="243.1" cy="556.5" rx="8.1" ry="11.7" fill="#8DC63F" stroke="#5C8A2E" stroke-width="0.9" transform="rotate(50 243.1 556.5)"/>
<path d="M230.1,569.5 Q231.6,565.5 235.6,562.8" stroke="#8DC63F" stroke-width="2.8" fill="none"/>
<rect x="227.7" y="566.5" width="4.8" height="4" fill="#8DC63F"/>
<path d="M228.29999999999998,558.5 l1.8,2.4 l1.8,-2.4" stroke="#888" stroke-width="0.7" fill="none"/>
<text x="161.7" y="688.8" font-size="13" fill="#1a1a1a" stroke="#1a1a1a" stroke-width="0.28" font-weight="normal" font-style="normal" text-anchor="start" >Mock</text>
<text x="219.4" y="688.8" font-size="13" fill="#1a1a1a" stroke="#1a1a1a" stroke-width="0.28" font-weight="normal" font-style="normal" text-anchor="start" >IAA</text>
<polygon points="351.4,547.5 351.3,550.5 351.3,553.6 351.3,556.6 351.3,559.6 351.3,562.6 351.3,565.7 351.3,568.7 351.3,571.7 351.3,574.8 351.3,577.8 351.3,580.8 351.3,583.9 351.3,586.9 351.3,589.9 351.3,592.9 351.3,596.0 351.3,599.0 351.3,602.0 351.3,605.1 351.3,608.1 351.3,611.1 351.3,614.2 351.3,617.2 351.3,620.2 351.3,623.3 351.3,626.3 351.3,629.3 351.3,632.4 351.3,635.4 351.3,638.4 351.4,640.0 351.5,641.5 351.6,643.1 351.7,644.6 351.9,646.1 352.0,647.7 352.2,649.2 352.5,650.8 352.7,652.3 352.9,653.8 353.2,655.4 353.5,656.9 353.8,658.5 354.1,660.0 354.5,661.5 354.8,663.1 355.2,664.6 355.6,666.1 356.0,667.7 356.5,669.2 357.0,670.7 357.5,672.2 358.0,673.8 358.6,675.3 359.2,676.8 359.9,678.3 360.6,679.9 361.4,681.4 362.4,682.9 363.9,684.4 363.9,684.4 365.4,682.8 366.3,681.3 367.1,679.7 367.7,678.2 368.3,676.6 368.9,675.1 369.4,673.6 369.9,672.0 370.3,670.5 370.7,668.9 371.1,667.4 371.5,665.9 371.9,664.3 372.2,662.8 372.5,661.3 372.8,659.7 373.1,658.2 373.4,656.7 373.6,655.2 373.9,653.6 374.1,652.1 374.3,650.6 374.5,649.0 374.7,647.5 374.8,646.0 374.9,644.5 375.1,642.9 375.1,641.4 375.2,639.9 375.2,638.4 375.2,635.3 375.2,632.3 375.2,629.3 375.2,626.3 375.2,623.2 375.2,620.2 375.2,617.2 375.2,614.2 375.2,611.1 375.2,608.1 375.2,605.1 375.2,602.0 375.2,599.0 375.2,596.0 375.2,593.0 375.2,589.9 375.2,586.9 375.2,583.9 375.2,580.8 375.2,577.8 375.2,574.8 375.2,571.8 375.2,568.7 375.2,565.7 375.2,562.7 375.2,559.6 375.2,556.6 375.2,553.6 375.2,550.5 375.2,547.5" fill="#E4E4E4" stroke="#505050" stroke-width="0.9" stroke-linejoin="round"/>
<polygon points="356.8,547.5 356.7,551.8 356.7,556.2 356.7,560.5 356.7,564.9 356.7,569.2 356.7,573.6 356.7,577.9 356.7,582.3 356.7,586.6 356.7,590.9 356.7,595.3 356.7,599.6 356.7,604.0 356.7,608.3 356.7,612.7 356.7,617.0 356.7,621.4 356.7,625.7 356.7,630.1 356.7,634.4 369.8,634.4 369.8,630.0 369.8,625.7 369.8,621.4 369.8,617.0 369.8,612.7 369.8,608.3 369.8,604.0 369.8,599.6 369.8,595.3 369.8,591.0 369.8,586.6 369.8,582.3 369.8,577.9 369.8,573.6 369.8,569.2 369.8,564.9 369.8,560.5 369.8,556.2 369.8,551.8 369.8,547.5" fill="#D4D4D4"/>
<path d="M359.0,547.5 L358.9,551.8 L358.9,556.2 L358.9,560.5 L358.9,564.9 L358.9,569.2 L358.9,573.6 L358.9,577.9 L358.9,582.3 L358.9,586.6 L358.9,590.9 L358.9,595.3 L358.9,599.6 L358.9,604.0 L358.9,608.3 L358.9,612.7 L358.9,617.0 L358.9,621.4 L358.9,625.7 L358.9,630.1 L358.9,634.4 M361.4,547.5 L361.3,551.8 L361.3,556.2 L361.3,560.5 L361.3,564.9 L361.3,569.2 L361.3,573.6 L361.3,577.9 L361.3,582.3 L361.3,586.6 L361.3,591.0 L361.3,595.3 L361.3,599.6 L361.3,604.0 L361.3,608.3 L361.3,612.7 L361.3,617.0 L361.3,621.4 L361.3,625.7 L361.3,630.1 L361.3,634.4 M362.1,547.5 L362.1,551.8 L362.1,556.2 L362.1,560.5 L362.1,564.9 L362.1,569.2 L362.1,573.6 L362.1,577.9 L362.1,582.3 L362.1,586.6 L362.1,591.0 L362.1,595.3 L362.1,599.6 L362.1,604.0 L362.1,608.3 L362.1,612.7 L362.1,617.0 L362.1,621.4 L362.1,625.7 L362.1,630.1 L362.1,634.4 M364.5,547.5 L364.5,551.8 L364.5,556.2 L364.5,560.5 L364.5,564.9 L364.5,569.2 L364.5,573.6 L364.5,577.9 L364.5,582.3 L364.5,586.6 L364.5,591.0 L364.5,595.3 L364.5,599.6 L364.5,604.0 L364.5,608.3 L364.5,612.7 L364.5,617.0 L364.5,621.4 L364.5,625.7 L364.5,630.1 L364.5,634.4 M365.2,547.5 L365.2,551.8 L365.2,556.2 L365.2,560.5 L365.2,564.9 L365.2,569.2 L365.2,573.6 L365.2,577.9 L365.2,582.3 L365.2,586.6 L365.2,591.0 L365.2,595.3 L365.2,599.6 L365.2,604.0 L365.2,608.3 L365.2,612.7 L365.2,617.0 L365.2,621.4 L365.2,625.7 L365.2,630.1 L365.2,634.4 M367.6,547.5 L367.6,551.8 L367.6,556.2 L367.6,560.5 L367.6,564.9 L367.6,569.2 L367.6,573.6 L367.6,577.9 L367.6,582.3 L367.6,586.6 L367.6,591.0 L367.6,595.3 L367.6,599.6 L367.6,604.0 L367.6,608.3 L367.6,612.7 L367.6,617.0 L367.6,621.4 L367.6,625.7 L367.6,630.1 L367.6,634.4" stroke="#B4B4B4" stroke-width="0.6" fill="none" stroke-dasharray="2 1.5"/>
<polygon points="351.9,585.0 351.9,588.0 351.9,590.9 351.9,593.9 351.9,596.9 351.9,599.8 351.9,602.8 351.9,605.8 351.9,608.8 351.9,611.7 351.9,614.7 351.9,617.7 351.9,620.7 351.9,623.6 351.9,626.6 351.9,629.6 351.9,632.6 351.9,635.5 351.9,638.5 352.1,641.5 352.3,644.5 374.4,644.3 374.5,641.4 374.6,638.4 374.6,635.5 374.6,632.5 374.6,629.5 374.6,626.6 374.6,623.6 374.6,620.6 374.6,617.7 374.6,614.7 374.6,611.7 374.6,608.8 374.6,605.8 374.6,602.8 374.6,599.9 374.6,596.9 374.6,593.9 374.6,590.9 374.6,588.0 374.6,585.0" fill="#E3C2F2" opacity="0.65"/>
<path d="M351.3,548.5 L354.0,548.5 M354.0,550.8 L356.7,550.8 M372.5,550.8 L375.2,550.8 M369.8,550.8 L372.5,550.8 M351.3,553.2 L354.0,553.2 M354.0,555.5 L356.7,555.5 M372.5,555.5 L375.2,555.5 M369.8,555.5 L372.5,555.5 M351.3,557.9 L354.0,557.9 M354.0,560.2 L356.7,560.2 M372.5,560.2 L375.2,560.2 M369.8,560.2 L372.5,560.2 M351.3,562.6 L354.0,562.6 M354.0,564.9 L356.7,564.9 M372.5,564.9 L375.2,564.9 M369.8,564.9 L372.5,564.9 M351.3,567.3 L354.0,567.3 M354.0,569.6 L356.7,569.6 M372.5,569.6 L375.2,569.6 M369.8,569.6 L372.5,569.6 M351.3,572.0 L354.0,572.0 M354.0,574.3 L356.7,574.3 M372.5,574.3 L375.2,574.3 M369.8,574.3 L372.5,574.3 M351.3,576.7 L354.0,576.7 M354.0,579.0 L356.7,579.0 M372.5,579.0 L375.2,579.0 M369.8,579.0 L372.5,579.0 M351.3,581.4 L354.0,581.4 M354.0,583.7 L356.7,583.7 M372.5,583.7 L375.2,583.7 M369.8,583.7 L372.5,583.7 M351.3,586.1 L354.0,586.1 M354.0,588.4 L356.7,588.4 M372.5,588.4 L375.2,588.4 M369.8,588.4 L372.5,588.4 M351.3,590.8 L354.0,590.8 M354.0,593.1 L356.7,593.1 M372.5,593.1 L375.2,593.1 M369.8,593.1 L372.5,593.1 M351.3,595.5 L354.0,595.5 M354.0,597.8 L356.7,597.8 M372.5,597.8 L375.2,597.8 M369.8,597.8 L372.5,597.8 M351.3,600.2 L354.0,600.2 M354.0,602.5 L356.7,602.5 M372.5,602.5 L375.2,602.5 M369.8,602.5 L372.5,602.5 M351.3,604.9 L354.0,604.9 M354.0,607.2 L356.7,607.2 M372.5,607.2 L375.2,607.2 M369.8,607.2 L372.5,607.2 M351.3,609.6 L354.0,609.6 M354.0,611.9 L356.7,611.9 M372.5,611.9 L375.2,611.9 M369.8,611.9 L372.5,611.9 M351.3,614.3 L354.0,614.3 M354.0,616.6 L356.7,616.6 M372.5,616.6 L375.2,616.6 M369.8,616.6 L372.5,616.6 M351.3,619.0 L354.0,619.0 M354.0,621.3 L356.7,621.3 M372.5,621.3 L375.2,621.3 M369.8,621.3 L372.5,621.3 M351.3,623.7 L354.0,623.7 M354.0,626.0 L356.7,626.0 M372.5,626.0 L375.2,626.0 M369.8,626.0 L372.5,626.0 M351.3,628.4 L354.0,628.4 M354.0,630.7 L356.7,630.7 M372.5,630.7 L375.2,630.7 M369.8,630.7 L372.5,630.7 M351.3,633.1 L354.0,633.1 M354.0,635.4 L356.7,635.4 M372.5,635.4 L375.2,635.4 M369.8,635.4 L372.5,635.4 M354.1,547.5 L354.0,552.0 L354.0,556.6 L354.0,561.1 L354.0,565.7 L354.0,570.2 L354.0,574.8 L354.0,579.3 L354.0,583.9 L354.0,588.4 L354.0,592.9 L354.0,597.5 L354.0,602.0 L354.0,606.6 L354.0,611.1 L354.0,615.7 L354.0,620.2 L354.0,624.8 L354.0,629.3 L354.0,633.9 L354.0,638.4 M356.8,547.5 L356.7,552.0 L356.7,556.6 L356.7,561.1 L356.7,565.7 L356.7,570.2 L356.7,574.8 L356.7,579.3 L356.7,583.9 L356.7,588.4 L356.7,592.9 L356.7,597.5 L356.7,602.0 L356.7,606.6 L356.7,611.1 L356.7,615.7 L356.7,620.2 L356.7,624.8 L356.7,629.3 L356.7,633.9 L356.7,638.4 M372.5,547.5 L372.5,552.1 L372.5,556.6 L372.5,561.1 L372.5,565.7 L372.5,570.2 L372.5,574.8 L372.5,579.3 L372.5,583.9 L372.5,588.4 L372.5,593.0 L372.5,597.5 L372.5,602.0 L372.5,606.6 L372.5,611.1 L372.5,615.7 L372.5,620.2 L372.5,624.8 L372.5,629.3 L372.5,633.8 L372.5,638.4 M369.8,547.5 L369.8,552.0 L369.8,556.6 L369.8,561.1 L369.8,565.7 L369.8,570.2 L369.8,574.8 L369.8,579.3 L369.8,583.9 L369.8,588.4 L369.8,593.0 L369.8,597.5 L369.8,602.0 L369.8,606.6 L369.8,611.1 L369.8,615.7 L369.8,620.2 L369.8,624.8 L369.8,629.3 L369.8,633.8 L369.8,638.4" stroke="#666" stroke-width="0.65" fill="none"/>
<path d="M351.3,630.4 L363.3,633.6 L375.2,630.4 M351.3,634.3 L363.3,637.5 L375.2,634.3 M351.3,638.2 L363.3,641.4 L375.2,638.2 M351.5,642.2 L363.3,645.3 L375.1,642.0 M351.9,646.1 L363.4,649.2 L374.8,645.9 M352.3,650.0 L363.4,653.1 L374.4,649.8 M352.9,653.9 L363.4,657.0 L373.9,653.7 M353.7,657.8 L363.5,660.9 L373.2,657.6 M354.5,661.7 L363.5,664.8 L372.5,661.5 M355.5,665.6 L363.6,668.7 L371.6,665.4 M356.6,669.5 L363.7,672.6 L370.6,669.3 M357.9,673.4 L363.8,676.5 L369.5,673.2 M359.4,677.3 L363.8,680.4 L368.2,677.1 M361.3,681.1 L363.9,684.3 L366.4,681.1 M354.7,630.4 L354.7,634.0 L354.7,637.6 L354.7,641.2 L354.7,644.9 L354.7,648.5 L354.8,652.1 L354.8,655.7 L354.9,659.3 M359.3,630.4 L359.3,634.0 L359.3,637.6 L359.3,641.2 L359.3,644.8 L359.4,648.4 L359.4,652.0 L359.4,655.7 L359.5,659.3 L359.5,662.9 L359.6,666.5 L359.7,670.1 L359.7,673.7 M363.3,630.4 L363.3,634.0 L363.3,637.6 L363.3,641.2 L363.3,644.8 L363.4,648.4 L363.4,652.0 L363.4,655.6 L363.5,659.2 L363.5,662.8 L363.6,666.4 L363.6,670.0 L363.7,673.6 L363.8,677.2 L363.8,680.8 M367.3,630.4 L367.3,634.0 L367.3,637.6 L367.3,641.2 L367.3,644.8 L367.3,648.4 L367.4,652.0 L367.4,655.6 L367.5,659.2 L367.5,662.7 L367.6,666.3 L367.6,669.9 L367.7,673.5 M371.9,630.4 L371.9,634.0 L371.9,637.6 L371.9,641.2 L371.9,644.7 L372.0,648.3 L372.0,651.9 L372.0,655.5 L372.1,659.1" stroke="#5c5c5c" stroke-width="0.75" fill="none"/>
<text x="354" y="583.2" font-size="13.6" fill="#1a1a1a" stroke="#1a1a1a" stroke-width="0.28" font-weight="normal" font-style="normal" text-anchor="start" >IAA</text>
<line x1="363.3" y1="585.0" x2="363.3" y2="635.0" stroke="#D033F0" stroke-width="3.4"/>
<polygon points="357.5,634.5 363.3,644.0 369.1,634.5" fill="#D033F0"/>
<circle cx="363.4" cy="649.7" r="6.5" fill="#F0A8D8" opacity="0.55"/>
<rect x="360.2" y="646.5" width="6.4" height="6.4" fill="#D0103C" transform="rotate(359.5 363.4 649.7)"/>
<polygon points="400.5,547.5 400.5,550.7 400.5,553.9 400.5,557.1 400.5,560.3 400.5,563.5 400.5,566.7 400.4,569.9 400.4,573.1 400.4,576.3 400.4,579.5 400.4,582.8 400.4,586.0 400.4,589.2 400.4,592.4 400.4,595.6 400.4,598.8 400.4,602.0 400.4,605.3 400.4,608.5 400.4,611.7 400.4,614.9 400.4,618.2 400.5,621.4 400.5,624.6 400.5,627.9 400.6,631.2 400.7,634.5 400.9,638.0 401.1,641.6 401.5,645.1 401.6,646.4 401.8,647.6 402.1,648.8 402.3,650.1 402.6,651.4 402.9,652.8 403.2,654.1 403.5,655.4 403.9,656.8 404.3,658.1 404.7,659.4 405.1,660.7 405.5,662.0 406.0,663.3 406.4,664.6 406.9,665.9 407.5,667.2 408.0,668.5 408.6,669.8 409.1,671.1 409.8,672.3 410.4,673.6 411.1,674.9 411.8,676.1 412.5,677.4 413.3,678.6 414.2,679.9 415.2,681.1 416.3,682.3 418.0,683.5 418.0,683.5 419.4,682.0 420.3,680.6 420.9,679.2 421.5,677.7 422.0,676.4 422.5,675.0 422.9,673.6 423.3,672.2 423.6,670.8 424.0,669.4 424.3,668.1 424.5,666.7 424.8,665.3 425.0,664.0 425.2,662.6 425.4,661.3 425.6,659.9 425.8,658.6 425.9,657.2 426.1,655.9 426.2,654.6 426.3,653.2 426.4,651.9 426.4,650.6 426.5,649.3 426.5,648.0 426.5,646.5 426.5,645.1 426.4,643.7 426.3,642.4 426.0,639.4 425.8,636.6 425.7,633.7 425.6,630.6 425.5,627.5 425.5,624.3 425.5,621.2 425.4,618.0 425.4,614.8 425.4,611.6 425.4,608.4 425.4,605.2 425.4,602.0 425.4,598.8 425.4,595.6 425.4,592.4 425.4,589.2 425.4,586.0 425.4,582.8 425.4,579.6 425.4,576.4 425.4,573.2 425.4,570.0 425.5,566.8 425.5,563.6 425.5,560.4 425.5,557.2 425.5,553.9 425.5,550.7 425.5,547.5" fill="#E4E4E4" stroke="#505050" stroke-width="0.9" stroke-linejoin="round"/>
<polygon points="405.9,547.5 405.9,552.1 405.9,556.7 405.9,561.3 405.9,565.9 405.8,570.5 405.8,575.2 405.8,579.8 405.8,584.4 405.8,589.0 405.8,593.6 405.8,598.2 405.8,602.8 405.8,607.5 405.8,612.1 405.8,616.7 405.9,621.4 405.9,626.0 406.0,630.7 406.1,635.4 406.4,640.3 420.6,639.2 420.3,634.8 420.2,630.4 420.1,625.8 420.1,621.2 420.0,616.6 420.0,612.0 420.0,607.5 420.0,602.8 420.0,598.2 420.0,593.6 420.0,589.0 420.0,584.4 420.0,579.8 420.0,575.2 420.0,570.6 420.1,566.0 420.1,561.4 420.1,556.7 420.1,552.1 420.1,547.5" fill="#D4D4D4"/>
<path d="M408.1,547.5 L408.1,552.1 L408.1,556.7 L408.1,561.3 L408.1,565.9 L408.0,570.5 L408.0,575.2 L408.0,579.8 L408.0,584.4 L408.0,589.0 L408.0,593.6 L408.0,598.2 L408.0,602.8 L408.0,607.5 L408.0,612.1 L408.0,616.7 L408.1,621.3 L408.1,626.0 L408.2,630.6 L408.3,635.3 L408.6,640.1 M410.5,547.5 L410.5,552.1 L410.5,556.7 L410.5,561.3 L410.5,565.9 L410.4,570.6 L410.4,575.2 L410.4,579.8 L410.4,584.4 L410.4,589.0 L410.4,593.6 L410.4,598.2 L410.4,602.8 L410.4,607.5 L410.4,612.1 L410.4,616.7 L410.5,621.3 L410.5,625.9 L410.6,630.6 L410.7,635.2 L411.0,639.9 M411.8,547.5 L411.8,552.1 L411.8,556.7 L411.8,561.3 L411.8,565.9 L411.7,570.6 L411.7,575.2 L411.7,579.8 L411.7,584.4 L411.7,589.0 L411.7,593.6 L411.7,598.2 L411.7,602.8 L411.7,607.5 L411.7,612.1 L411.7,616.7 L411.8,621.3 L411.8,625.9 L411.9,630.5 L412.0,635.2 L412.3,639.8 M414.2,547.5 L414.2,552.1 L414.2,556.7 L414.2,561.3 L414.2,566.0 L414.1,570.6 L414.1,575.2 L414.1,579.8 L414.1,584.4 L414.1,589.0 L414.1,593.6 L414.1,598.2 L414.1,602.8 L414.1,607.5 L414.1,612.1 L414.1,616.7 L414.2,621.3 L414.2,625.9 L414.3,630.5 L414.4,635.1 L414.7,639.6 M415.5,547.5 L415.5,552.1 L415.5,556.7 L415.5,561.3 L415.5,566.0 L415.4,570.6 L415.4,575.2 L415.4,579.8 L415.4,584.4 L415.4,589.0 L415.4,593.6 L415.4,598.2 L415.4,602.8 L415.4,607.5 L415.4,612.1 L415.4,616.7 L415.5,621.3 L415.5,625.9 L415.6,630.5 L415.7,635.0 L416.0,639.5 M417.9,547.5 L417.9,552.1 L417.9,556.7 L417.9,561.4 L417.9,566.0 L417.8,570.6 L417.8,575.2 L417.8,579.8 L417.8,584.4 L417.8,589.0 L417.8,593.6 L417.8,598.2 L417.8,602.8 L417.8,607.5 L417.8,612.1 L417.8,616.7 L417.9,621.3 L417.9,625.8 L418.0,630.4 L418.1,634.9 L418.4,639.4" stroke="#B4B4B4" stroke-width="0.6" fill="none" stroke-dasharray="2 1.5"/>
<polygon points="401.0,594.0 401.0,596.8 401.0,599.6 401.0,602.4 401.0,605.2 401.0,608.0 401.0,610.8 401.0,613.6 401.0,616.4 401.0,619.2 401.1,622.0 401.1,624.8 401.1,627.7 401.2,630.5 401.3,633.3 401.4,636.3 401.5,639.4 401.8,642.5 402.1,645.4 402.5,648.1 403.0,650.7 425.9,648.7 425.9,645.7 425.7,642.8 425.5,640.2 425.3,637.8 425.2,635.3 425.1,632.7 425.0,630.0 424.9,627.2 424.9,624.5 424.9,621.8 424.8,619.0 424.8,616.2 424.8,613.5 424.8,610.7 424.8,607.9 424.8,605.1 424.8,602.4 424.8,599.6 424.8,596.8 424.8,594.0" fill="#E3C2F2" opacity="0.65"/>
<path d="M400.5,548.5 L403.2,548.5 M403.2,550.8 L405.9,550.8 M422.8,550.8 L425.5,550.8 M420.1,550.8 L422.8,550.8 M400.5,553.2 L403.2,553.2 M403.2,555.5 L405.9,555.5 M422.8,555.5 L425.5,555.5 M420.1,555.5 L422.8,555.5 M400.5,557.9 L403.2,557.9 M403.2,560.2 L405.9,560.2 M422.8,560.2 L425.5,560.2 M420.1,560.2 L422.8,560.2 M400.5,562.6 L403.2,562.6 M403.2,564.9 L405.9,564.9 M422.8,564.9 L425.5,564.9 M420.1,564.9 L422.8,564.9 M400.5,567.3 L403.2,567.3 M403.1,569.6 L405.8,569.6 M422.7,569.6 L425.4,569.6 M420.0,569.6 L422.7,569.6 M400.4,572.0 L403.1,572.0 M403.1,574.3 L405.8,574.3 M422.7,574.3 L425.4,574.3 M420.0,574.3 L422.7,574.3 M400.4,576.7 L403.1,576.7 M403.1,579.0 L405.8,579.0 M422.7,579.0 L425.4,579.0 M420.0,579.0 L422.7,579.0 M400.4,581.4 L403.1,581.4 M403.1,583.7 L405.8,583.7 M422.7,583.7 L425.4,583.7 M420.0,583.7 L422.7,583.7 M400.4,586.1 L403.1,586.1 M403.1,588.4 L405.8,588.4 M422.7,588.4 L425.4,588.4 M420.0,588.4 L422.7,588.4 M400.4,590.8 L403.1,590.8 M403.1,593.1 L405.8,593.1 M422.7,593.1 L425.4,593.1 M420.0,593.1 L422.7,593.1 M400.4,595.5 L403.1,595.5 M403.1,597.8 L405.8,597.8 M422.7,597.8 L425.4,597.8 M420.0,597.8 L422.7,597.8 M400.4,600.2 L403.1,600.2 M403.1,602.5 L405.8,602.5 M422.7,602.5 L425.4,602.5 M420.0,602.5 L422.7,602.5 M400.4,604.9 L403.1,604.9 M403.1,607.2 L405.8,607.2 M422.7,607.2 L425.4,607.2 M420.0,607.2 L422.7,607.2 M400.4,609.6 L403.1,609.6 M403.1,611.9 L405.8,611.9 M422.7,611.9 L425.4,611.9 M420.0,611.9 L422.7,611.9 M400.4,614.3 L403.1,614.3 M403.1,616.7 L405.8,616.6 M422.7,616.5 L425.4,616.5 M420.0,616.6 L422.7,616.5 M400.4,619.1 L403.1,619.1 M403.2,621.4 L405.9,621.4 M422.8,621.2 L425.5,621.2 M420.1,621.2 L422.8,621.2 M400.5,623.9 L403.2,623.8 M403.2,626.2 L405.9,626.1 M422.8,625.8 L425.5,625.8 M420.1,625.9 L422.8,625.8 M400.6,628.6 L403.3,628.6 M403.3,630.9 L406.0,630.9 M422.9,630.5 L425.6,630.4 M420.2,630.5 L422.9,630.5 M400.7,633.4 L403.4,633.4 M403.5,635.8 L406.2,635.7 M423.0,635.0 L425.7,634.9 M420.3,635.1 L423.0,635.0 M400.9,638.5 L403.6,638.4 M403.7,640.8 L406.4,640.6 M423.3,639.3 L426.0,639.1 M420.6,639.5 L423.3,639.3 M401.3,643.8 L404.0,643.5 M404.2,645.8 L406.9,645.5 M423.7,643.7 L426.4,643.4 M421.0,644.0 L423.7,643.7 M403.2,547.5 L403.2,552.3 L403.2,557.1 L403.2,561.9 L403.2,566.7 L403.1,571.5 L403.1,576.3 L403.1,581.2 L403.1,586.0 L403.1,590.8 L403.1,595.6 L403.1,600.4 L403.1,605.3 L403.1,610.1 L403.1,614.9 L403.1,619.8 L403.2,624.6 L403.3,629.5 L403.4,634.4 L403.7,639.6 L404.1,644.8 M405.9,547.5 L405.9,552.3 L405.9,557.1 L405.9,561.9 L405.9,566.7 L405.8,571.5 L405.8,576.4 L405.8,581.2 L405.8,586.0 L405.8,590.8 L405.8,595.6 L405.8,600.4 L405.8,605.3 L405.8,610.1 L405.8,614.9 L405.8,619.7 L405.9,624.6 L406.0,629.4 L406.1,634.4 L406.3,639.4 L406.8,644.5 M422.8,547.5 L422.8,552.3 L422.8,557.2 L422.8,562.0 L422.8,566.8 L422.7,571.6 L422.7,576.4 L422.7,581.2 L422.7,586.0 L422.7,590.8 L422.7,595.6 L422.7,600.4 L422.7,605.2 L422.7,610.0 L422.7,614.8 L422.7,619.6 L422.8,624.4 L422.9,629.1 L423.0,633.8 L423.2,638.3 L423.6,642.6 M420.1,547.5 L420.1,552.3 L420.1,557.1 L420.1,562.0 L420.1,566.8 L420.0,571.6 L420.0,576.4 L420.0,581.2 L420.0,586.0 L420.0,590.8 L420.0,595.6 L420.0,600.4 L420.0,605.2 L420.0,610.0 L420.0,614.8 L420.0,619.6 L420.1,624.4 L420.2,629.2 L420.3,633.9 L420.5,638.4 L420.9,642.9" stroke="#666" stroke-width="0.65" fill="none"/>
<path d="M400.8,636.2 L413.4,638.9 L425.8,635.2 M401.0,640.6 L413.8,642.8 L425.9,638.7 M401.4,644.9 L414.2,646.7 L426.3,642.2 M402.0,648.5 L414.6,650.6 L426.5,646.2 M402.8,652.3 L414.9,654.5 L426.4,650.2 M403.7,656.3 L415.3,658.3 L426.2,654.1 M404.9,660.1 L415.7,662.2 L425.8,658.0 M406.2,663.9 L416.1,666.1 L425.3,661.9 M407.7,667.7 L416.5,670.0 L424.7,665.9 M409.3,671.5 L416.9,673.9 L423.9,669.9 M411.2,675.2 L417.4,677.7 L422.8,673.9 M413.5,678.9 L417.8,681.6 L421.4,678.0 M404.3,636.1 L404.5,639.5 L404.8,643.1 L405.1,646.2 L405.4,649.3 L405.7,652.5 L406.0,655.7 L406.3,658.9 L406.6,662.2 M409.1,635.9 L409.3,639.2 L409.6,642.6 L409.9,645.7 L410.2,648.9 L410.5,652.1 L410.8,655.3 L411.1,658.5 L411.4,661.7 L411.8,664.9 L412.1,668.0 L412.5,671.2 L412.8,674.4 M413.3,635.7 L413.4,638.9 L413.7,642.1 L414.0,645.3 L414.4,648.5 L414.6,651.7 L414.9,654.9 L415.3,658.0 L415.6,661.2 L415.9,664.4 L416.3,667.6 L416.6,670.8 L417.0,674.0 L417.3,677.1 L417.7,680.3 M417.4,635.6 L417.6,638.7 L417.9,641.7 L418.2,644.9 L418.5,648.1 L418.8,651.3 L419.1,654.5 L419.4,657.6 L419.7,660.8 L420.1,664.0 L420.4,667.1 L420.8,670.3 L421.1,673.5 M422.3,635.4 L422.4,638.3 L422.7,641.2 L423.0,644.4 L423.3,647.6 L423.6,650.8 L423.9,654.0 L424.2,657.1 L424.5,660.3" stroke="#5c5c5c" stroke-width="0.75" fill="none"/>
<text x="403" y="583.2" font-size="13.6" fill="#1a1a1a" stroke="#1a1a1a" stroke-width="0.28" font-weight="normal" font-style="normal" text-anchor="start" >IAA</text>
<line x1="413.4" y1="594.0" x2="413.8" y2="636.5" stroke="#D033F0" stroke-width="3.4"/>
<polygon points="408.0,636.2 414.6,645.4 419.6,635.7" fill="#D033F0"/>
<circle cx="415.5" cy="655.9" r="6.5" fill="#F0A8D8" opacity="0.55"/>
<rect x="412.3" y="652.7" width="6.4" height="6.4" fill="#D0103C" transform="rotate(354.4 415.5 655.9)"/>
<line x1="340" y1="624" x2="340" y2="683" stroke="#ABABAB" stroke-width="1.8"/>
<polyline points="344.0,675.5 340.0,683.0 336.0,675.5" fill="none" stroke="#ABABAB" stroke-width="1.8"/>
<line x1="395.8" y1="661.8" x2="410.4" y2="686.9" stroke="#ABABAB" stroke-width="1.8"/>
<polyline points="410.1,678.4 410.4,686.9 403.2,682.4" fill="none" stroke="#ABABAB" stroke-width="1.8"/>
<text x="367.7" y="709.5" font-size="14.3" fill="#1a1a1a" stroke="#1a1a1a" stroke-width="0.28" font-weight="normal" font-style="normal" text-anchor="start" >Gravity</text>
<path d="M465.3,575 L469.90000000000003,575 L468.5,665.6 L467.6,670.6 L466.70000000000005,665.6 Z" fill="#F4F4F4" stroke="#9a9a9a" stroke-width="0.8"/>
<path d="M467.6,575 Q466.1,571 459.9,567.7" stroke="#5C8A2E" stroke-width="4.6" fill="none"/>
<path d="M467.6,575 Q469.1,571 475.3,567.7" stroke="#5C8A2E" stroke-width="4.6" fill="none"/>
<ellipse cx="455.8" cy="558.8" rx="8.1" ry="11.7" fill="#8DC63F" stroke="#5C8A2E" stroke-width="0.9" transform="rotate(-25 455.8 558.8)"/>
<path d="M467.6,575 Q466.1,571 459.9,567.7" stroke="#8DC63F" stroke-width="2.8" fill="none"/>
<ellipse cx="479.4" cy="558.8" rx="8.1" ry="11.7" fill="#8DC63F" stroke="#5C8A2E" stroke-width="0.9" transform="rotate(25 479.4 558.8)"/>
<path d="M467.6,575 Q469.1,571 475.3,567.7" stroke="#8DC63F" stroke-width="2.8" fill="none"/>
<rect x="465.20000000000005" y="572" width="4.8" height="4" fill="#8DC63F"/>
<path d="M465.8,564 l1.8,2.4 l1.8,-2.4" stroke="#888" stroke-width="0.7" fill="none"/>
<path d="M518.6,572 L523.1999999999999,572 L521.8,622.9 L520.9,627.9 L520.0,622.9 Z" fill="#F4F4F4" stroke="#9a9a9a" stroke-width="0.8"/>
<path d="M520.9,572 Q519.4,568 515.4,565.3" stroke="#5C8A2E" stroke-width="4.6" fill="none"/>
<path d="M520.9,572 Q522.4,568 526.4,565.3" stroke="#5C8A2E" stroke-width="4.6" fill="none"/>
<ellipse cx="507.9" cy="559.0" rx="8.1" ry="11.7" fill="#8DC63F" stroke="#5C8A2E" stroke-width="0.9" transform="rotate(-50 507.9 559.0)"/>
<path d="M520.9,572 Q519.4,568 515.4,565.3" stroke="#8DC63F" stroke-width="2.8" fill="none"/>
<ellipse cx="533.9" cy="559.0" rx="8.1" ry="11.7" fill="#8DC63F" stroke="#5C8A2E" stroke-width="0.9" transform="rotate(50 533.9 559.0)"/>
<path d="M520.9,572 Q522.4,568 526.4,565.3" stroke="#8DC63F" stroke-width="2.8" fill="none"/>
<rect x="518.5" y="569" width="4.8" height="4" fill="#8DC63F"/>
<path d="M519.1,561 l1.8,2.4 l1.8,-2.4" stroke="#888" stroke-width="0.7" fill="none"/>
<text x="452.5" y="693.2" font-size="13" fill="#1a1a1a" stroke="#1a1a1a" stroke-width="0.28" font-weight="normal" font-style="normal" text-anchor="start" >Mock</text>
<text x="510.8" y="693.2" font-size="13" fill="#1a1a1a" stroke="#1a1a1a" stroke-width="0.28" font-weight="normal" font-style="normal" text-anchor="start" >IAA</text>
<polygon points="651.3,547.0 651.3,550.0 651.3,553.0 651.3,556.0 651.3,559.0 651.3,562.0 651.3,565.0 651.3,568.0 651.3,571.0 651.3,574.0 651.3,577.0 651.3,580.0 651.3,583.1 651.3,586.1 651.3,589.1 651.3,592.1 651.3,595.1 651.3,598.1 651.3,601.1 651.3,604.1 651.3,607.1 651.3,610.1 651.3,613.1 651.3,616.1 651.3,619.1 651.3,622.1 651.3,625.1 651.3,628.1 651.3,631.1 651.3,634.1 651.3,637.1 651.3,638.6 651.4,640.1 651.5,641.6 651.6,643.2 651.7,644.7 651.9,646.2 652.0,647.7 652.2,649.3 652.4,650.8 652.6,652.3 652.9,653.9 653.1,655.4 653.4,656.9 653.7,658.4 654.0,660.0 654.3,661.5 654.6,663.0 655.0,664.6 655.4,666.1 655.8,667.6 656.2,669.2 656.6,670.7 657.1,672.3 657.6,673.8 658.2,675.3 658.8,676.9 659.4,678.4 660.2,680.0 661.1,681.5 662.6,683.1 662.6,683.1 664.1,681.6 665.1,680.1 665.9,678.6 666.6,677.0 667.3,675.5 667.9,674.0 668.5,672.5 669.0,671.0 669.5,669.4 670.0,667.9 670.5,666.4 670.9,664.8 671.3,663.3 671.7,661.8 672.0,660.2 672.4,658.7 672.7,657.2 673.0,655.6 673.3,654.1 673.6,652.5 673.8,651.0 674.1,649.5 674.3,647.9 674.5,646.4 674.6,644.8 674.8,643.3 674.9,641.8 675.0,640.2 675.1,638.7 675.2,637.1 675.2,634.1 675.2,631.1 675.2,628.1 675.2,625.1 675.2,622.1 675.2,619.1 675.2,616.1 675.2,613.1 675.2,610.1 675.2,607.1 675.2,604.1 675.2,601.1 675.2,598.1 675.2,595.0 675.2,592.0 675.2,589.0 675.2,586.0 675.2,583.0 675.2,580.0 675.2,577.0 675.2,574.0 675.2,571.0 675.2,568.0 675.2,565.0 675.2,562.0 675.2,559.0 675.2,556.0 675.2,553.0 675.2,550.0 675.1,547.0" fill="#E4E4E4" stroke="#505050" stroke-width="0.9" stroke-linejoin="round"/>
<polygon points="656.7,547.0 656.7,551.3 656.7,555.6 656.7,559.9 656.7,564.2 656.7,568.5 656.7,572.8 656.7,577.1 656.7,581.4 656.7,585.8 656.7,590.1 656.7,594.4 656.7,598.7 656.7,603.0 656.7,607.3 656.7,611.6 656.7,615.9 656.7,620.2 656.7,624.5 656.7,628.8 656.7,633.1 669.8,633.1 669.8,628.8 669.8,624.5 669.8,620.2 669.8,615.9 669.8,611.6 669.8,607.3 669.8,603.0 669.8,598.7 669.8,594.4 669.8,590.0 669.8,585.7 669.8,581.4 669.8,577.1 669.8,572.8 669.8,568.5 669.8,564.2 669.8,559.9 669.8,555.6 669.8,551.3 669.7,547.0" fill="#D4D4D4"/>
<path d="M658.9,547.0 L658.9,551.3 L658.9,555.6 L658.9,559.9 L658.9,564.2 L658.9,568.5 L658.9,572.8 L658.9,577.1 L658.9,581.4 L658.9,585.8 L658.9,590.1 L658.9,594.4 L658.9,598.7 L658.9,603.0 L658.9,607.3 L658.9,611.6 L658.9,615.9 L658.9,620.2 L658.9,624.5 L658.9,628.8 L658.9,633.1 M661.3,547.0 L661.3,551.3 L661.3,555.6 L661.3,559.9 L661.3,564.2 L661.3,568.5 L661.3,572.8 L661.3,577.1 L661.3,581.4 L661.3,585.7 L661.3,590.1 L661.3,594.4 L661.3,598.7 L661.3,603.0 L661.3,607.3 L661.3,611.6 L661.3,615.9 L661.3,620.2 L661.3,624.5 L661.3,628.8 L661.3,633.1 M662.0,547.0 L662.0,551.3 L662.0,555.6 L662.0,559.9 L662.0,564.2 L662.0,568.5 L662.0,572.8 L662.0,577.1 L662.0,581.4 L662.0,585.7 L662.0,590.1 L662.0,594.4 L662.0,598.7 L662.0,603.0 L662.0,607.3 L662.0,611.6 L662.0,615.9 L662.0,620.2 L662.0,624.5 L662.0,628.8 L662.0,633.1 M664.4,547.0 L664.4,551.3 L664.4,555.6 L664.4,559.9 L664.4,564.2 L664.4,568.5 L664.4,572.8 L664.4,577.1 L664.4,581.4 L664.4,585.7 L664.4,590.1 L664.4,594.4 L664.4,598.7 L664.4,603.0 L664.4,607.3 L664.4,611.6 L664.4,615.9 L664.4,620.2 L664.4,624.5 L664.4,628.8 L664.4,633.1 M665.1,547.0 L665.2,551.3 L665.2,555.6 L665.2,559.9 L665.2,564.2 L665.2,568.5 L665.2,572.8 L665.2,577.1 L665.2,581.4 L665.2,585.7 L665.2,590.1 L665.2,594.4 L665.2,598.7 L665.2,603.0 L665.2,607.3 L665.2,611.6 L665.2,615.9 L665.2,620.2 L665.2,624.5 L665.2,628.8 L665.2,633.1 M667.5,547.0 L667.6,551.3 L667.6,555.6 L667.6,559.9 L667.6,564.2 L667.6,568.5 L667.6,572.8 L667.6,577.1 L667.6,581.4 L667.6,585.7 L667.6,590.0 L667.6,594.4 L667.6,598.7 L667.6,603.0 L667.6,607.3 L667.6,611.6 L667.6,615.9 L667.6,620.2 L667.6,624.5 L667.6,628.8 L667.6,633.1" stroke="#B4B4B4" stroke-width="0.6" fill="none" stroke-dasharray="2 1.5"/>
<polygon points="651.9,585.0 651.9,587.9 651.9,590.8 651.9,593.7 651.9,596.6 651.9,599.5 651.9,602.4 651.9,605.3 651.9,608.2 651.9,611.1 651.9,614.0 651.9,617.0 651.9,619.9 651.9,622.8 651.9,625.7 651.9,628.6 651.9,631.5 651.9,634.4 651.9,637.3 652.0,640.1 652.2,643.0 674.2,643.2 674.4,640.3 674.6,637.3 674.6,634.4 674.6,631.5 674.6,628.6 674.6,625.7 674.6,622.8 674.6,619.9 674.6,617.0 674.6,614.1 674.6,611.1 674.6,608.2 674.6,605.3 674.6,602.4 674.6,599.5 674.6,596.6 674.6,593.7 674.6,590.8 674.6,587.9 674.6,585.0" fill="#E3C2F2" opacity="0.65"/>
<path d="M651.3,548.0 L654.0,548.0 M654.0,550.3 L656.7,550.3 M672.5,550.3 L675.2,550.3 M669.8,550.3 L672.5,550.3 M651.3,552.7 L654.0,552.7 M654.0,555.0 L656.7,555.0 M672.5,555.0 L675.2,555.0 M669.8,555.0 L672.5,555.0 M651.3,557.4 L654.0,557.4 M654.0,559.7 L656.7,559.7 M672.5,559.7 L675.2,559.7 M669.8,559.7 L672.5,559.7 M651.3,562.1 L654.0,562.1 M654.0,564.4 L656.7,564.4 M672.5,564.4 L675.2,564.4 M669.8,564.4 L672.5,564.4 M651.3,566.8 L654.0,566.8 M654.0,569.1 L656.7,569.1 M672.5,569.1 L675.2,569.1 M669.8,569.1 L672.5,569.1 M651.3,571.5 L654.0,571.5 M654.0,573.8 L656.7,573.8 M672.5,573.8 L675.2,573.8 M669.8,573.8 L672.5,573.8 M651.3,576.2 L654.0,576.2 M654.0,578.5 L656.7,578.5 M672.5,578.5 L675.2,578.5 M669.8,578.5 L672.5,578.5 M651.3,580.9 L654.0,580.9 M654.0,583.2 L656.7,583.2 M672.5,583.2 L675.2,583.2 M669.8,583.2 L672.5,583.2 M651.3,585.6 L654.0,585.6 M654.0,587.9 L656.7,587.9 M672.5,587.9 L675.2,587.9 M669.8,587.9 L672.5,587.9 M651.3,590.3 L654.0,590.3 M654.0,592.6 L656.7,592.6 M672.5,592.6 L675.2,592.6 M669.8,592.6 L672.5,592.6 M651.3,595.0 L654.0,595.0 M654.0,597.3 L656.7,597.3 M672.5,597.3 L675.2,597.3 M669.8,597.3 L672.5,597.3 M651.3,599.7 L654.0,599.7 M654.0,602.0 L656.7,602.0 M672.5,602.0 L675.2,602.0 M669.8,602.0 L672.5,602.0 M651.3,604.4 L654.0,604.4 M654.0,606.7 L656.7,606.7 M672.5,606.7 L675.2,606.7 M669.8,606.7 L672.5,606.7 M651.3,609.1 L654.0,609.1 M654.0,611.4 L656.7,611.4 M672.5,611.4 L675.2,611.4 M669.8,611.4 L672.5,611.4 M651.3,613.8 L654.0,613.8 M654.0,616.1 L656.7,616.1 M672.5,616.1 L675.2,616.1 M669.8,616.1 L672.5,616.1 M651.3,618.5 L654.0,618.5 M654.0,620.8 L656.7,620.8 M672.5,620.8 L675.2,620.8 M669.8,620.8 L672.5,620.8 M651.3,623.2 L654.0,623.2 M654.0,625.5 L656.7,625.5 M672.5,625.5 L675.2,625.5 M669.8,625.5 L672.5,625.5 M651.3,627.9 L654.0,627.9 M654.0,630.2 L656.7,630.2 M672.5,630.2 L675.2,630.2 M669.8,630.2 L672.5,630.2 M651.3,632.6 L654.0,632.6 M654.0,634.9 L656.7,634.9 M672.5,634.9 L675.2,634.9 M669.8,634.9 L672.5,634.9 M654.0,547.0 L654.0,551.5 L654.0,556.0 L654.0,560.5 L654.0,565.0 L654.0,569.5 L654.0,574.0 L654.0,578.5 L654.0,583.0 L654.0,587.6 L654.0,592.1 L654.0,596.6 L654.0,601.1 L654.0,605.6 L654.0,610.1 L654.0,614.6 L654.0,619.1 L654.0,623.6 L654.0,628.1 L654.0,632.6 L654.0,637.1 M656.7,547.0 L656.7,551.5 L656.7,556.0 L656.7,560.5 L656.7,565.0 L656.7,569.5 L656.7,574.0 L656.7,578.5 L656.7,583.0 L656.7,587.6 L656.7,592.1 L656.7,596.6 L656.7,601.1 L656.7,605.6 L656.7,610.1 L656.7,614.6 L656.7,619.1 L656.7,623.6 L656.7,628.1 L656.7,632.6 L656.7,637.1 M672.4,547.0 L672.5,551.5 L672.5,556.0 L672.5,560.5 L672.5,565.0 L672.5,569.5 L672.5,574.0 L672.5,578.5 L672.5,583.0 L672.5,587.5 L672.5,592.0 L672.5,596.6 L672.5,601.1 L672.5,605.6 L672.5,610.1 L672.5,614.6 L672.5,619.1 L672.5,623.6 L672.5,628.1 L672.5,632.6 L672.5,637.1 M669.7,547.0 L669.8,551.5 L669.8,556.0 L669.8,560.5 L669.8,565.0 L669.8,569.5 L669.8,574.0 L669.8,578.5 L669.8,583.0 L669.8,587.5 L669.8,592.0 L669.8,596.6 L669.8,601.1 L669.8,605.6 L669.8,610.1 L669.8,614.6 L669.8,619.1 L669.8,623.6 L669.8,628.1 L669.8,632.6 L669.8,637.1" stroke="#666" stroke-width="0.65" fill="none"/>
<path d="M651.3,629.1 L663.2,632.3 L675.2,629.1 M651.3,633.0 L663.2,636.2 L675.2,633.0 M651.3,636.9 L663.2,640.1 L675.2,636.9 M651.4,640.7 L663.2,644.0 L675.0,640.9 M651.7,644.6 L663.2,647.9 L674.7,644.8 M652.1,648.5 L663.1,651.8 L674.2,648.7 M652.7,652.4 L663.1,655.7 L673.6,652.6 M653.3,656.3 L663.0,659.6 L672.8,656.5 M654.0,660.2 L663.0,663.5 L672.0,660.4 M654.9,664.1 L662.9,667.4 L671.0,664.3 M655.9,668.0 L662.8,671.3 L669.9,668.2 M657.0,671.9 L662.7,675.2 L668.6,672.1 M658.4,675.8 L662.7,679.1 L667.1,676.0 M660.1,679.8 L662.6,683.0 L665.2,679.8 M654.6,629.1 L654.6,632.7 L654.6,636.3 L654.6,639.9 L654.6,643.4 L654.6,647.0 L654.5,650.6 L654.5,654.2 L654.4,657.8 M659.2,629.1 L659.2,632.7 L659.2,636.3 L659.2,639.9 L659.2,643.5 L659.2,647.1 L659.1,650.7 L659.1,654.3 L659.1,657.9 L659.0,661.4 L659.0,665.0 L658.9,668.6 L658.8,672.2 M663.2,629.1 L663.2,632.7 L663.2,636.3 L663.2,639.9 L663.2,643.5 L663.2,647.1 L663.1,650.7 L663.1,654.3 L663.0,657.9 L663.0,661.5 L662.9,665.1 L662.9,668.7 L662.8,672.3 L662.7,675.9 L662.7,679.5 M667.2,629.1 L667.2,632.7 L667.2,636.3 L667.2,639.9 L667.2,643.5 L667.1,647.1 L667.1,650.7 L667.1,654.3 L667.0,658.0 L667.0,661.6 L666.9,665.2 L666.9,668.8 L666.8,672.4 M671.8,629.1 L671.8,632.7 L671.8,636.3 L671.8,639.9 L671.8,643.6 L671.8,647.2 L671.7,650.8 L671.7,654.4 L671.6,658.0" stroke="#5c5c5c" stroke-width="0.75" fill="none"/>
<text x="654" y="582.7" font-size="13.6" fill="#1a1a1a" stroke="#1a1a1a" stroke-width="0.28" font-weight="normal" font-style="normal" text-anchor="start" >IAA</text>
<line x1="662.4" y1="585.0" x2="662.4" y2="634.0" stroke="#D033F0" stroke-width="3.4"/>
<polygon points="656.6,633.5 662.4,643.0 668.2,633.5" fill="#D033F0"/>
<circle cx="662.3" cy="649.7" r="6.5" fill="#F0A8D8" opacity="0.55"/>
<rect x="659.1" y="646.5" width="6.4" height="6.4" fill="#D0103C" transform="rotate(0.5 662.3 649.7)"/>
<polygon points="700.3,547.0 700.3,550.0 700.3,553.0 700.3,556.0 700.3,559.0 700.3,562.0 700.3,565.0 700.3,568.0 700.3,571.0 700.3,574.0 700.3,577.0 700.3,580.0 700.3,583.0 700.3,586.1 700.3,589.1 700.3,592.1 700.3,595.1 700.3,598.1 700.3,601.1 700.3,604.1 700.3,607.1 700.3,610.1 700.3,613.1 700.3,616.1 700.3,619.1 700.3,622.1 700.3,625.1 700.3,628.1 700.3,631.1 700.3,634.1 700.3,637.1 700.3,638.6 700.4,640.1 700.5,641.7 700.6,643.2 700.7,644.7 700.9,646.3 701.0,647.8 701.2,649.3 701.4,650.8 701.7,652.4 701.9,653.9 702.2,655.4 702.4,657.0 702.7,658.5 703.0,660.0 703.4,661.5 703.7,663.1 704.1,664.6 704.5,666.1 704.9,667.7 705.3,669.2 705.8,670.8 706.2,672.3 706.8,673.8 707.3,675.4 707.9,676.9 708.6,678.5 709.4,680.0 710.3,681.5 711.8,683.1 711.8,683.1 713.3,681.6 714.3,680.1 715.1,678.5 715.8,677.0 716.5,675.5 717.1,674.0 717.6,672.4 718.2,670.9 718.6,669.4 719.1,667.9 719.6,666.3 720.0,664.8 720.4,663.3 720.8,661.7 721.1,660.2 721.4,658.7 721.8,657.1 722.1,655.6 722.3,654.0 722.6,652.5 722.9,651.0 723.1,649.4 723.3,647.9 723.5,646.4 723.7,644.8 723.8,643.3 723.9,641.7 724.0,640.2 724.1,638.7 724.2,637.1 724.2,634.1 724.2,631.1 724.2,628.1 724.2,625.1 724.2,622.1 724.2,619.1 724.2,616.1 724.2,613.1 724.2,610.1 724.2,607.1 724.2,604.1 724.2,601.1 724.2,598.1 724.2,595.0 724.2,592.0 724.2,589.0 724.2,586.0 724.2,583.0 724.2,580.0 724.2,577.0 724.2,574.0 724.2,571.0 724.2,568.0 724.2,565.0 724.2,562.0 724.2,559.0 724.2,556.0 724.2,553.0 724.2,550.0 724.1,547.0" fill="#E4E4E4" stroke="#505050" stroke-width="0.9" stroke-linejoin="round"/>
<polygon points="705.7,547.0 705.7,551.3 705.7,555.6 705.7,559.9 705.7,564.2 705.7,568.5 705.7,572.8 705.7,577.1 705.7,581.4 705.7,585.7 705.7,590.1 705.7,594.4 705.7,598.7 705.7,603.0 705.7,607.3 705.7,611.6 705.7,615.9 705.7,620.2 705.7,624.5 705.7,628.8 705.7,633.1 718.8,633.1 718.8,628.8 718.8,624.5 718.8,620.2 718.8,615.9 718.8,611.6 718.8,607.3 718.8,603.0 718.8,598.7 718.8,594.4 718.8,590.0 718.8,585.7 718.8,581.4 718.8,577.1 718.8,572.8 718.8,568.5 718.8,564.2 718.8,559.9 718.8,555.6 718.8,551.3 718.7,547.0" fill="#D4D4D4"/>
<path d="M707.9,547.0 L707.9,551.3 L707.9,555.6 L707.9,559.9 L707.9,564.2 L707.9,568.5 L707.9,572.8 L707.9,577.1 L707.9,581.4 L707.9,585.7 L707.9,590.1 L707.9,594.4 L707.9,598.7 L707.9,603.0 L707.9,607.3 L707.9,611.6 L707.9,615.9 L707.9,620.2 L707.9,624.5 L707.9,628.8 L707.9,633.1 M710.3,547.0 L710.3,551.3 L710.3,555.6 L710.3,559.9 L710.3,564.2 L710.3,568.5 L710.3,572.8 L710.3,577.1 L710.3,581.4 L710.3,585.7 L710.3,590.1 L710.3,594.4 L710.3,598.7 L710.3,603.0 L710.3,607.3 L710.3,611.6 L710.3,615.9 L710.3,620.2 L710.3,624.5 L710.3,628.8 L710.3,633.1 M711.0,547.0 L711.0,551.3 L711.0,555.6 L711.0,559.9 L711.0,564.2 L711.0,568.5 L711.0,572.8 L711.0,577.1 L711.0,581.4 L711.0,585.7 L711.0,590.1 L711.0,594.4 L711.0,598.7 L711.0,603.0 L711.0,607.3 L711.0,611.6 L711.0,615.9 L711.0,620.2 L711.0,624.5 L711.0,628.8 L711.0,633.1 M713.4,547.0 L713.4,551.3 L713.4,555.6 L713.4,559.9 L713.4,564.2 L713.4,568.5 L713.4,572.8 L713.4,577.1 L713.4,581.4 L713.4,585.7 L713.4,590.1 L713.4,594.4 L713.4,598.7 L713.4,603.0 L713.4,607.3 L713.4,611.6 L713.4,615.9 L713.4,620.2 L713.4,624.5 L713.4,628.8 L713.4,633.1 M714.1,547.0 L714.2,551.3 L714.2,555.6 L714.2,559.9 L714.2,564.2 L714.2,568.5 L714.2,572.8 L714.2,577.1 L714.2,581.4 L714.2,585.7 L714.2,590.1 L714.2,594.4 L714.2,598.7 L714.2,603.0 L714.2,607.3 L714.2,611.6 L714.2,615.9 L714.2,620.2 L714.2,624.5 L714.2,628.8 L714.2,633.1 M716.5,547.0 L716.6,551.3 L716.6,555.6 L716.6,559.9 L716.6,564.2 L716.6,568.5 L716.6,572.8 L716.6,577.1 L716.6,581.4 L716.6,585.7 L716.6,590.0 L716.6,594.4 L716.6,598.7 L716.6,603.0 L716.6,607.3 L716.6,611.6 L716.6,615.9 L716.6,620.2 L716.6,624.5 L716.6,628.8 L716.6,633.1" stroke="#B4B4B4" stroke-width="0.6" fill="none" stroke-dasharray="2 1.5"/>
<polygon points="700.9,592.7 700.9,595.2 700.9,597.7 700.9,600.3 700.9,602.8 700.9,605.3 700.9,607.8 700.9,610.3 700.9,612.9 700.9,615.4 700.9,617.9 700.9,620.4 700.9,622.9 700.9,625.5 700.9,628.0 700.9,630.5 700.9,633.0 700.9,635.5 700.9,638.0 701.0,640.5 701.2,643.1 723.2,643.1 723.4,640.6 723.5,638.1 723.6,635.6 723.6,633.0 723.6,630.5 723.6,628.0 723.6,625.5 723.6,622.9 723.6,620.4 723.6,617.9 723.6,615.4 723.6,612.9 723.6,610.3 723.6,607.8 723.6,605.3 723.6,602.8 723.6,600.3 723.6,597.7 723.6,595.2 723.6,592.7" fill="#E3C2F2" opacity="0.65"/>
<path d="M700.3,548.0 L703.0,548.0 M703.0,550.3 L705.7,550.3 M721.5,550.3 L724.2,550.3 M718.8,550.3 L721.5,550.3 M700.3,552.7 L703.0,552.7 M703.0,555.0 L705.7,555.0 M721.5,555.0 L724.2,555.0 M718.8,555.0 L721.5,555.0 M700.3,557.4 L703.0,557.4 M703.0,559.7 L705.7,559.7 M721.5,559.7 L724.2,559.7 M718.8,559.7 L721.5,559.7 M700.3,562.1 L703.0,562.1 M703.0,564.4 L705.7,564.4 M721.5,564.4 L724.2,564.4 M718.8,564.4 L721.5,564.4 M700.3,566.8 L703.0,566.8 M703.0,569.1 L705.7,569.1 M721.5,569.1 L724.2,569.1 M718.8,569.1 L721.5,569.1 M700.3,571.5 L703.0,571.5 M703.0,573.8 L705.7,573.8 M721.5,573.8 L724.2,573.8 M718.8,573.8 L721.5,573.8 M700.3,576.2 L703.0,576.2 M703.0,578.5 L705.7,578.5 M721.5,578.5 L724.2,578.5 M718.8,578.5 L721.5,578.5 M700.3,580.9 L703.0,580.9 M703.0,583.2 L705.7,583.2 M721.5,583.2 L724.2,583.2 M718.8,583.2 L721.5,583.2 M700.3,585.6 L703.0,585.6 M703.0,587.9 L705.7,587.9 M721.5,587.9 L724.2,587.9 M718.8,587.9 L721.5,587.9 M700.3,590.3 L703.0,590.3 M703.0,592.6 L705.7,592.6 M721.5,592.6 L724.2,592.6 M718.8,592.6 L721.5,592.6 M700.3,595.0 L703.0,595.0 M703.0,597.3 L705.7,597.3 M721.5,597.3 L724.2,597.3 M718.8,597.3 L721.5,597.3 M700.3,599.7 L703.0,599.7 M703.0,602.0 L705.7,602.0 M721.5,602.0 L724.2,602.0 M718.8,602.0 L721.5,602.0 M700.3,604.4 L703.0,604.4 M703.0,606.7 L705.7,606.7 M721.5,606.7 L724.2,606.7 M718.8,606.7 L721.5,606.7 M700.3,609.1 L703.0,609.1 M703.0,611.4 L705.7,611.4 M721.5,611.4 L724.2,611.4 M718.8,611.4 L721.5,611.4 M700.3,613.8 L703.0,613.8 M703.0,616.1 L705.7,616.1 M721.5,616.1 L724.2,616.1 M718.8,616.1 L721.5,616.1 M700.3,618.5 L703.0,618.5 M703.0,620.8 L705.7,620.8 M721.5,620.8 L724.2,620.8 M718.8,620.8 L721.5,620.8 M700.3,623.2 L703.0,623.2 M703.0,625.5 L705.7,625.5 M721.5,625.5 L724.2,625.5 M718.8,625.5 L721.5,625.5 M700.3,627.9 L703.0,627.9 M703.0,630.2 L705.7,630.2 M721.5,630.2 L724.2,630.2 M718.8,630.2 L721.5,630.2 M700.3,632.6 L703.0,632.6 M703.0,634.9 L705.7,634.9 M721.5,634.9 L724.2,634.9 M718.8,634.9 L721.5,634.9 M703.0,547.0 L703.0,551.5 L703.0,556.0 L703.0,560.5 L703.0,565.0 L703.0,569.5 L703.0,574.0 L703.0,578.5 L703.0,583.0 L703.0,587.6 L703.0,592.1 L703.0,596.6 L703.0,601.1 L703.0,605.6 L703.0,610.1 L703.0,614.6 L703.0,619.1 L703.0,623.6 L703.0,628.1 L703.0,632.6 L703.0,637.1 M705.7,547.0 L705.7,551.5 L705.7,556.0 L705.7,560.5 L705.7,565.0 L705.7,569.5 L705.7,574.0 L705.7,578.5 L705.7,583.0 L705.7,587.5 L705.7,592.1 L705.7,596.6 L705.7,601.1 L705.7,605.6 L705.7,610.1 L705.7,614.6 L705.7,619.1 L705.7,623.6 L705.7,628.1 L705.7,632.6 L705.7,637.1 M721.4,547.0 L721.5,551.5 L721.5,556.0 L721.5,560.5 L721.5,565.0 L721.5,569.5 L721.5,574.0 L721.5,578.5 L721.5,583.0 L721.5,587.5 L721.5,592.0 L721.5,596.6 L721.5,601.1 L721.5,605.6 L721.5,610.1 L721.5,614.6 L721.5,619.1 L721.5,623.6 L721.5,628.1 L721.5,632.6 L721.5,637.1 M718.7,547.0 L718.8,551.5 L718.8,556.0 L718.8,560.5 L718.8,565.0 L718.8,569.5 L718.8,574.0 L718.8,578.5 L718.8,583.0 L718.8,587.5 L718.8,592.0 L718.8,596.6 L718.8,601.1 L718.8,605.6 L718.8,610.1 L718.8,614.6 L718.8,619.1 L718.8,623.6 L718.8,628.1 L718.8,632.6 L718.8,637.1" stroke="#666" stroke-width="0.65" fill="none"/>
<path d="M700.3,629.1 L712.2,632.3 L724.2,629.1 M700.3,633.0 L712.2,636.2 L724.2,633.0 M700.3,636.9 L712.2,640.1 L724.2,636.9 M700.4,640.8 L712.2,644.0 L724.0,640.8 M700.7,644.7 L712.2,647.9 L723.7,644.8 M701.1,648.5 L712.1,651.8 L723.2,648.7 M701.7,652.4 L712.1,655.7 L722.6,652.6 M702.3,656.3 L712.1,659.6 L721.9,656.5 M703.1,660.2 L712.0,663.5 L721.1,660.4 M704.0,664.1 L712.0,667.4 L720.1,664.3 M705.0,668.0 L712.0,671.3 L719.0,668.2 M706.1,671.9 L711.9,675.2 L717.8,672.1 M707.5,675.8 L711.8,679.1 L716.3,676.0 M709.3,679.8 L711.8,683.0 L714.4,679.8 M703.6,629.1 L703.6,632.7 L703.6,636.3 L703.6,639.9 L703.6,643.5 L703.6,647.1 L703.5,650.6 L703.5,654.2 L703.5,657.8 M708.2,629.1 L708.2,632.7 L708.2,636.3 L708.2,639.9 L708.2,643.5 L708.2,647.1 L708.2,650.7 L708.1,654.3 L708.1,657.9 L708.1,661.5 L708.0,665.1 L708.0,668.7 L708.0,672.2 M712.2,629.1 L712.2,632.7 L712.2,636.3 L712.2,639.9 L712.2,643.5 L712.2,647.1 L712.2,650.7 L712.1,654.3 L712.1,657.9 L712.1,661.5 L712.0,665.1 L712.0,668.7 L711.9,672.3 L711.9,675.9 L711.8,679.5 M716.2,629.1 L716.2,632.7 L716.2,636.3 L716.2,639.9 L716.2,643.5 L716.2,647.1 L716.1,650.7 L716.1,654.3 L716.1,657.9 L716.0,661.5 L716.0,665.1 L716.0,668.7 L715.9,672.4 M720.8,629.1 L720.8,632.7 L720.8,636.3 L720.8,639.9 L720.8,643.5 L720.8,647.1 L720.8,650.8 L720.7,654.4 L720.7,658.0" stroke="#5c5c5c" stroke-width="0.75" fill="none"/>
<text x="701.3" y="582.7" font-size="13.6" fill="#1a1a1a" stroke="#1a1a1a" stroke-width="0.28" font-weight="normal" font-style="normal" text-anchor="start" >IAA</text>
<line x1="712.4" y1="592.7" x2="712.4" y2="641.5" stroke="#D033F0" stroke-width="3.4"/>
<polygon points="706.6,641.0 712.4,650.5 718.2,641.0" fill="#D033F0"/>
<circle cx="712.3" cy="656.8" r="6.5" fill="#F0A8D8" opacity="0.55"/>
<rect x="709.1" y="653.6" width="6.4" height="6.4" fill="#D0103C" transform="rotate(0.5 712.3 656.8)"/>
<line x1="642" y1="624" x2="642" y2="681.9" stroke="#ABABAB" stroke-width="1.8"/>
<polyline points="646.0,674.4 642.0,681.9 638.0,674.4" fill="none" stroke="#ABABAB" stroke-width="1.8"/>
<line x1="733" y1="624" x2="733" y2="681.9" stroke="#ABABAB" stroke-width="1.8"/>
<polyline points="737.0,674.4 733.0,681.9 729.0,674.4" fill="none" stroke="#ABABAB" stroke-width="1.8"/>
<text x="665.7" y="709.5" font-size="14.3" fill="#1a1a1a" stroke="#1a1a1a" stroke-width="0.28" font-weight="normal" font-style="normal" text-anchor="start" >Gravity</text>
<path d="M772.1,575.2 L776.6999999999999,575.2 L775.3,665.6 L774.4,670.6 L773.5,665.6 Z" fill="#F4F4F4" stroke="#9a9a9a" stroke-width="0.8"/>
<path d="M774.4,575.2 Q772.9,571.2 766.7,567.9" stroke="#5C8A2E" stroke-width="4.6" fill="none"/>
<path d="M774.4,575.2 Q775.9,571.2 782.1,567.9" stroke="#5C8A2E" stroke-width="4.6" fill="none"/>
<ellipse cx="762.6" cy="559.0" rx="8.1" ry="11.7" fill="#8DC63F" stroke="#5C8A2E" stroke-width="0.9" transform="rotate(-25 762.6 559.0)"/>
<path d="M774.4,575.2 Q772.9,571.2 766.7,567.9" stroke="#8DC63F" stroke-width="2.8" fill="none"/>
<ellipse cx="786.2" cy="559.0" rx="8.1" ry="11.7" fill="#8DC63F" stroke="#5C8A2E" stroke-width="0.9" transform="rotate(25 786.2 559.0)"/>
<path d="M774.4,575.2 Q775.9,571.2 782.1,567.9" stroke="#8DC63F" stroke-width="2.8" fill="none"/>
<rect x="772.0" y="572.2" width="4.8" height="4" fill="#8DC63F"/>
<path d="M772.6,564.2 l1.8,2.4 l1.8,-2.4" stroke="#888" stroke-width="0.7" fill="none"/>
<path d="M821.1,575 L825.6999999999999,575 L824.3,665.6 L823.4,670.6 L822.5,665.6 Z" fill="#F4F4F4" stroke="#9a9a9a" stroke-width="0.8"/>
<path d="M823.4,575 Q821.9,571 815.7,567.7" stroke="#5C8A2E" stroke-width="4.6" fill="none"/>
<path d="M823.4,575 Q824.9,571 831.1,567.7" stroke="#5C8A2E" stroke-width="4.6" fill="none"/>
<ellipse cx="811.6" cy="558.8" rx="8.1" ry="11.7" fill="#8DC63F" stroke="#5C8A2E" stroke-width="0.9" transform="rotate(-25 811.6 558.8)"/>
<path d="M823.4,575 Q821.9,571 815.7,567.7" stroke="#8DC63F" stroke-width="2.8" fill="none"/>
<ellipse cx="835.2" cy="558.8" rx="8.1" ry="11.7" fill="#8DC63F" stroke="#5C8A2E" stroke-width="0.9" transform="rotate(25 835.2 558.8)"/>
<path d="M823.4,575 Q824.9,571 831.1,567.7" stroke="#8DC63F" stroke-width="2.8" fill="none"/>
<rect x="821.0" y="572" width="4.8" height="4" fill="#8DC63F"/>
<path d="M821.6,564 l1.8,2.4 l1.8,-2.4" stroke="#888" stroke-width="0.7" fill="none"/>
<text x="758" y="692" font-size="13" fill="#1a1a1a" stroke="#1a1a1a" stroke-width="0.28" font-weight="normal" font-style="normal" text-anchor="start" >Mock</text>
<text x="812.8" y="692" font-size="13" fill="#1a1a1a" stroke="#1a1a1a" stroke-width="0.28" font-weight="normal" font-style="normal" text-anchor="start" >IAA</text>
</svg></body></html>
